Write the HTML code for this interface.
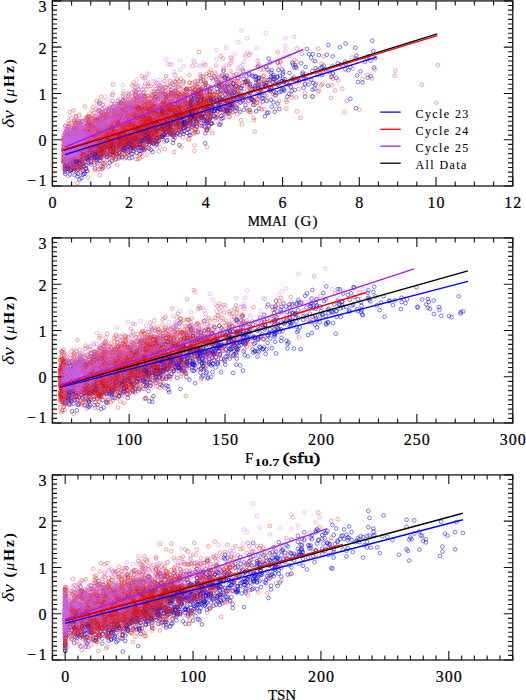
<!DOCTYPE html><html><head><meta charset="utf-8"><style>html,body{margin:0;padding:0;background:#fff;width:526px;height:700px;overflow:hidden}svg{display:block}text{font-family:"Liberation Serif",serif}.t{stroke:#000;stroke-width:0.22px}</style></head><body>
<svg width="526" height="700" viewBox="0 0 526 700">
<defs>
<marker id="mb" markerWidth="6" markerHeight="6" refX="3" refY="3" markerUnits="userSpaceOnUse" overflow="visible"><circle cx="3" cy="3" r="1.85" fill="none" stroke="#0000e6" stroke-width="0.7" stroke-opacity="0.72"/></marker>
<marker id="mr" markerWidth="6" markerHeight="6" refX="3" refY="3" markerUnits="userSpaceOnUse" overflow="visible"><circle cx="3" cy="3" r="1.85" fill="none" stroke="#e61e14" stroke-width="0.7" stroke-opacity="0.56"/></marker>
<marker id="mp" markerWidth="6" markerHeight="6" refX="3" refY="3" markerUnits="userSpaceOnUse" overflow="visible"><circle cx="3" cy="3" r="1.85" fill="none" stroke="#c864e6" stroke-width="0.7" stroke-opacity="0.55"/></marker>
<clipPath id="cp0"><rect x="52.4" y="0.9" width="460.35" height="185.1"/></clipPath>
<clipPath id="cp1"><rect x="52.4" y="237.9" width="460.35" height="185.1"/></clipPath>
<clipPath id="cp2"><rect x="52.4" y="474.9" width="460.35" height="185.1"/></clipPath>
</defs>
<g clip-path="url(#cp0)">
<polyline fill="none" stroke="none" marker-start="url(#mb)" marker-mid="url(#mb)" marker-end="url(#mb)" points="92.7,148.8 129.6,116.8 186.1,89.6 115.3,132 102.5,148.1 80.9,153.9 174.2,93.1 85.9,157.8 104.9,142.6 149.1,148.6 143.9,126.2 66.7,168.9 154.1,106.8 193.2,119.6 87.4,143.7 73.7,140.6 322.2,74.7 171.6,101.7 146.9,115.1 71.2,156.9 108.5,110.9 95.7,140.2 119.9,134.6 76.3,159.6 98.8,149.6 124.8,136 95.7,152.2 65.1,149 121.3,147.5 94.3,158.2 176.9,115.4 67.4,152.7 308.5,84.6 146.4,127.3 114.3,134.6 171,121.2 185.6,105 80.2,142.7 315.1,61.2 143.5,140 177.2,116.2 155.4,119.2 115.7,145.1 76.3,151.1 86.2,152.8 267.5,69.7 169.7,130.2 290.7,87.1 130.1,110.7 155.4,129.1 115.7,144.7 94,137.4 145.4,134.8 116.6,127.1 102.3,141.1 356.2,55.5 214.5,116.6 313.2,83 168.1,126.8 230.1,110.9 127,135.1 161.6,126.6 91.7,136.3 104.8,138.6 124.5,150.6 79.9,163.3 94.3,137.8 133,130.6 94.8,136.9 154.4,130.1 150.9,111.7 102.8,148.8 206.8,90.1 98.2,153.9 279.2,92.1 206.8,108.6 159.4,125.4 118.2,138.8 99,131.6 166.6,118.4 105,143.9 132,119.8 80.6,152.6 140.7,142.3 92.8,132.5 116.9,141.9 113,144 236.9,108.3 164,127.5 154.4,135.1 66.6,164.2 175.8,122.6 90.2,127.7 103.7,147.9 81.3,144.7 304.1,78.7 328.4,45 96.4,151.5 169.3,129.4 137.4,118.9 256,79.7 102.6,131.2 174.7,111.8 101.2,157.9 128.4,119.1 136.5,127.4 74.9,159.2 216.1,98.1 332.8,56.4 130.1,117.1 65.1,156.9 153.8,130.2 141.9,131.3 191,101.4 202.5,107.7 126.4,129.4 196.7,102.5 260.2,87.4 128.6,141.1 291.8,90.8 168.2,111.1 217,99.8 117.5,133.8 72.9,156.9 73.6,162.4 226.9,84.1 182.9,123.4 142.1,140.5 274.2,92.1 240.6,102.5 168.1,130.5 145.2,122.4 106.7,130.7 170,126.1 276.3,93 345.6,63.8 140.7,139.9 147,117 151.4,125.8 135.2,112 195.1,97.5 255,86.2 108.8,143.6 69.4,158.6 162.1,136.5 99.5,157.3 157.6,121.2 294.7,90 184.2,130.9 70.5,162.2 217.1,100.3 193.7,95.4 175,103.8 91.8,133.8 88.1,159.6 219.6,106.6 78.7,152.1 197.2,126.7 296,67.5 144,137.5 68.7,160.6 207.3,130 196.4,121.6 115.1,141.9 101.3,119 161.4,113.7 93.4,153.7 220.2,109 151,115.4 175.3,115.2 80.5,156.1 146.2,127.8 200.4,99.6 110.5,136.2 102.2,131.9 151.3,110.4 277.6,103.7 142.5,145.6 129.9,134.2 164.2,134 100.2,141.3 106.9,133.1 101.9,140.1 69.9,142.2 266.1,85.3 173.3,134.4 205.1,116.8 350.5,67.3 75,149.4 110.6,154.3 191.6,99.9 77.5,144.4 98.7,132.7 106.3,121.9 171,116.6 182.5,121.4 65.1,159.6 170.3,133.4 178,103.3 299.4,81.1 101.5,132.5 76.1,151.8 184.8,122.4 127.3,104.5 123.1,148.3 193.5,110.5 167.2,123.1 140.4,140.7 74.5,164.3 135.1,124.9 140.4,132.6 78.4,155.4 99.7,141 130.4,147.5 124.3,126.8 213.3,99.8 118,135.6 151.3,122.5 189.2,135 125.7,148.2 104.2,129.7 227.4,85.6 84.5,150.5 132.4,146.3 249.9,92.7 258.7,78.2 145.2,97 183.5,127.8 156.4,142.1 81,142.6 305.1,84.3 158.8,120.6 117.8,136.9 318.9,55.1 170.9,107.8 77.1,160.6 163.3,127.1 147.4,140.3 83,174.5 121.7,129.5 187.8,109.2 190.1,106.3 153.5,118.6 245.5,82.2 106.2,141.4 115.4,123.7 151.5,119.5 112.6,145.4 70.8,169.9 110.9,151.7 270.9,76.7 102.9,140.9 120.5,132.8 127,143.4 253.5,101.4 154.9,124.9 110.9,122.2 80.4,123.4 220.3,87 200.8,94.1 87.6,132.2 149.7,126.2 82.2,140 145.6,110.9 159,120 67,158.6 120.4,144 128.1,117.2 114.5,132.1 69.3,166.3 253.2,76.3 274.2,79.4 114.1,124.8 267,113.1 159.1,119.7 141.5,134.5 102.4,142.5 189.8,111.8 158.9,140.9 191.9,103.6 135.5,139 70.1,140 74.7,133.1 152.1,126.2 95.5,153.3 190.1,122.4 122.4,122.3 139.9,123.2 144.7,125 181.4,117.8 157.3,137.4 100.6,134.4 99.2,142.7 115.2,143.5 147.9,137.1 170.2,127.9 148.7,115.7 162.5,111.8 125,129.3 108.3,134 288.8,84.8 124.7,142.8 67.9,153.7 91.3,138.8 176.7,110.7 146.5,128 95.6,153.5 271.7,70.2 118.4,140.8 133.6,134.2 207.8,122.7 367.7,77.7 115.1,144.3 72.3,162.1 145.6,138.7 182.1,132.1 142,136.8 270.2,62.6 112.4,146.6 130.4,147.7 75.8,143.1 77.9,153.9 235.3,89.9 328,85.7 181.9,125.1 146.8,135.8 155.2,118.7 201.7,96.6 80.4,150.5 139.7,150.6 111.5,120.9 294.3,67.5 211.9,106.7 190.4,135.3 78.5,162.2 65.1,162.2 227.7,109.4 110.8,121 89,138.9 95.8,142.3 91.9,145.3 72.7,152 149,124.4 203.2,114.2 111.4,139.2 67.9,167 140.2,134.6 208,86.4 97.3,142.8 293,64.4 88.4,154.1 133.4,139.8 66,135.2 135.5,129 201.7,98.2 148.8,141.6 122.3,128.4 305.6,67 109.6,138.5 143.2,140.2 71.9,147.8 211.6,106.7 122.9,135.7 121.2,103.5 213.8,111 111.3,145.2 374.1,67.6 171,110.4 276.9,76.6 197,99.2 119.6,138.7 183.2,123.5 134.3,117.2 159.3,107.8 265.6,86.3 110.6,135.9 113.1,132.4 123.1,141.4 76.3,163.5 207.1,108.3 137.9,140.6 113.3,144.6 154.8,121.7 127.9,141.9 172,134.7 90.7,162.7 96.7,129.9 84.6,173.7 111.6,130.6 200,102.6 211.7,78.1 134.8,138.3 139.8,154.3 148.6,135.9 177.4,124.9 69.8,166.3 65.3,174 139.2,127.4 167.8,121.9 79.3,146.4 98.4,127.7 135.5,114.3 273.2,75.2 87,170.9 94.1,139.4 185.5,108.7 90.6,145.9 228.6,113.1 95,148.9 227.8,100.9 228.1,100.1 133.6,138 74.4,147.9 120.5,131 105.8,140.1 189,113.8 116.9,146.2 355.4,47.8 150.9,139.1 114.2,126.2 175.8,131.2 245.4,105.1 161.6,94.5 225.5,86.8 101,150.8 207.8,110 253.5,100.1 125.1,144.7 108.5,141.5 75.1,162.1 173.9,135.8 125.8,117 368.3,56.5 93.7,147.6 143.5,117.6 144.3,130 205.4,88.1 94.5,149 65.1,167 152.6,112.8 189,115.7 149.7,124.1 109.4,138.7 99.3,126.4 234.4,99.6 151.1,118.7 175,109.9 99,145.1 184,122.2 233.1,99.1 187.9,125.9 114.8,130.5 312.3,70.8 124,139 176.5,116.7 72.2,153.2 86.1,148.3 88.7,149.9 113.4,132.5 144.4,128 100.8,144.6 108.3,135.1 146.2,125.9 109.4,130.3 136.9,145.1 125.5,136.6 143.5,116.6 144.3,150.3 201.3,123.1 222.5,102 198.3,113.8 131.4,123.6 200.6,117.5 189.3,106.4 100.2,137.1 314.6,88.6 80.5,154 131.9,157.6 151.7,142.7 189.1,110.5 85.7,139.7 187.3,121.4 358.1,81.9 235.3,111 65.1,154.8 92.9,143.6 232.9,83.4 306.9,48.9 199.1,115 119.1,128.9 83,151.8 174,104.4 102.1,151 137.9,130.4 284.1,90.7 68.2,158.4 134.1,138 255.2,76.8 67.6,162.2 217.9,108.6 168.7,125.5 98.7,147.7 116.3,145.2 101.9,131.4 83.7,154.9 134.4,123.7 159,112.1 208.3,99.9 80.8,157.7 292.6,78.6 121.1,129.9 258,66.4 238.3,97.4 81.1,158.6 145.2,116.5 234.6,91.4 160.6,113.3 138.5,147.6 220,98.4 69.7,153.8 204.6,126.3 72.4,137.3 256.2,82.5 190.3,121.5 112.9,141.2 168.7,125.5 84.2,148.9 152.6,115.4 159.7,124.1 191.8,124.4 345.1,61.6 207.1,109.4 265.7,86.6 253.2,104.9 227.2,111.2 158.1,124.5 215.2,107.8 156.8,143.7 91.1,148 89.2,151.5 82.4,140.1 133.8,126.7 164.6,134.9 75.8,158.3 166.6,106.2 190.1,102.5 242.4,95.3 113.5,139.7 77.1,149.4 286.6,83.2 232,94.8 133.2,150.9 105,147.2 105.4,140.5 88.1,140.5 248.6,92.6 78,146.6 205.2,82.9 93.1,144.6 272.5,77.1 95.3,157.3 189.7,118.8 243.1,71.1 183.8,119.9 65.1,150.7 81.3,142.4 89,142.6 240.2,96.5 282.9,73.8 162.5,113.1 75.3,148.3 88.5,125.1 183.6,125.4 135.7,129.9 116,140.5 107.2,129.5 156.2,117.7 156,114.4 139.7,128.7 65.1,147.9 178.5,123.2 164.4,113 303.5,87.9 198.2,119.2 87.8,130.9 180.4,115.6 120.8,140.4 112.4,151.7 132.4,145.6 283.1,71.8 129.9,128.1 65.1,150.9 125.5,122.9 101.4,156.6 210.8,117.3 184.2,127.8 251.9,99 140.4,123.3 126.7,121.8 116.5,121.2 70.9,165.1 98.3,131.1 124.7,127.8 113.9,149.1 112.3,140.7 166.6,116.2 215.4,117.8 151.6,107.2 224.1,106 117.2,134.1 76.1,140.9 271.2,88.5 230.5,85.7 97.7,146.3 101,136.6 130.8,150.1 130.2,117.6 183.8,112.4 171.2,120.9 103.4,134 130.1,131.1 78.4,169.2 80.9,157.1 188.3,116.3 137.6,128.5 124.3,148.3 266,67 238.3,78.1 119.3,157.3 168.6,108.4 86.8,158.4 289.5,73 110.4,135.3 192.4,103 244.1,109.7 97.1,131.5 158.1,127.2 191.5,100.5 160.1,137.2 74.5,147.7 66.9,156.9 144.6,135.3 163.1,126.4 283.5,82.2 108.5,166.5 160.6,114.7 80.8,143.2 138.9,138.6 101.6,154.6 114.8,131.6 66.6,164.8 165.4,120.5 145.1,131.2 109.7,154.4 88.1,155.5 112.9,142.1 146.5,135.9 109.8,139.7 134.8,119.1 317.3,70.1 325,69.6 156.3,131.8 129.5,108.4 119.5,144.7 185.2,123.6 93.6,150.1 88.2,136 117.1,137.1 108.3,146 246.5,81.6 211.4,123.4 210.6,106.9 133.5,125.2 76,156.8 101.3,141.4 282.2,69.5 223.7,70.6 132,125.5 110.3,149.3 156.2,144.7 68.3,153.3 95.7,126.6 168.8,116.8 67.3,162 95.1,168.5 244.9,82.3 229.5,95.2 96.9,134.5 116.4,136 169.5,128.6 154.7,106 127.1,119.5 104.2,152.6 106.7,137 315.3,84.8 70,137.3 89.8,147 73.2,163.7 169,114.9 118.2,141.6 258.3,81.5 172.3,130.3 83,170.6 129.4,158.2 74.6,146.9 72.2,144.3 152.5,126.4 174.8,115.8 153.4,129.6 142.8,136.8 168.7,130.1 197.3,103.1 67.7,134.2 153.4,129.5 156.1,124.2 157.8,129.8 197.7,131.9 193,92.6 124.4,133.9 102.9,142 259.1,95.6 178.3,122.7 192.4,112.4 101.2,135.7 111.1,136.9 135.1,130.6 80.3,141 255,88.7 123.1,100.2 77.3,176.4 96.3,146.8 264.6,95.6 117.7,132.1 107.9,138.3 102.9,144.5 362.6,82.5 93.4,151.2 84.6,135.4 147.2,126.4 116.3,126.1 70.4,160 68.5,150.1 148.9,131.9 142.6,133.1 194.7,117.6 108.2,119.3 203.9,99.2 165.2,126.1 125.3,122.7 248.9,74.4 124.9,133 151.1,130.9 142.9,134.8 121.9,136.1 176.3,121.5 188.4,128.8 87.5,149 203.8,102 121,131.6 169.3,113.8 183.8,127.5 102.6,144.1 123.2,128 71.1,149.3 65.1,154.7 149,132.8 158,106.8 241.5,96 65.3,157.7 80.6,142.5 302.7,72.5 67.5,167.3 127.5,152.6 101.5,150.9 277.6,77.1 169.9,118.2 158.1,99.1 151.1,133 118.3,148.8 74.8,160.6 147.1,134.2 287.3,96.6 200.7,81.2 242.5,100.9 278.8,82.7 149.9,120 150.1,109.2 102.9,153.1 204.1,99.7 195.5,94.6 114.8,145.2 211.9,123.5 120.4,142.4 242,85.8 273.9,77 150.3,134.1 165.9,121.2 93.7,134.9 69.4,151.2 158,118.5 106.1,131.7 80.1,150.4 88.5,147.9 110.2,141.5 79.6,179.4 152.2,117.5 126.8,134.7 146.7,115.7 116.8,132.8 216.8,88.8 256,76.3 221.6,118.6 174.5,100.6 166.5,140.9 155.8,126.1 132.5,144.7 134.7,123.6 100.6,141.6 207.6,106.2 126,148 74.2,145.5 205.7,105.9 221.6,99.7 177.7,109.8 127,132.6 185.1,114 75.1,147.2 126.1,139.7 120.1,133.2 76.4,148.8 167.5,118.1 183.4,134 74,147.1 138.7,107.9 139.8,144.6 137.4,119.2 110.2,141.8 83.7,131.1 122.1,127.4 89.8,136.8 175.1,114.2 185.3,102.1 210.8,98.9 129.7,136.1 130,128.7 105.3,142 100.8,153.6 133.3,136.5 116.4,130.6 99.6,152.5 78.6,166.5 195.5,119.2 145.5,116.5 192.2,114.8 116.4,129.5 80.6,139.2 190.1,119.7 227.7,111.5 191.6,107.8 179.4,114.8 77,151.8 107,157.2 70.9,139.4 105.2,129.1 99.5,136.2 65.1,151.5 119.2,136.2 113.9,127.6 75.8,167.8 280,75.8 157.9,117.3 109.1,146.6 218.9,86.3 150.9,116.1 97.4,149.9 148.5,133.5 302.5,74.1 119.8,131.9 92.3,143.6 119.1,135.8 119.4,126.9 91.4,152 169.9,133.4 78.7,147 65.1,153.7 122.1,145 129.3,139.2 201.2,100.2 89.7,139.8 145.8,116.9 72,158.4 148.7,139 230,105.5 159.1,121.4 178.4,114.8 127.9,126.8 91.5,152.1 77.3,148 106.9,135.1 113.3,125.5 72.7,148.5 120.3,132.1 124.6,143.7 177.9,103.9 95.3,130.3 172.4,110.7 116.9,139 236.8,96.9 65.1,147.5 235.7,86.5 233.5,96 142.5,132.1 209.7,111.9 194,115.6 95.5,142.9 86.3,165.1 129.8,126.5 173.6,113.7 178.9,110.6 96.6,146.7 180.6,128.7 212,91.9 279.3,85.8 102.9,136 120.5,134.8 68.9,159 168.1,124.3 85.5,134.6 139.2,116.1 74.5,151.6 113.3,128 155.9,111.5 150.8,138 102.7,144 150.2,139.2 78.4,142.3 93.5,134.6 126.4,126.7 131.9,144.5 151.6,115.6 75,155.6 163.6,108 175.6,107.4 226.2,107.2 218.4,104.6 133.8,128.3 65.6,156.3 173.3,107.9 68.1,147.3 110.6,135.9 137.5,116.2 65.9,145.1 232.1,103.9 155.7,129.9 132.6,111.7 225.2,98.2 110.6,146.5 113.2,139.6 200.2,116 207.2,128.2 81.8,150.3 94.2,123.4 88.6,144.7 162.6,103.2 95,146.4 68.3,168.5 256.1,111.1 203.8,103.4 191.3,112.8 170.7,124.2 85.8,159 140.9,127.4 97.4,139.3 103,167.2 138.9,125.4 201.5,108.9 91.4,153.4 198.5,108.1 72.2,150.9 104.6,139.7 98.2,132.1 138.4,127.2 169,112.2 231.1,92.9 138.3,116.3 155.2,131.6 128.9,134.6 81.9,141.2 152.7,129.3 74.5,168.3 81.2,148.1 112.8,141.6 203.4,96 166.5,124.2 221.3,90.4 261.8,83.6 192.7,113.2 122.8,111.5 231.3,104.9 203.9,113 118,136 81.2,140.1 181.1,106.6 80.9,160.4 154.8,99.4 236.4,94.1 189.9,120.7 78,149.3 357.1,75.5 271.8,106.7 179.8,135 99.5,132.2 131,138.2 138.9,127.3 66,142.1 151.2,115.8 206.6,121.3 95.9,145 218.2,92 66.2,162.5 108.5,147 193,124.6 105.1,126.9 82.8,149.6 149.3,128.5 70.7,152.5 130.3,120 86.1,148.1 84.7,141.2 164.8,117.7 197.8,91.6 80,149.9 67.9,135.9 276.6,80.9 82.4,162.9 322,66.8 128.7,127.1 178,115 151.2,118 92.3,137.7 112.7,143 164,108.4 71.7,146.7 332.6,65.8 177.9,123 208.7,126.2 125.3,124.3 202.7,117.3 132,132.6 333.1,73.6 66.2,152.8 110.5,134.5 120.7,132.3 143,128 130.7,136.8 163.6,129.1 84.1,152.4 97.4,144.2 236.7,100.9 78.3,156 258.5,88.4 89.3,138.8 107.4,137.4 145.4,108.3 138.6,118.1 198.3,113.8 89.6,157.3 119.8,131.4 162.8,114.8 125,138.7 135.4,139.1 149.6,125.7 152.3,125 151.2,134 118.6,142.4 65.1,141.9 128.2,126 282.5,89.5 137.9,116.7 249.6,96.6 120.9,128.1 122.2,139.9 91.6,134.6 136.5,130.7 205.1,115.8 156.9,117.8 177.3,113.7 116.1,142.5 213.1,98.7 266.5,101.1 127.6,131.4 156.6,139 174,109.8 145.3,120.8 122.2,149.3 191.1,105 225.1,78.3 80.6,155.1 87.3,158 170.9,124.6 96.7,156.7 195.6,117 144.4,134.1 198.2,94.1 144.7,122.1 89.5,153 154.5,126.6 73,129.5 65.1,147.3 174.2,132.8 83.9,173.7 112.4,140.5 134.4,125 97.4,137 190.2,118.5 96.7,157.8 134.2,120.6 166.2,122.5 178,124.3 68.1,150.5 197.7,103.8 225.4,107.2 206.4,121.1 110.2,122.6 143.4,131.8 81.3,145.6 145.6,119.9 160.6,124.7 99.1,127.3 90.7,131.6 139.1,123.8 167.2,123.4 221.9,85.4 198.6,96.9 87.7,144.3 145.5,142.1 130.8,142 171.6,116.8 270.1,90.2 69.7,146.7 127.7,134.3 226.1,89.7 65.5,154.5 194.8,90.3 150.8,115.9 65.3,164.8 111.5,139.7 151.8,113.8 264.9,116.4 206.5,121.6 69.6,159.4 78.4,161.5 115.3,135.7 214.9,110.8 148.1,137.5 159.6,116.3 250.2,83.8 73.3,145.9 74.9,144.7 150.9,149.8 72.8,142.1 80,145 167.4,134.8 315.7,68 331.8,77 167.7,119.2 109.9,134.3 168.7,115.5 79.8,167.6 111.3,145.2 80.5,153.4 141.8,141 154.4,115.9 126.3,125.8 348.5,70.2 137.6,126.4 216.3,79.5 79.7,158.3 126.2,157.4 113.3,155.5 350.4,98.7 91.3,152.5 360.5,71.3 142.2,128.5 126.8,127.7 78.1,173.7 91.1,138.1 121.3,139.5 142.1,119.4 146,127.6 128.3,134.8 65.1,171.8 282,81.3 94.8,142.7 112.7,151 154.5,118.3 77.6,140.9 101.3,144.5 111.1,143.6 230.8,90.6 122.5,109.2 93.9,145.1 91.6,142.6 79.5,153.9 82.9,136.8 123.4,143.3 201.7,115.9 71.4,164.9 125.8,142.6 129.1,119.1 356,58.8 80.7,150.4 345.6,43.5 269.8,79.8 184.3,107.1 176.9,125.6 141.9,130.8 91.2,164.6 281.3,91.3 127.4,137.6 136.6,124.1 88.6,162.7 168.1,125.5 132.4,116.2 203.6,111 172.2,122.6 243.5,78.8 258,78.2 85.8,147.1 111.9,160.8 141.6,113.2 148.7,125 138.1,127.5 274.7,111.8 201.8,126 149.2,134.1 67.7,150.8 123.9,142.9 112.7,123.9 146.8,141.1 122.6,118.6 117.6,131.2 106.4,127.1 65.1,155.2 157,111.7 240.9,87.8 213.5,102.8 207.8,101.2 146.8,123.6 70.5,159.7 117.9,143.2 107.5,144.2 157.1,138.1 112.1,141.2 167.9,108.8 199.9,113.1 225.5,113.8 130.1,143.5 222.1,75.6 143.3,132.4 151,119.8 125.8,139.2 364.9,62 152.4,125.9 84.2,145.7 73.5,159 99.5,146.5 151.7,128.9 73.5,140.1 73.6,147.5 134,132.6 83,141.1 153.4,132.1 98.6,138.6 154.2,125.9 193.9,118.6 113,152.1 176,119.5 147,128.6 105.3,124.2 105.1,125.9 149.1,144.6 192.3,115.1 102.8,142.9 137.4,133.2 216.5,84.8 66.5,164 71.4,150.6 95,153.7 104.6,135.6 175.7,112.8 66,150.4 111.9,131 271.2,72.8 152.7,140 309.1,54 90,140.1 104.8,126.1 268.6,58.6 138.1,128.9 80.3,166.7 133.6,138 197.3,121.2 146.5,130.3 190.3,101.5 66.4,136.6 187.7,129.2 82.1,161.8 123.5,128.5 207.7,98.3 82,136.2 162.5,113.8 79.2,159.9 126.2,136.6 163.5,111.5 230.7,103.2 88.3,136.2 99.6,145.8 132.7,131.6 356,108.3 79.4,148 74.1,170.7 211.2,99.6 189.7,103.8 108.1,142.7 227.9,79.1 340.5,64.7 156,113 152,135.6 268.4,112.5 165.9,132 78.7,149 84.1,148 169.9,115.5 366.4,57.7 163.9,118.9 323.7,65.6 174.5,110.6 92.9,140.2 240.4,88.1 132.8,147.5 337.8,63.3 194.6,108.1 144.8,123.5 98.6,135.9 114.9,135.3 141.5,119.2 120.2,128.6 219,108.1 120.3,133.4 171.3,126.2 75.6,157.8 97.8,158.5 132.7,118.3 116.1,133.4 243,99.7 139.6,127.1 65.1,170 150.3,121.1 246.3,97.4 93,154.1 181.6,103.5 68.3,160.7 79.3,136.7 109.9,142.7 225.8,101.4 71.8,152.3 184.5,98.1 153.6,143.4 182.2,110.5 91.1,130.4 97,149.7 153.5,121.9 132.3,128.1 224.5,90.2 187.1,88.7 97.4,163.3 156.9,129.4 219.3,124.6 209.7,97.2 94.5,147.5 187,132.9 109,147.1 236.3,85.7 370.8,76.3 273.5,102.3 215,108.6 100.2,150.6 65.1,146.7 78.4,144.9 147.9,129.8 146.5,134.9 86.2,145 112.8,135.5 72.6,152.4 65.5,162.4 127.8,146.6 147.8,115.2 109,128.3 144.5,118.7 125.9,137.5 174.2,116.4 144.4,119.3 88.3,134.9 103.5,137 140.6,146.8 91.6,131 249.8,85.1 147.3,126.5 86.8,144.5 144.2,125.3 213.8,111 94.7,127.5 210.2,106.7 113.5,134.8 188.5,114.5 249.7,110 176.1,123.6 80.6,147.6 119,124.3 111.2,136.1 80.3,140.2 115.9,146.2 207.3,118.9 152.3,130.2 151.3,115.9 115,136.5 128.7,146.7 284.6,81.8 185.9,109.4 116.9,139.6 153.9,127.5 146.5,112.2 211,112.8 105.5,132.1 110.8,148.6 149.2,139.5 186.7,123.4 234.3,92.7 138.1,135.7 88.4,153.3 240,111.7 104,127.4 205.4,133.3 162,123.5 298,78.7 188.8,120.6 166.5,106.1 88,143.2 129.1,151.8 140,144.2 65.1,161.1 65.1,137.6 113.5,148.3 79.8,158.9 210.1,118.4 161.9,129.1 162.5,120.5 125.5,112.8 123.6,133.3 121.7,157.3 114.2,141.3 277.9,84.6 121.3,137.4 312.7,54.2 87.8,146.7 278.3,70.1 170.5,106.3 86.5,148.9 220.2,124.6 177.8,118.5 173.5,139.8 93.6,146.2 120.9,124.3 329.2,71.8 125.7,137.7 87.6,153.5 101.3,140.4 86.2,168.4 162.4,129.4 294.2,77.5 167.9,115.5 258.6,86.1 84.1,133.1 70.4,145.8 148.4,119.5 138.9,135.3 182.9,123.3 162.8,101.9 151.2,140.3 225,99.9 78.1,153.1 252.6,88.8 73.1,154 87.5,142.1 163.9,126.9 92.1,157.6 71.3,153.5 193.2,114.3 111.6,142 148.9,127.4 191.1,97.6 183.4,99.8 80,149.4 139.7,125.9 229.4,104.8 226.3,109.5 279.4,109 72.3,162.9 111,143.3 65.1,154.3 69.9,174.4 96.5,147.7 210.8,123.7 165.3,124.6 68.6,159.7 109.4,132.8 116.1,159.1 107.4,142 68.6,151.8 70.5,170.5 130.4,135.2 101.2,141.6 196.3,112.2 75.9,157.4 184.8,124.3 193.5,116.3 168.4,105.7 85.9,169 76,143.4 131.9,141.9 146.2,131.4 110.3,144.1 227,75.5 107.5,145.2 163.4,136.8 95.2,137.2 152.3,111 236,106.5 83.1,163.9 200.9,89.1 167.3,140.2 111.1,144.5 109.5,141.6 125.4,134.5 158.9,120.4 91.8,147.3 158.1,118.7 121.8,111.3 104.5,126.6 164.5,119.5 125.4,137.5 114.3,139.4 191,106.4 92.6,147.8 267.8,80.1 76.6,150.1 111.4,122.5 68.6,151.8 137.8,124.1 275.5,95.3 179.4,145.2 153.3,143.4 166.9,132.2 201.9,106.1 126.1,141.7 246.5,76.1 133,147.6 226.8,91.5 123.5,129.5 370.5,60.7 188.1,109.1 110.8,123.8 96.4,145 142.8,127.3 68.7,163.2 202.1,117.4 238.7,96 182.5,115.4 117.4,134.3 168.1,120.1 301.2,63.2 186,109.3 106.7,156.8 205.1,143.2 252,75.5 74.8,150.9 254.4,87.7 107.1,140.2 68.7,151.2 119.1,121 196.8,109.7 67,153.7 135.7,140.2 120.8,120.3 138.1,134.4 165.4,129.7 69.9,170.7 119.2,127.3 99.1,148.3 195,98.9 230.2,107.7 89.4,155.2 116.1,139.9 107.4,155 250.8,99.2 177.2,110.7 115,117.2 177.5,133.7 140.5,109.3 113.5,144.8 91.2,145.7 82.7,149.1 173,143 130.5,137.5 231.8,87.1 129.2,123.7 161.9,108.4 80.2,160.4 82.1,133.3 339.8,47.2 90.1,137.5 87.7,141.1 65.1,145.7 345.4,69.3 98,140.6 154.7,110.3 165,129 192.3,126.8 269.3,90.2 179.1,130 151.3,123.8 102.5,137 79.6,147.2 119.6,130.9 97.1,139.6 141.6,119.7 130.7,135.7 103.6,163.4 118.8,153 97.9,128.4 161.7,111.1 89.5,147 123.4,150.3 143,114.1 139.3,124.9 211.8,111.2 117.4,127.3 101.9,135.7 190.9,116.6 148,118.3 181.2,112.9 75,154.6 215,109.3 176.7,112.5 140.1,119.9 112.7,120.4 149.1,138.3 74.6,146.1 88.3,146 106.3,136.8 130.5,141.1 303.7,75.6 83.5,145.3 282.9,78.7 179.5,115.3 257.8,87.1 233.5,83.5 228.4,94.3 137.9,113.8 172.9,121 139,125 132.8,143.5 184.4,99.8 336.4,77.9 247.8,80.9 93.4,149.5 97.4,141.5 86.9,142.2 145.9,138 93.8,129 141.4,151 110.6,132.5 87.5,125.8 95.4,151.5 184,115 74.7,157.3 136.1,116.5 138,136.7 181,127.7 284,89.4 118.8,133.1 229.5,104.7 114.6,137.2 149.8,127.2 152.8,130.6 209.4,113.5 108.8,138.6 84.2,140 76.8,170.3 91.4,155.6 139.8,132.7 126.3,114.1 87.8,146.7 225.4,77.4 95.5,153.2 129.7,129.3 183.8,125.2 65.1,142.4 162.2,112.3 95.9,140.4 111.6,119.5 132.4,153.9 191,114 99.9,132.6 173.2,115.5 126.4,146.7 65.1,149 76.7,162.2 190.7,105.7 89.9,149.7 320.6,68.2 108.9,141.1 135.5,116.2 168.3,104.8 89,144.3 375.1,58.1 92.9,145.5 159.9,130.7 277.8,62.5 372.3,40.8 155.5,119.6 265.9,83.1 130.6,141 108.2,140.3 225.9,90.7 84,154.8 142.8,114.4 94.9,147.2 80.8,146.1 101,146.7 76.3,148.5 69.9,159.3 106,140.3 136.6,145.7 96.4,141.2 185.4,122.5 227.2,100.6 135.9,132.4 92.8,151.5 125.6,144.6 295.4,65.4 65.1,166.1 281.9,81.1 99.1,155 80.5,139.1 221.3,116.1 75.8,152.4 109.4,139.1 138.6,124.2 75.2,156.2 89.8,155.2 80,145.6 163.6,130.4 270.5,87.8 199.1,102.9 80.9,166.4 65.1,155.2 78.8,141.3 93.7,140.2 138.3,127.4 93.8,152.7 115.7,142.4 132.5,138.5 169,131.9 206,107.1 151.5,128.7 271,99.7 101.2,140 223.2,118 124.1,133.9 103.8,132.4 201.1,117.7 65.9,160.7 88.6,144.3 132.7,120.6 165.6,125.4 94.8,138.5 265.5,85.8 172.4,111.1 160.1,136.9 73.8,168.9 172,130 65.5,169.3 92.3,146.6 105.2,134.9 118.9,138 133.6,129.2 118.1,121.4 179,97.6 123.6,149.9 122.1,131.1 78.8,150.1 220.8,105 106,143.9 220.4,109.8 312.5,89.7 115,138.2 143.9,149.5 86.2,158.6 184.3,121.8 123.6,131.2 101.9,134.2 193.4,117.1 326.8,54.8 148.8,122.7 81.5,178 167.9,118.3 124.9,138.1 105.8,146.5 117,141.7 123,138.4 108.5,144.4 155.4,134.3 92.6,128.4 70.4,137.2 152,121.8 150.1,141.9 119.4,117.9 96.1,136.7 179.6,118.3 113.2,140 211.4,100 107.7,150.7 273,79.2 83.6,138.4 145.4,122.2 129.2,121.9 263,98.2 101.2,139.2 209.8,118.9 219.6,99.1 132.4,140.1 211.8,101.4 100.1,132.1 138.9,140.4 151.1,117.1 90.7,161.3 130.9,138 196.8,123.1 166.8,113.6 197.9,96.5 156.4,138.2 82.2,121.7 171.1,90.1 223.1,109.5 146.6,144 69.2,133.9 159.4,125.8 163.5,116.2 120.7,140.3 89.3,142.6 161.5,117.3 132.9,117.1 166.2,121.9 136.3,124.9 70.5,154.9 80.3,158.1 109.4,142.8 67.5,152.9 196.7,93.4 81.2,151.2 131.7,127.5 219.4,109.2 207.9,105.9 75.3,156.7 305.9,78.8 105.2,131.5 143.5,133.6 66.7,133.3 136.7,143.8 127.8,139.1 179.2,107.4 171.7,124.2 260.9,89.6 153.4,121.6 71.5,169.7 76.8,160.6 67.5,159.7 312.6,96.5 155.5,120.7 77.8,154.5 73.6,142.4 110.8,124.7 147.9,127.1 151.1,131.9 111,125.7 77.4,145.2 142.5,134.1 113.7,129.4 92.2,142.1 135.4,130.8 98,133.5 289.1,93.8 154.9,115.7 96.4,138.8 91.5,148.2 185.7,124.5 113.4,138.1 142.9,134.6 155.6,126 219.2,105 125.1,128.5 142.2,107.5 179.2,97.1 194,106.8 91.3,141.7 117.8,133.4 81,146.8 80.1,141.7 211.6,110.2 137.2,147.8 94.4,154.3 227.6,102.7 105.9,135.3 179.3,108.8 311.3,79.8 158.8,116.2 103.7,140.4 101.1,145.7 124.3,143.4 128.7,127 108.4,138 93.7,147.2 142.8,148.1 94.3,137.6 75.2,139 264.2,83.7 130.8,138.7 373.3,51.1 162.7,135.3 84.3,166.1 119.5,152.8 156,117.2 131.2,129.6 65.1,155.5 115.5,153.4 136.6,105.7 129.5,119.8 77.1,154.4 134.2,130.4 182.1,108 305,96.7 107.3,136.1 232.9,100.1 127.3,137 191.5,107.6 159.1,128.4 224.4,99 196.6,99.5 317.3,74.9 112.3,148.3 79.5,152.2 189.4,110.9 140.9,118.8 118.9,137.7 77.9,150.3 99.5,144.8 166.6,97.1 74.7,175.1 259.3,108.6 176.3,127 120.6,146.1 120,128.5 272.8,82.1 138.8,125 105,132.1 99.6,147.8 194.6,115.4 152.3,139.8 100.3,160.6 152.6,152.1 94.1,157.5 183.7,116.1 212.6,107.6 133.5,117 121.9,135.8 157.4,129 206.5,122.9 78.4,150.8 194.4,117.8 110,162.5 292.2,79.6 220.2,94.6 119.8,138.2 75.8,145 87.7,156.1 156.9,118.3 148.7,111 127.7,135.3 128.1,125.6 101.1,139.4 284.7,79.3 74.6,150.8 119.7,136.6 193.7,125.6 140.2,128.3 97.3,138.5 66,156.9 164.1,120.8 222,99.9 99.5,103.7 129,143.3 146.4,133.3 163.4,134.6 96.1,159.9 142.1,124.8 73.2,140.1 207.2,91.7 162.2,127.3 261.8,98.5 103.7,149.5 209,101 167.6,95.8 103.5,151.3 105,129.6 113.1,149.6 149.2,120.8 231.9,108.5 157.3,140.9 212.6,102.9 66.9,157.9 97,136.1 134.8,117.9 232.4,103.1 183.8,120.2 136.7,153 111.2,145.3 106.9,149.8 311,57.5 121.4,126.8 149.8,121.7 76,161.5 134.4,148.9 100,136.1 107.5,139.3 86.4,158.5 103.8,136.2 153.5,126.2 81,141.5 179.1,117.7 119.1,127.1 204.1,121.1 181.2,118 179.1,107.1 135.6,125 71.2,152.3 210,91.9 164.9,126.1 95.6,134.7 100.5,143.8 252.5,100 73.3,157 258.4,91.5 88.1,157.2 91.1,131.2 213.9,115.8 200.4,104.6 69.5,165 218,101.5 99.7,145.8 262.8,101.6 148.2,119.2 259,77.5 146.3,130.6 131.4,110.6 260,94 125.7,136.1 225.1,93.7 190.9,96 136.8,118.6 113.7,147.9 79.5,158.2 142.2,131.8 72.7,142.6 123.3,135.1 116.1,148.2 145.2,135.3 116.8,154.4 101.4,143.4 296.7,80.1 217.8,111.2 69.3,152 168.3,117.4 224.8,110.5 141.6,144.7 85.1,147.9 113.2,136.9 292.3,62.6 162,136.9 239.5,94.2 134.2,119.3 77.6,152 177.5,132.9 108,140.6 122.3,124.1 231.6,106.9 92.3,149 81.2,145"/>
<polyline fill="none" stroke="none" marker-start="url(#mr)" marker-mid="url(#mr)" marker-end="url(#mr)" points="104.6,153.9 226.3,89.8 200.4,100.6 86.2,149.1 73.4,155.9 77.6,147 122.1,136.9 94.3,163 218.3,97.3 171.2,92.3 296.6,61.8 209.5,91.3 110.7,130.7 123.4,118.5 164.9,95.4 207.4,99.8 195.7,109.8 103.8,132.9 185.5,113.2 100.2,139.3 160.4,122.7 246.3,82 69.4,149 106.9,147.1 136,129.8 112.1,138.7 165.5,87.7 186.4,95.8 105.5,118.6 103.3,137.1 157.9,104.8 67.3,149.6 108.1,127.5 259.1,65.1 177.7,92.8 96.5,137.7 155.6,112.7 72.8,144.5 98.7,110.4 157.9,141.7 100.1,137.8 138.4,139.5 85.2,141.5 135.7,92.1 123.5,119.1 112,124.3 164.6,115.9 209.1,74.8 143.4,97 100.6,135.6 96.4,161.7 82.6,121.1 132.8,138.6 147.5,116.1 165.6,102.9 109.5,134.7 152.7,127.9 133.9,132.5 194.8,131.9 134.7,109 142.3,120.6 154.2,119 120.6,109.4 159.2,125.9 92.9,127.9 181.1,104.9 105.4,127.3 92.1,141.1 125.4,120.8 104,126.2 113.5,136.5 193.1,111.8 142.8,128 132.6,122.8 138.4,104.5 83.9,147.6 167.5,104.6 234.2,95.5 129.3,126.9 64.8,154.8 142.2,103 122.9,132.3 141.8,76.2 159.7,87.9 163.9,126 239.7,83.9 184.9,107.8 63.4,160.8 161,136.2 126.6,137.6 237.6,77.6 153.8,112.4 90.8,126.4 144.3,122.6 135.4,120.7 136.7,119.1 93.9,112.7 94.5,170.3 159.7,147.2 157.3,114.4 181,119.4 97.9,135.5 125,99.8 145.3,127 119.1,123.6 195.2,89.4 129.6,126.9 119.2,129.8 98.4,127.4 395.4,70.8 93.9,142.4 105.7,129.5 131.4,117.2 124.5,129.8 162.2,106.9 97.6,141.4 153.8,115.8 115.2,125.3 129.2,115.5 193.4,114.1 120.2,114.9 127.9,117 189.3,128.5 98.2,125 103.4,117.5 115,117.9 106.7,134.8 73.6,138.5 120.3,111.5 147.9,109.6 75.7,138 161.2,103.4 165.3,87.2 85.4,117.8 137.5,141.5 113.9,129.3 184.2,97.2 172.9,121.1 135.5,107.2 82.6,143.5 101.5,130.3 154.7,134.7 219.6,97.5 120.8,113.3 75.7,128.4 165.6,124.3 121.4,126.7 156.8,115.5 93.7,129.2 155.9,121.3 166,76.2 86,150.7 98.9,150.7 109.4,118.1 138.6,137.9 105.3,147.8 149.9,119.9 67.9,155.9 74.5,156.5 119.3,128.1 107.9,138 148,141.2 142.4,132.5 114.1,116 140.1,138.8 171.3,94.1 135.9,106.1 94.9,119.2 218.8,82.4 164,120.4 145,136.3 74.5,127.8 148.1,116.6 294.3,59.9 75.3,122.4 114.5,119.2 197,86.7 63.4,162.7 149.6,110.6 201.6,115.6 133.6,121.8 115.1,120.8 190.1,92.2 77.7,131.6 129.5,119.9 312.1,96.6 121.7,115.4 121.7,144.6 223.5,77.4 161.6,118 199.1,95.5 212.1,73.6 104.8,164.4 165.9,112.4 89.1,153.4 98.7,153.1 163.1,114.8 78.7,144.2 66.3,159.1 97.2,131.8 179.1,113.4 234.8,98.8 140.4,126.6 150.9,110.3 149.6,107.6 102.9,154.2 178,93 177.3,119.4 82.7,159.7 118.7,134.2 120,134.2 136.4,159 173,122.1 86.9,148.3 67.9,125.9 144.4,120.3 84.4,137.2 111.5,132.3 165.6,128.6 197.8,81 99.1,143.3 176.3,96.8 165.8,123.7 98.5,124.4 201,76.6 202.3,120.4 166.8,104 196.6,123.2 104.5,140.7 145.5,140.7 88.9,142.2 108.3,141.7 152.7,106 130.2,100.6 84.2,155.1 173.3,108.4 67.7,152.8 216.7,113.8 196.7,107.6 150,124.1 216.3,94.5 250.7,88.6 170.7,100.8 89.1,143.9 104,122.1 98,119.2 92.3,145.9 143.7,146.8 304.4,83.3 106,154.1 102.9,147.4 117.6,124.1 143.5,120.4 158.1,108.7 253.6,118 81.5,138.3 111.2,138.4 87.5,125.5 187.6,89.7 173.6,109.9 69.5,141.7 111.2,120.8 106.8,137.1 101.8,132.1 87.3,132.6 160.6,86.7 98.5,130.5 231.3,82.5 136,99.8 68.7,166.7 270.3,90.6 104,143.2 81.2,131.9 281.8,89.8 105.2,119.1 85.4,141.1 104.9,141.3 128.1,136.6 70.9,150.7 111.4,111.7 149.3,116.9 121.3,116.1 134,138.4 111.4,104.1 172.4,108.9 239.6,102.5 73.5,138.6 143.3,122.1 195.1,86.2 131.6,117.2 206.7,73.8 113.7,117 125.1,123.3 106.8,130.6 97.2,142 220.3,104.9 121.6,113.3 367.4,74.9 85.6,129.1 83.3,138.3 138.7,134.9 97.6,125.4 94.8,147 134.8,105.7 120.4,133.3 99.4,134.5 156.1,93.7 202.6,103.1 74.2,151.1 137.1,122.4 362.4,79.1 161.2,107.7 101.5,117.4 166.3,106.4 175.7,94.1 74.5,128.2 124.7,114.7 65.5,159.4 156.3,134.6 175.5,130.4 117.6,132.8 177.1,107.5 137.6,100.4 143.5,127.8 224.9,85.6 88.5,144.3 136.6,124.2 63.4,135.7 139.4,123.9 160.7,135.8 116.1,126.5 151.8,116.2 69.3,135.3 127.1,108.5 278.8,65.6 174.4,120.2 135.7,109.5 133.7,115.8 130.1,127.2 257.2,102.9 121.8,123.9 115.3,121.5 207.6,102.2 138.3,120.9 141.4,126.6 64.4,139.5 114.9,146.7 210.3,117.9 172.7,108 128.5,116.4 173.2,84.8 179.3,94.3 196.6,117.3 167.5,107.3 81.4,142.4 145.9,121.7 139.5,126.4 114,122.1 105.3,162.8 84.2,145.2 170.1,101.3 100.4,157.3 153.5,116.8 142.5,156.8 225.8,75.3 147.4,107.7 67.4,128.4 117.6,123.4 220.5,85.4 217.9,77.1 113.7,133.3 206.7,113.7 93.5,119.4 124.1,137.4 74.9,154.7 106,125.5 109.6,138.8 233.1,112.1 79.5,137.5 86,151.5 176.6,104 122.5,127 113.6,121.5 72.3,144.7 225.1,88.2 127.1,107.6 168.3,130 77.3,150.6 154.5,96.9 95,131.9 111.3,118.6 149.3,112.1 67.8,129.8 164.3,104.6 135,144.4 145.4,129.7 121.5,117.2 141,101.6 123.7,127.8 144.6,133.5 133.9,121.4 90.7,139.6 152.1,91.5 126.4,115 144.4,95.9 187.1,103.3 129.8,132 182.7,96.2 105.9,120 181.8,102.4 68.2,126.5 112.7,107.5 107.7,135.1 122.7,128.6 220.2,84.5 182.9,94.6 105.4,124.4 127.5,107.2 147.1,121.5 70.8,153.2 103.8,150.4 272.7,92.4 302,53.8 162.7,107.4 146.9,129.2 119.5,110.9 210.6,99.1 263.4,83.9 163.1,114.6 186.8,124 128.1,122 122.8,127 110.2,147.1 160.8,114 112,136.7 110.5,123.7 131.4,130.6 204.6,95.5 76.4,134.5 260.1,89.8 75.1,144 108,128.6 182.1,116.9 83.3,138.6 67.6,152.2 161,114.6 84.3,144 111.8,130.2 114.5,132.7 205.4,100 67.9,147.5 81.5,169.6 142.4,120.6 69.1,131.7 66.1,153.4 76.5,172.5 286.2,108.7 240.9,97.1 208.9,101.2 133.6,82.7 220.9,81.7 134,109.9 115.8,127 134,90.5 123,112.7 319,90.6 128.2,136.8 112.4,135.9 100.1,123.3 116.4,144.2 91,135.3 125.8,143.7 72.9,154 162.8,122.1 116.9,116 148.7,82.2 128.1,133.1 79.1,146.2 88.7,116.9 138.9,125.5 135.2,107.3 197.9,112.5 188,113.2 161.7,128.4 194.4,150.8 136.8,152.7 141.5,148.9 163.7,123.7 175.1,105.8 97.5,119.1 163.3,118.5 128.1,117.2 84.5,139.6 101,141.8 123.2,120.1 165,97.7 177.9,124.9 114.9,111 115.9,143.2 119.8,152.3 160.3,93 172.6,95.7 134.5,111.9 93.6,146.1 162.8,99.1 131.3,111.6 221,89.6 108.4,126.4 87.4,148.9 67.5,154 331.1,98 71,153.4 82.5,145.3 81,132.9 107.4,140.5 118.7,113.6 91.3,138.9 92.8,134.1 108.6,140.4 126,133.4 63.4,145 75.6,152 133.4,121.1 73.8,157.3 207.9,101.7 254.7,131.5 93.3,144.5 73.6,142.1 121.4,103.3 98.7,143.6 177.2,79.4 199.6,102.8 88.3,135.2 97.4,143.6 254.7,88.1 174.7,107.3 297,111.4 84.8,140.2 168.4,96.2 143.5,115.1 122.9,131.6 145.2,104.3 137.6,132.1 170.7,96.4 67,147.9 131,135.7 202.7,118.5 142.9,115.9 110.5,133.2 163.1,119.3 101.1,131.2 132.6,115.7 143.9,92.4 96.5,120.1 126.1,113.8 121.6,110.2 65.8,133 201.9,98.3 90.7,138 122.2,121.3 116.1,121.1 197.2,105.2 275.1,81.8 151.6,141.2 137.7,97.4 103.6,131.3 114.6,123.9 194.4,113.4 103.3,136.2 166.6,96.3 274.8,95.5 85.4,144.5 215.8,101.1 140,123.4 230.2,80.2 113,130.6 223.4,78.3 114.9,124.3 68.2,162.3 122.8,106.7 212,88 189.9,118.5 130.2,133.7 93.9,159.2 80.6,124.9 206.9,130.1 195.4,108.7 96.8,122.7 106.3,129.5 78.4,135.3 106.2,143.5 117.5,134.5 175,123.6 102.8,120.9 199.1,52.1 169.2,97.2 108,141 113.6,118 67.1,154.1 148.6,113.2 143.2,122 185,99.7 209.7,95.2 184.8,107.6 133.6,106.7 150.9,99 90.6,125.5 109.5,108 316,83.6 190.2,102 109.9,137 147,109.9 139.6,110.6 131.2,134.3 248.8,84 186,124.4 132.4,136.1 172.7,106.1 194.7,81.4 89.4,145.2 187.2,95.5 83.8,148.3 130.7,127.6 113.9,124.6 141.5,120.3 124.6,142.8 77.6,142.7 177.1,107.3 98.3,120.6 93,148.2 112.5,133.5 129.8,141.2 204.1,126.7 128.9,94.3 167.5,106.6 68.5,120.5 135.7,125.5 82.1,143.1 171.7,116.7 131.5,133.5 138.6,107.5 117,123.1 112.8,121.3 142.9,110.1 92.2,135.1 93,137.4 201.8,119.1 106.5,121 146.5,101.4 175.5,117.3 71.7,151.6 205.6,103.9 107.3,108.6 137.4,129.4 140.6,118.9 137.1,113.9 68.4,153.5 258.1,84.5 102.9,137.1 68.1,148.9 142.6,135.5 203,106.7 172.3,107.9 108.6,147.7 152.3,120.7 130.9,122.6 88.2,123.3 128.4,128.1 108,133.4 132.1,114.9 86.7,137.3 86.5,131.7 117.3,146.9 157.9,126.5 126.6,116.4 125.4,139.8 207,94.3 98.7,133.5 132.2,111.1 114.4,138.4 81.8,142 260.8,69.4 185.7,105.4 96.1,128.5 265.8,82.7 79.5,164.2 144.5,111.5 69.2,155.6 218.4,102.6 90.8,125.1 183.9,110.3 76.6,138.2 150.3,133.4 118,145.6 146.2,111.5 79.5,115.4 149.4,123 101.6,151.2 121.6,130.3 127.8,111.4 189.7,117.2 195.5,81.7 101.8,120.7 71,137.2 114.5,128.4 69.6,135.5 217.6,81.8 139.8,110.2 76.3,156.9 180.6,112.2 163.1,103.7 74.2,141.8 154.8,102.2 139.4,124.7 115.9,123.7 111.2,136.3 267,100.3 125,117.3 123.2,146.7 199,90.1 69.4,142.1 212.6,99.9 143,103.9 108.3,146.1 149.4,122.8 109.4,130.1 147.3,96.1 124.6,141.4 206.9,146.9 122.7,153.5 158.9,151.3 88.2,151.5 88.8,131.2 171.5,129.7 178.6,81.2 133.5,108.4 135.1,116.2 121.1,133 140.9,131 123.7,125.1 160.2,131.9 83,142.8 136.5,122.4 140.3,144.2 150,132.4 130.7,134.1 131.4,132.4 114.3,141.1 126.5,118.9 82.9,166.8 126.4,117.3 153.7,101.3 202.4,106.9 236.5,81 119.7,127.2 149.3,114 125.3,121.9 152.1,108.8 220.7,76.5 129.5,132.7 70.4,140.4 171.7,106.5 221.5,85.6 133.7,112.6 224.4,110.3 109,144.2 171.1,93.6 128.3,119.8 113.1,84.5 88.3,135.3 76.7,141.7 66.7,161.4 332.6,73.3 224.9,106.3 109.7,138 128.8,121.5 113.4,116.1 154.6,86.2 125.9,113.6 186.9,96.9 259.3,82 118.1,129.8 139,96.4 157.6,132.1 66.7,164.5 87.9,117.4 139.8,138.1 152,106.9 101.3,128 134.8,135.4 122.4,142.7 437.9,65.2 153.3,120.8 73.2,136.7 110.3,150.4 127.3,123.1 155.8,111.9 277.7,52.3 142.2,125.4 75.7,153.4 157,116.3 196.6,103.6 231.4,101.7 106.3,154.5 215,77.3 99.8,110.6 84.4,131 170.2,119.4 104,141 106.5,132.5 137.8,118.2 134.2,116.3 148,105.7 184,96.6 75.1,136.7 136.4,123.5 137,125.5 120.2,109.1 146,107 162.4,90.5 66.6,168.9 89.1,121.4 139.2,116.1 152.5,95.5 87.3,138.7 108.8,133.8 78.2,139.6 122.9,100.7 65.7,150.4 70.5,142.6 70.6,169.7 126,117 116.5,116 123.2,127.5 108.8,133 352.6,68.7 140.4,144 93.7,141.6 206.5,113.9 136.7,137.2 132.1,138.6 126.7,105.9 123.2,112.3 72.3,148.5 85.9,150.9 221.3,93.2 71.3,154.1 131.3,127.3 123.5,116 149.1,112.4 116.1,152.5 187.1,104.8 196.6,118.4 95.8,121.3 79.8,153.3 96.4,145.5 214,94.5 113.7,125.1 137.7,115.7 170.7,93 76.4,139.1 141.9,113.1 78.8,139.1 148.8,104.7 125.7,120.8 122.2,136 86.8,145.3 255.3,103.7 123.4,114.3 243.8,97 133.6,104.6 104,141.2 98.3,169.5 163,124.6 114.2,140.9 128.1,153.9 152.2,107.9 121,123.6 94.7,139.5 147.6,95.5 241.1,120.2 119.5,115.3 81,126.2 112.1,125.7 161.8,132.9 66.3,130.4 82.4,131.5 138.9,113.3 91.9,142.9 73.2,138.8 128.4,125.5 128.7,117.9 230.7,57.6 346.7,101 73.2,161.9 105.5,136 115,131.9 179.7,126 66.6,154.1 78.8,140 104,147.7 210.5,109.9 78,146.9 112.7,120 89.7,134.3 155.9,122.9 152.2,127.1 201.9,94.8 221.6,93.9 247.1,86.5 127.9,113.3 136.5,124.6 73.4,131.6 73.6,110.5 208.4,113 169.2,113.1 153.1,123.6 154.5,119.4 146.3,89.4 172.6,105.6 91,125.9 81.6,132.9 201.8,95.8 164.1,105.3 185.3,102.8 178.4,134.3 87.9,155.4 229.9,101 111.1,137.2 107.2,115.2 207.8,119.5 115.7,122.7 107.6,128.1 107,128.5 109.8,128.6 76.7,140.6 143,114.9 125.4,130.4 78.4,136.1 155.9,131.3 91,134.6 99.4,117.6 152.8,104.2 139.1,129.8 100.1,119.4 209.9,98.4 176.9,97.3 78,155.6 135.6,127.8 102.5,121 286.7,101.9 76.2,145.2 93.9,148.4 137.8,130.2 104.8,116.4 82.1,154.5 202,92.1 119.4,149.2 96.9,155.1 207.5,112.8 91.9,128.1 199,90.5 131.8,110.5 136.9,118.3 114.5,110.9 75.6,149.4 91.4,134.6 208.6,110.6 203.8,102.4 101,143.1 68,155.3 87.5,120 104.9,128.3 152.4,126.1 73.5,140.5 164,100.7 73.3,152.5 200.2,104.1 206.6,111 97.5,161.1 226.6,103.4 132.4,101.5 86.7,132.1 154.1,121.5 338.2,80.3 137.1,107 110.2,155.8 126.4,125.6 120.8,122.6 123.9,129.4 196.8,115.1 113.5,149.6 86.4,125.3 206,84.7 129.1,140 165.1,91 145.2,122 102,124.9 261.9,78.6 80.2,155.9 114.7,141 162.1,107.7 151.5,115.4 112.8,125.8 79.4,167.7 142.5,109.5 69.6,143.9 143.5,109 119.9,103.7 225.6,112.1 128,131.7 131.9,92.7 68.9,139.8 72.7,127.9 235.9,86.3 147.3,109.8 151.5,129.8 151.1,117.4 76.3,130.6 199,112.3 158.2,125.7 203.9,109.9 97.6,133.8 106.6,134.5 153.3,142.1 86.9,125.5 118.6,140.6 143.9,125.6 78.6,140 78,136.4 122.7,104.3 116.1,132.6 141.6,103.4 89,146.4 121.8,133.4 169.5,95.6 94.7,137.8 124.5,138.1 131.6,124.8 106.7,141.6 173.1,100.6 139,118.6 85.9,149 89.6,154.7 164,104.3 172.3,108.9 116.6,140.8 180,94.9 155.2,123.9 174.2,116.2 94.9,120.6 148.5,110.1 84.9,126.9 84.7,157.8 132.9,116.9 137,125.9 66.8,135.2 159.3,122.3 102.8,104.8 135.7,119.6 155.5,117.7 100.8,127.6 138.9,120.5 165.4,105.6 172.8,94.6 121.5,117.9 76.3,138.5 156.6,120.1 231.8,97.2 210.3,87.2 164.4,81.2 183,137.2 170.7,111.9 245.7,80.8 117,149 220.6,101.1 186,123.1 131.3,153.7 210.8,87.5 108.2,119 108.6,143.8 98.1,131.7 125.2,142.9 178.3,98.4 101.9,122.5 140.2,107.2 185.1,95.4 185,116.6 129.9,119.4 123,126 132.5,142.9 186.3,110.3 188.8,106 112.5,109.8 103.6,135.4 108.2,119 96.5,137.2 178.6,108.7 116.2,134.4 111.4,127.1 154.5,128.2 225.5,94.8 258.2,99.4 99.6,169.3 103.5,152.7 150.7,110.6 120.4,142 215.9,65.6 65.4,152.3 148.2,120.8 122.4,112.1 149.9,109.2 75.6,160.2 158.4,137.7 158.5,118.7 197.7,98.3 78.8,156.8 136.8,138.6 180.8,106.6 133.5,118.5 72.8,167.1 97.7,122.4 70,150.7 117.1,165 117.3,137.4 249.3,87.6 79.1,140.7 185.3,94.4 105.7,134.8 87.7,131.3 127.8,138.1 207.3,121.3 261.3,89.4 112.9,142.7 199.3,113.7 92,131.2 196.4,117.3 148,135.7 197.9,106.9 110.6,136.8 122.8,122.5 148.4,122.4 121.8,140.5 129.9,109.6 164.3,122.1 199.3,103.5 96.6,145.2 99.5,132.5 231.5,112.5 335.2,90.6 164,122 157.5,92.3 96.5,141.9 96.3,139.2 153,123.8 158.7,129.4 151.2,118 161.3,122.3 216.4,92 218.1,115.1 185.5,105.8 171,127.1 73.1,136.6 99,134.5 70.6,133.5 158.7,127.3 127.9,133 97.4,123.2 224.6,86.6 138.3,126.7 97.4,120 250.9,89.4 69.3,155.5 146.9,128.3 93.1,129.1 82,133.6 94.3,143.9 262.2,92.7 215.8,107.2 130.5,120.3 118.1,136.3 109.4,133.1 192,83.3 125.1,141.3 257.2,99.4 152.6,128.6 120.4,109.1 132.1,134.7 144.5,125 147.8,116 89,135.7 128.6,106.5 121.8,133.8 95.7,146 190.4,119.3 88.5,115.8 158.4,107.8 108.7,109.7 89.1,140.5 63.4,160.4 122.5,137.9 176.1,91.4 118.5,139.4 161.5,126.6 128.6,125.3 117.7,139.8 149.5,97.8 162,115.9 68.2,156.4 183.2,103.4 69,151.3 186.8,107.8 101.8,144.8 95.1,133.5 187.3,104.9 96.6,134.8 69.8,140.7 195.2,130.4 97.2,133.5 122.7,156.9 180.7,111.5 158.4,116.4 208.9,128.6 75.8,123.1 107.8,153 156.9,96.2 132.7,106.8 222.4,100.4 123.5,126.5 91.2,126.6 174.7,124.6 120.8,119.2 165.5,118.2 106.6,120.9 172.3,108.2 181.9,114.3 126.7,106.1 174.5,119.1 296.6,83.3 138.1,123.1 127.7,120.9 97.8,126.3 104.8,118.4 119.2,123 66.5,145 138.9,143.5 92.9,127.4 89.6,121.9 151.5,118.5 154.8,108.3 88.9,125.5 300.5,118 148.5,103 76.5,140.2 140.8,117.6 204.4,95.6 92.5,139.1 202.5,89.6 79.1,147.8 127.9,107.1 148.3,99 109.1,122.4 121.4,122.8 145,101.7 117,147.6 154.8,122.5 80.4,148.1 224.6,86.4 116.6,121.4 74.9,151.4 131.6,106.9 133.7,136.8 117.5,131.2 174.5,137.7 161.6,104.3 98.5,131.6 84.2,149.2 106.3,145.9 68.4,148.8 170.5,119.2 183.7,106.5 206.5,103.6 78.5,147.5 246.3,108.2 166.1,94.9 153.1,117.2 100.7,117.9 126.7,127.2 72.7,156.6 121.9,132.9 89.9,139 129.9,107.3 234,75.5 157.2,107 109.5,126.4 137.2,118 100.5,143.1 124,125.6 249.4,111.8 186.7,104.7 193.1,105.2 203,87.2 115.9,131.2 132.8,130.8 131.4,119.7 91.2,143.7 170.2,81.1 110.8,109.4 99.4,130.1 142.1,129.8 121.7,125.3 124,116.7 153.6,118.8 205,126.9 169.8,104.2 192.2,103.5 140.6,104.3 128.7,109.5 93.1,128.8 155.5,113.6 208.7,107.9 103,134.8 263.2,76.4 144.3,120.6 127.9,119.7 221,91.7 122.8,128.6 147.4,119.3 77.2,167.2 254,120.2 117.9,138.9 124.6,105.9 213.7,76.1 198.6,103.8 113.1,129.6 318.3,48.7 121,134.6 77.4,183 116,130.1 117,141.4 244.1,95.2 76.9,154 109.3,118 258,84.7 112,129.6 84.9,140.5 104.6,133.1 105.2,134.9 100,133 157.6,133.8 210.8,123.8 158,120 73,129.9 199.6,90.1 180,123.1 89.7,132.6 75.6,151.4 86.2,146.2 156.5,120.7 186.4,89.4 137.8,131.4 190.3,123.9 87.8,149.2 127.2,130.8 238,92.5 104.4,133.7 77.9,153 101.1,129.8 132.5,104.5 223.3,71.7 218.2,118.7 111,144.6 209.9,115.9 99.3,132.9 104.7,128.4 102.1,168.7 151.7,112 101.7,122.1 125.1,111.5 109.4,144.7 81.7,136.5 108.6,125.2 175.7,90.9 115.4,106.4 232.8,75 244.2,95.6 126.8,118 123.1,125.2 74.2,120.9 201.6,90.4 112.9,150.6 185,108.7 119.7,131.3 96.9,138.1 163.1,102.4 165.7,126.7 71.5,148.8 220.9,89 188.5,110 96.8,100.8 145,106.3 110.5,125.3 73.5,141 82,145.6 69.9,135.3 113.5,147.1 92.6,150.1 114.2,152.9 159.1,122.6 117.6,123.5 154.7,111.9 203.2,76.9 163.4,88.8 133.5,104.2 171.1,117.6 99.7,157.1 139.1,112.9 183.8,106.1 183.1,81.6 143,106.5 165.3,111.9 102.8,147.1 123.5,129 94.8,137.3 163,129.6 124.9,127.6 70.6,149.5 150.7,117.8 114.2,116.8 200.3,92.7 143,93.2 117.5,145.3 73.7,136.4 77.9,153.4 177.7,123.5 210.6,105 114,130.4 73.6,165.8 205.9,101.6 182.5,102.3 131.6,106.5 156.4,109.1 194.1,92.9 144.5,111 142.5,113.1 143.4,99.5 176.8,127.4 120.1,136.5 200.4,92.5 227,87.5 179,100.1 95.6,141.2 155.2,136.5 75.8,157.2 118.9,109 124.7,127 103,131.7 172.7,130.3 91.7,161.7 174.1,152.1 165.4,103.9 140.2,130.4 180.9,97.7 359.3,109.6 128.7,118.1 164.2,128.4 77.9,136 79.6,148.1 115.1,125.9 110.9,147.6 112.4,136.7 163.6,100.1 168.9,125.9 238.5,86.6 124.1,113.1 83.4,130.5 88.2,177.5 196.7,126.6 66.8,142.5 144.2,122.4 96.1,120.6 120.3,143.6 144.8,100.8 113.4,118.5 143.2,123 140.3,111.8 135.9,123.7 209.2,100.4 111.6,119.6 170.4,107.5 74.4,129.2 96.2,146 113.9,134.6 106,121.3 106.3,113.5 126.2,104 99.7,175.1 122.6,120.1 63.4,158.4 122.2,139.8 92.1,115.6 180.5,93.9 99.9,130.7 112.8,101.1 152.8,122.4 132.3,130.9 113.4,136.2 131.2,111.2 175,137.4 240.7,75.5 104.1,141.3 169.1,92.1 126,126.2 162.4,117.4 63.8,157.6 126.5,106.8 123.2,93.7 135.1,112.9 89,137.2 155.7,133.7 82.8,142.2 136.5,136.1 192,130.6 125.6,126.3 125.5,132.6 189.3,75.2 106.6,144.2 132,143.9 187.4,103.6 87.3,122.6 123.7,118 133.8,140.7 131.7,106.3 212,94.9 142.7,127 133.6,123.7 145,148 147.2,102.8 105.9,134 136.4,110.8 90.7,139.2 124,142.7 95.9,122 115.2,120.6 71,140.3 104.6,140.7 104.7,133.2 67.7,145.7 92.3,128 179.1,109.8 122.5,125.1 130.2,110.1 198.8,114 112.5,157.8 179.1,109.9 128.3,131.4 88,134 192.9,111.9 137.8,112 80,153.4 109,119 108.9,136.9 75.1,126.3 266.7,66.1 200.9,90.7 105.6,114.3 179.8,107.4 163.6,116.5 130.4,122.4 264.1,80.1 71.8,163.2 126.9,103.8 342.3,88.7 119.4,102.6 114.8,159.9 76.1,143 133.5,146.9 156.2,101.5 72.1,157.3 71,161.7 79,152 194.9,114 145.2,99.5 121.4,131 124.8,134.7 179.5,111.6 129.4,119.8 141.6,110 212.2,105.2 76.9,131.9 123,109.7 84.9,161.7 167.1,116 122.7,132.2 106.6,132.1 149.4,116.9 230.4,102.2 183.2,127.5 186.7,108.7 234.2,87.9 213.4,80.3 103.4,140.1 156.9,91.2 180.2,114.6 132,133.1 156.3,124.5 75.6,116.3 178,105.7 161.8,133.7 82.8,129.1 96.2,124 133,125.2 220.8,105.3 266.9,82.7 145.1,83.7 239.7,90.6 76.8,156.9 84.5,132.2 109,145.4 291.5,97.4 79,141.9 181.7,92.4 168.8,123 184.5,96.5 147.3,154.6 72.7,150.5 154.2,141.8 166.3,94.6 66.6,149.3 135,114.8 89.5,146.7 84.5,148.5 321.6,63.8 73.2,148.3 77.8,155.2 130,125.6 151.8,101.3 99.2,136.3 128,139.2 100.4,118.5 116.8,121.5 93.2,128.5 102.6,141 112.8,133.1 144,111 170.5,105 153.3,113.5 95.1,145.4 123.8,116.4 164.9,127.1 186.3,121.1 309.8,79.6 117.9,113.6 117.7,132.3 158.7,129.6 107.8,135.4 99,114.6 124,115.2 64.3,161 154.1,94.2 183.8,125 166.9,116.1 135.4,108.2 114.4,111.4 165.3,98.5 156.5,112.8 126.6,116.9 131.9,118.9 236.2,74.2 205.5,120.5 123.7,117.4 180.8,78.8 70.4,168.6 77.4,133.2 152.6,131.2 82.8,137.1 108.1,142.2 81.2,160.2 146.6,128.1 165.4,104.1 139.7,116.7 143.2,113.3 102.5,136.6 167.4,112.4 206.4,76.3 66.5,161.7 150.7,128.7 140.1,125 78.4,166.1 134.3,132 94.6,140.9 127.7,116.5 65.3,138.9 172.8,124.7 162.7,138.6 136.1,126.1 108.6,115.1 107,127.6 78,148 179.3,129.7 124.3,126 72.3,133.7 331,76.8 79,156.7 249.3,73.5 140.9,112 121.8,124.7 90.2,151.2 76.5,149.5 147,119.1 151.9,122.4 138.6,122 144.2,104.7 80.2,139.6 82,164.7 149.6,103.3 77.7,136.1 147.6,115.7 174.6,96.4 172.1,100.5 202.2,109.8 92.3,148.2 135.6,114.6 186.6,103.1 173.9,131 68.5,168.8 119.8,125.7 200.3,116.2 146.7,127.8 111.9,123.3 114.3,129.2 116.7,123.4 139.6,158.4 261.7,109.4 193.4,124.8 77.2,144.8 84.6,147.4 210.5,94.1 79.4,160.5 220.6,99.6 63.4,150.3 106.1,143.9 135.2,135.9 103,128.6 88.8,136.5 63.7,159.4 165.9,121.2 115.5,138.4 74.9,135 194.6,128.9 171.9,93.5 162.8,116.9 83.4,152.8 104.7,130.5 94.6,136.4 121.1,137.3 169.8,117.5 171.5,132 194.4,133.6 109.7,152.4 112.2,121.6 127.6,129.3 248.9,101.4 126.2,135.9 87.8,138.1 64.7,169.9 253.3,92.6 122.8,144.4 101.2,137.1 200.8,103.3 93.2,106.8 80.2,171.6 106.5,142.8 198.4,97.2 89.7,128.5 103.8,120.4 176,82 122.5,133.1 92,148.8 150.9,106.5 161.6,106.8 142.2,126.2 134.2,118.4 100.5,147.4 206,106.2 86,145.9 69.1,124 93.2,132.3 130.1,107.9 78.5,161.5 127.4,137.4 161.9,92.6 85.1,134.6 150.3,137.4 122.2,132.7 197.2,108.7 256.6,99.1 78.7,147.3 116.6,153.2 117.5,110.6 108.2,121 145.6,135.5 205.5,65.1 83.5,132.6 94,136.1 67,149.7 107.4,115 125.4,122.5 136.6,129.6 140,112.8 189.6,82.8 194.2,104.5 158.8,107.7 133.7,136 81.9,149.4 199.6,92.9 132.6,130.6 249.3,54.8 75.4,145.6 117.9,147.7 149.2,127 102.8,131.5 113.6,115.7 162.8,114.5 105.6,138.8 128.1,95.8 149.3,128.5 83.4,149.7 181,115.2 89.9,136.8 122.7,127 128.5,118 84.9,155.6 132.9,130.8 137.5,100.5 129.9,123.8 228,99.2 156,133.5 108.4,120.9 160.8,128.4 126.8,124.4 176.4,116.4 121.6,117.1 70.1,111.9 94.6,116.5 146,113.4 170.2,125.5 109.5,126.3 109.5,125.5 118.3,117.7 154.7,146.2 119.2,117.3 85.9,131 66.2,135.1 254.4,105 165,93.7 97.9,134.3 64.5,144.7 92.3,128.7 157,137.9 87.2,134.9 115.4,143.4 98.3,147.8 127.4,153.5 290.9,86.3 304.9,93.1 82,133.9 140.5,114.5 181,129.5 89.1,119.8 73.9,135.3 199.8,104.7 111.4,129.7 91.7,133 139.9,129.8 104.2,151.6 179.3,110.1 96.8,125.9 98.9,129 165.1,112.3 199.7,94.7 124.9,98.4 271.5,88.9 117.1,130.8 85.3,141.7 208.9,119.7 64.7,148.2 108.6,135.9 63.4,155 113.5,142.2 180,102.9 181,101.3 88.5,145.5 80.2,129.8 178.6,120.4 78,122.6 71.6,150.1 210.6,103 138.6,99.7 134.8,127.8 139.4,116.2 85.7,151.3 72.3,163.1 68.6,153.6 116.3,115.4 153.1,117.6 149.4,113.8 132.4,85.6 119.7,133.5 127.1,140.7 84.2,155.5 181.7,88.8 64.3,136.1 83.9,148.5 164.9,148.9 152.4,118.1 83.4,139.3 110.9,118.9 129,123.3 113.9,138.4 66.9,141.5 69.2,152.5 143.3,149.1 68.9,162.5 200.6,124.9 97.5,133.9 94.5,164.9 151.4,142.4 214.5,122.5 83.2,140.8 109.3,115.5 154.5,114.4 298.4,89.1 118.9,130.6 114.9,125.1 117.8,116.6 237.4,86.9 167.2,105.3 82.7,163.9 154,113.9 85,137.2 89.1,132.8 212.2,133.1 167.6,119.8 130,132.4 67.1,148.3 152.9,114 119.3,130.3 112.9,123.6 170.2,110.7 113.2,111.8 101.1,150.3 78.8,156.7 79.2,137.7 183.5,82.8 69.9,144.1 85.4,144.5 107.1,130.5 184.7,101.1 86.8,160.1 153.2,114.9 111.2,118.1 126.1,149.2 173,136.1 138.9,130.2 229.5,93.4 90.2,147.7 184.2,103.2 132.9,137 74.8,142.3 135.6,147.4 133.2,112.9 108.6,127.4 98.7,137.1 102.3,112.2 123.5,143.6 141.1,109.1 126.7,129.9 65.9,145.5 98.2,123.4 257.3,79.6 179.6,115.8 105.8,119 85.6,135.2 123,127.2 72.9,141.3 112.5,118.5 106.4,128.6 88.8,142.9 75.9,131.4 169.1,124.2 78.1,133.8 91.6,137.5 78.1,132.5 101.2,155.9 98.8,141.5 101.4,135.9 274.9,78.8 119.1,133.5 142.4,113.3 188.4,120.4 116.7,109.5 136.5,121.2 189.9,123.1 123.2,129.9 109.1,117.7 114.3,111.6 150.9,137.7 186,115.2 96.7,154 150.7,103.3 138.4,125 176.8,114.2 94.1,152.5 106.6,132 238,93.9 114.8,126.4 133.1,113 166.9,112.3 63.4,148.7 76.2,137.3 163.8,119.7 126.9,122.2 152.2,107.6 90.9,147.9 113.4,111.2 106.1,110.8 67.9,139.5 117.4,121.1 101.9,124.5 94,144 73.9,160.6 116.8,132.3 156.1,115.5 141.3,135.8 115.5,138.3 153.8,106.4 91,140.6 172.1,83 109.5,128.3 80,136.3 112.6,155.4 113.5,127.1 107.4,140.7 214,94.2 136.2,113.9 168.5,106.7 197.9,93.9 143.2,121.4 116.8,110.9 101,142.1 157.3,142.2 91.6,131.5 97.8,147.5 126.9,133.4 122.5,124.6 124.3,113.6 152.8,137.7 129.2,123.4 92.2,154.5 89.9,131.2 80,154.6 121.7,119.6 78.5,140.3 186.8,102.4 109.5,124.2 118.5,123 100.3,139.4 129.5,124.4 118,125 119.1,137.9 143.9,139 88.1,132.2 83.4,158 95.8,142.8 147.9,130.7 99.2,136.1 132.4,128.3 257.5,67.1 113.7,130 161.8,128.5 223.5,113.1 227.6,104.7 64.2,147.9 204.5,108 76.1,151.7 137.5,122.4 127.5,126.2 109.9,136.2 76.8,164.5 103.2,143.7 111.3,129.1 172,133.9 74.7,130.4 158,122.7 98.1,121.6 193.8,109.9 102.5,125.9 81.7,156.6 141.4,131.9 135.8,99.7 96.1,139.7 122.9,96 227.9,101 103.9,117.4 66.9,137.6 149.2,118.4 84.2,140.4 116.2,111.4 99.9,138.2 211.7,113 147.2,114.3 181.1,97 171.4,106.2 133.8,123.9 209,95.3 156.5,115.8 77.3,145.7 86.4,154.1 80.9,141.1 171,116.5 153.8,130.1 165.9,105.5 85.6,161.6 179,84.8 91.6,137.6 166.1,120.2 76,167.2 106.9,143.8 106.3,118.1 321.3,85.3 197.6,107.9 99.8,128.3 89.7,145.9 82.3,132.7 95.9,140.8 149.3,128.8 85.7,132.8 147.8,114.2 322.4,84 69.8,145.5 128.7,104.5 69.3,133.4 144.9,115.3 137.3,116 150.9,103 93.7,121.5 191.5,119.4 168,130.2 104.7,139.2 123.2,141.7 134,144.6 161,110.8 161.4,119.4 115.8,125.3 107.3,117.2 108.2,122 103.9,136.1 163.1,109.8 73.7,151.4 191.1,113.7 68.5,159.9 66.5,161.1 74.1,140.2 137.8,105.5 90.9,137.8 113.5,139.7 117.9,123.2 146.1,106.1 113.9,156.2 133.2,109.8 108.9,150 84,150.4 103.2,149.5 138.9,108.3 197.9,112.6 114.6,124.8 77.6,138.6 145.3,113.4 139.5,126.6 149.5,109.3 143.2,104 67.1,151.4 148,107.5 134.6,133.9 112.6,137.3 63.7,151.5 151.6,94.7 115.7,124.3 122.2,127.6 127.9,117.6 104.1,145 90.5,143.8 124.4,132.7 332.9,78.7 98.1,140.6 110,144.4 105,148.2 69.5,155.5 65.6,153.6 78.3,142.2 67.1,142.9 176.7,103.1 112.6,94.9 163.5,92.7 169,106.8 212,112.6 174.1,129 142.4,132.4 77.2,148.1 137.1,104.1 124.7,158.5 183,94.1 78.3,137.7 138.4,112.6 196.3,125.9 374.6,69.4 64.1,144 109.3,149 146.5,140.1 103,114.9 200.7,92 117.6,122.3 122.6,138.2 114.7,134.2 140.9,119.6 74.3,149.3 133.2,142.6 109.8,150.8 127,120.5 97.7,138.8 206.4,111.5 102.7,119.9 157.8,108.5 167.9,102 185.9,116 74,157.1 147.9,131 165.6,124 190.2,110.1 127.8,132.5 81.7,131.4 142.9,142.7 115.9,126.8 123.6,128.6 143.2,113.9 152.4,134.9 127.9,126.3 125,140.3 83.2,130.3 104,121.2 109.2,139.2 114.1,110.1 76.8,129.6 71.4,137.9 87.8,134.3 152.6,107.6 98,153 153.5,113.1 113.9,129.2 231.8,98.2 109.1,144.5 177.7,112.8 132.4,120.2 238.3,88.2 168.2,108.2 110.7,119.5 195.6,99.4 95.5,123.3 263.3,69.5 99.5,134 77.5,146.7 114.2,112.5 116.9,139.8 158,127.4 140,112.5 132.5,113.6 173.9,109.9 107.5,131.2 158.5,91.7 223,58.5 183.6,131.8 205.8,83.2 230.4,92.1 93.3,135.2 187.7,114.4 94.8,147.3 113.9,135.6 220.4,82.6 193.2,109.2 116.7,150.3 88.8,147.2 64.5,150.2 81.3,139.4 130.6,127.7 167.7,102 118.9,121 177.6,96.4 63.4,140.3 95,130.4 144,95.7 104.7,122.5 106.7,151.7 149.4,114.8 111.7,160.7 68.4,175.9 187.4,119 96.9,138.4 104.7,125 248.3,110.6 127,116.8 111.1,139.1 121.8,126.5 87.2,131.1 106.7,138.5 113.1,129.2 168,84.9 129.6,148.3 132.7,146.8 99.3,135.7 91.5,130 113.8,140.3 135,119.2 97.9,150.1 87.9,132 266.4,95.8 100.9,115.6 148.6,117.9 75.2,139.5 77.7,161.4 115.7,125.1 126.7,108.2 130.8,114.7 103,125.5 143.9,102.5 118.4,131.3 87.9,156.1 155.7,115.1 78.4,131.7 296,81.3 162.3,111.7 219.7,109.9 76.6,136.9 171.4,118.4 86.3,120.3 80.5,141 139.9,127.1 77.7,140.1 197.4,110.4 127.7,129.9 99,129.5 157.3,138.4 125.4,106.9 152.4,101.6 152.5,111.9 95.5,137.8 138.4,119 139.1,121.8 148.9,102.9 147.6,120.7 74.7,152.4 156.5,118.1 200.2,116.4 122,130.8 162.3,121.3 98.9,145.2 87.4,145.6 276,108.8 128,121.9 178.4,114.2 230.3,91.4 207.4,110.2 96.2,132.1 148.5,109.7 64.9,167.9 102.5,113.1 148.1,125.8 124.3,130.9 110.5,154.2 76.8,136.2 167.8,129.2 138.5,125 141.6,124.6 145.3,77.5 188.2,111.1 66.6,140.3 139.4,112.1 134.5,108.3 129.4,117.5 208.7,117.7 102.8,119.9 71,159.4 111.3,144 78.6,154.3 127.7,126.1 150.9,104 83.3,144.4 344.4,112 250.3,86.3 72.7,149.9 159.2,106.6 92.1,127.4 251.8,96.6 98,123.8 250.7,112.1 121.3,119.8 185.6,118.2 85.4,141.8 125.2,123.7 137.2,106.6 105.2,121.3 135.5,94.9 115.8,115.8 78.1,142 84.2,169.1 129.9,114.9 186.4,94.6 101.9,145.2 179.4,111.7 132.4,119.3 89.8,146.6 162.5,132.5 146.7,121 271,84.4 101.6,120.8 91.9,128.7 98.7,121.5 78,169.5 202.3,105.3 127.1,105.8 187,101.7 172.2,112.3 177.1,129.1 174.8,81.5 180.7,116.8 107.5,126.1 122.1,128.2 169.2,112.7 122.8,125.2 136.4,86.9 97.1,140.7 85,106.5 125,136 100.3,138.5 119,129 132.9,121.8 68.6,151.6 139.5,133.6 135.6,134.8 177.7,112.2 163.7,109.5 127,115.9 156,96.9 112.8,131.2 114.7,139.8 101.9,162.3 178.4,105.2 394.6,75.9 127.7,135.8 152.8,96.1 204.2,101.5 144.9,105.9 63.4,149.4 121.8,122.5 77.5,136 123.4,134.1 140.6,126.3 136.1,123.2 89.2,121.9 203.4,84.5 137.3,116.6 167.2,115.8 208.7,107.8 178.5,123.1 107.4,134.8 91.9,138 133.8,133.3 196.6,86.5 67.2,131.8 78.4,139 80.8,145.6 65.9,143.4 195.2,93.8 117.6,124.8 149.2,118.3 118.6,124.7 131.3,103 94.2,126.6 113.7,135.6 235.3,108 167.5,132.3 63.4,154.4 142.6,131.5 93.2,125.3 107.4,141.1 180.3,112.6 117.8,132.9 125.1,123.7 124,131.4 140,109 79.6,141.8 70.4,137.4 159.3,122.3 116.6,113 166,107.5 197.5,84.3 75.8,116.4 119.5,117.3 150.5,102.7 80,134.2 144.5,121.7 100.2,131.1 90.9,148.6 107.6,157.2 154.1,120.6 63.4,167.7 139.3,136 205.3,81.3 103.1,143.1 192.4,65.8 133.1,129.7 134.7,131.8 279,101.2 107.6,113.8 66.1,142.8 106.2,138.9 167.4,108.1 106.8,133.9 148.6,86.4 123.8,126.4 207.5,105 171.6,120.5 144.5,111 84.2,149.5 160.5,122.1 170.5,103.7 131.6,147 120.9,102.4 100.3,127.3 130.3,125.9 229.6,78.7 206.2,130.1 98.5,131.9 140,130.1 119.8,114.5 233.2,104.2 141.8,116 153.9,121.2 110.6,122.8 63.4,149.1 179.4,111.6 101.3,118.4 156.5,133.1 123,140.6 78,148.1 202.9,113 421.8,84.7 164.5,120.4 141.5,129.8 172.7,118.6 136.2,104.2 108.7,131 173.9,114.1 98.9,136 117.1,134.4 125.1,128.1 116.5,112.1 85.3,132 170,118.8 170.9,94.3 83,140.8 165.8,95.2 134.4,122.8 144.6,117.5 130,130.8 100,137 63.4,150.1 159.1,115.1 98,129.5 286.1,100.2 100.4,139.5 102,114.5 105.7,132.2 71.7,154.7 193.6,106.7 213.8,98.1 99.9,117.7 166.6,100.8 152.4,114.5 97.4,145.5 109.2,119.6 71.4,150.9 152.5,118.1 162.3,115.7 114.6,123.2 173.2,107.7 119.3,122.5 110.2,137.7 100,126.8 179.3,120.4 156.2,97.5 92.8,148 75.4,150.9 117.7,128.9 262.8,79.3 79.4,132.3 178.3,100.6 87,147 209.3,94.9 172.4,106.6 91.2,133.9 296.9,48.6 98.4,118.9 131.7,139.2 86.9,136.9 185.5,91 164.8,122.3 151.8,122.9 124.2,124.5 97.6,144.4 139.7,134.7 133.1,125.9 128.6,127.7 165.5,118.7 116.5,126.7 105.5,142.4 203.9,104.8 175.1,90.5 100.1,140 112.7,141.3 121.5,131.2 112.9,148.8 105.7,111.4 137.3,113 98.1,136.3 87.7,171.4 115,142.5 112.8,134.5 105.6,120.6 252.5,100 259.6,104.2 108.8,131.3 122.4,138.9 82.4,159.1 215,72.8 118.7,129.2 98,132.4 166.3,99.7 147.6,147.8 135.1,148.5 172.3,98.7 83.4,141.4 128.5,123.2 237.3,114 158.5,116.6 107.9,125.3 111.1,131.9 129.8,121.1 145.2,132.6 195.2,119.9 139.7,130.8 115.3,142 149.8,114 154,106.6 149.4,123.4 94,127.4 91.9,110.7 275,84 101.5,128.6 155.3,124.2 127.7,119.6 85.5,146.7 118,135.4 88.3,124.4 115.9,126.6 99.2,148.2 140.8,141.4 82.7,145.7 167,114.9 107.3,116.5 105.3,139.7 181.3,97.3 65.6,155.6 168,117.8 71.5,139.5 93.3,132.2 97.6,135.5 102.6,126.3 168.7,117.4 157.9,127 269.3,71.6 84.1,152.1 174.8,107.5 137.8,118.9 124.5,118.7 143.7,119 88.8,131.3 100.5,133.1 168.5,131.5 157.5,113.3 140.2,100.3 201.3,79 101.3,133.9 93.8,121.5 115.5,117.4 70.5,146.9 89.6,128.2 118.7,103.8 69.1,152.1 320.6,75 205.6,84.4 98.5,144.8 176.8,107.7 124.5,130.8 196,118.5 97.3,147.5 110.5,131.3 87.1,146.9 116.2,135.3 106,115.8 105.2,122.2 159,116.6 77,139.4 106,138.5 136.6,111 103.6,127.5 217.3,117 195.1,92.3 119.9,111.7 198.9,115.3 124.5,127.5 159.1,109.1 96.4,132.6 74,127.3 76.1,145.3 190,132.7 270.1,84.1 92.1,150.5 146.2,134.1 105.8,130.5 108.7,131.6 196.6,112.7 98.9,148.5 149.7,142.2 143.9,113.7 110.2,142.6 230.6,87.4 92.4,145.4 248.5,100.8 96.1,126.7 100.3,152.5 112.7,106.8 160.1,96.6 190,101.6 100.3,120.8 222.8,112.4 190.2,102.9 171.3,130.4 88.9,158.7 76.2,139.6 75.6,125.5 95.7,124.8 131.5,127.3 98.5,138.7 126.3,132.3 108.2,144.5 73.4,144.2 170.2,86.4 175.6,87.4 91.4,134.3 153.2,126.2 147.7,116.2 69.8,137.4 133.3,110.5 119.6,125.3 230.4,63.4 113.9,151.1 132.2,125.1 72,152.9 179.6,130.2 69.7,149 145.1,119 200.6,93.6 169.6,121.4 123.6,141.6 257,95 162.1,128.3 144.9,122.5 165.6,129.4 113.4,120.6 92.9,117.8 208.5,100.7 120.9,154.9 224.6,111.8 115.9,114.8 193.7,109.9 96.9,145.1 217.6,105.9 78.1,123.2 154.8,132 112.2,141.6 138.2,129.1 123.5,145.4 184.6,110.8 102.7,157.4 98.1,121.5 104.4,132.2 122.3,133.9 242.3,69.6 116.7,118.8 78.3,153 95.6,147 119.8,141 77.6,147.8 101.6,131.1 183.1,87.4 125.1,127.8 154.3,130 175.8,109.6 146.5,143.4 102.2,130.8 78.5,141.4 152.8,134.1 112.5,131.8 188.9,107.9 72,147.1 194.5,91.8 103.8,120.9 73.7,145.9 153,112.9 92,120.6 185,104.9 73.8,125.9 151.8,113.7 172.4,119 67.9,135.8 77,135.4 71.5,147.1 96.4,139.6 111.2,138.1 183.1,108 138.6,114.2 111.5,115.2 120.3,119.8 173.9,96 70.4,157.2 177.7,126.9 125.6,134.5 220.8,56.3 197.6,119.1 169.5,109.4 152.8,114.5 140.7,123.5 372,78.6 83.7,140.1 118.7,143.7 131.9,125.8 107.4,130.1 436.4,102.7 91.5,138.4 150.7,116.8 137.8,121.9 110.6,121.4 70.6,123.3 93.3,156.3 114.1,148.3 122.1,132.8 117.4,130.3 138.5,113.9 127.7,138.7 149.6,139.4 78.2,141.3 139.7,110.6 189,123.2 70.8,154 129.9,107.8 195.7,129.2 205.3,102.4 155.2,111.2 154.3,106.3 102.7,143.2 128.5,105 174.9,114.2 126.8,112.9 119.4,127.8 67.8,143.1 134.7,143.3 122.1,114.4 122.8,127.2 166.4,118.5 156.5,110.4 131.8,125.9 131.4,134.6 176.1,95.7 148.9,136.3 65.5,147.7 90.7,134.5 115.9,123.5 230.4,70.9 229.1,92.5 166.6,110.8 107.1,138.1 139.5,97.6 111.2,122.2 84.8,136.4 187.2,97.6 201,88.7 146.1,128.8 188.5,139.6 75.2,141.3 173.2,126.9 180.5,125.6 110.5,126.4 130.2,135.8 244.9,101 63.4,140.1 120.8,120.9 104.8,127.2 99.8,130.2 323.6,56.6 135,95.5 87,126.9 154.6,124.1 107.1,127.8 79.7,137.6 156.9,107.1 113.2,118.8 96.8,144.9 121.3,125.1 193.5,106.3 127.3,120.8 216.8,92.2 124.7,153.6 120.8,131.2 133.8,117.3 128,146.6 132.9,110.5 87.2,123.9 198.8,99.1 134.7,145.1 257.7,60.8 136.6,108.8 151.6,104.9 178.5,121.4 114.9,121.4 116.9,146.4 111.7,125.8 117.6,127.3 135.7,94.5 119.8,135 88.7,126.6 167.5,100.9 180.6,125.4 108.4,134.3 210.4,95.3 156.9,126 291.3,94.5 124.9,133.5 160.1,106.8 107.5,130.6 219.3,98 116,128.6 81.7,137.3 101.1,166.5 123.2,133.5 135.9,133.3 103.2,119.4 95.6,142.7 164.8,119.4 78.5,143 72.2,156.8 203.2,100.9 65.7,153.1 87.5,155.2 74.9,137.8 79.4,127.1 75.8,157.4 132.6,96.7 192.7,99.1 114.3,156.9 111.5,138.3 127.9,132.7 242.6,82.7 68.4,155.5 68.3,139.5 142.7,117.5 130.3,124.8 125.4,118.6 125.3,118.7 88.5,154.8 117,114.9 77.4,141.5 97.5,137.8 140.3,123.3 83.2,151.7 73.7,168.3 111.2,118.1 171.6,110.2 96.9,150.5 115.9,133.4 118.7,128.1 179.1,103.2 110.7,139.7 109.6,138.4 132.3,111.7 228.4,83.9 149.1,124.2 74,150.3 63.6,138.2 209.6,72.3 142.1,95.8 102.9,138.4 152.4,135.4 95.5,132.5 121,128.8 75.9,121.5 166.2,106.1 105.2,134 144.9,115.8 152.6,121.8 174.5,122.6 126.8,116.2 170,109.1 140.1,132.3 101,112.4 151.4,122.5 120.8,136.3 136.1,126.5 96.9,141.3 86.6,151.1 152.3,132.3 130.6,132.2 88.5,147.7 142.8,114.3 66.7,156.1 115.1,129.9 228.8,103 77.7,153.6 138.1,123.8 136.9,138.2 74,157.1 229,113.1 153.4,136.5 218.6,80.7 63.4,162.2 172.1,112.6 169.4,105.1 214.2,94.9 143.4,134.8 197.5,102.1 84,135.9 106.9,117 118.7,158.6 75.7,137.3 115.1,119.4 73.9,150.4 80.6,137 136.8,144.2 83.7,144.4 97.8,146.6 215.6,95.1 79,157.3 140.7,95.3 104.3,122.6 197.1,114.1 87.1,138.2 75.9,140.3 171,134.7 146,124.9 99.2,118.9 187.1,113 170.8,116.7 93.8,137.7 73.1,141.6 100.2,134.3 90.4,117.2 129.9,123.4 238,103.9 70,154.2 119.2,124.3 181.1,129.6 166.2,120.5 102.8,117.5 147.4,114.1 168.6,134.5 109.2,133.5 99.9,129.3 138.1,159 117,113.2 187.7,103.1 129.9,121 145,127.3 127.9,135.5 228.5,100.2 116.9,153.8 181,110.2 119.8,109.3 115.9,115.9 183.4,112.1 231.7,105.3 124.4,114.1 112,130.2 97.6,150 210.5,116.6 125.4,110.6 97.7,130.4 165.4,121.6 204,111.2 71.5,144 105.5,140 148.4,134.4 155.5,96.3 101,128.6 154.5,118.8 101.8,154.6 77.4,151.4 91.2,153.2 76.1,166.5 101.1,96.9 225.8,95.1 189.6,82.8 143.9,111.5 220.8,122.5 89.3,125.7 129,134.6 84.1,141.7 172.6,108.5 180.1,119.3 280.5,61.4 69.6,157.1 79.8,130.3 66.9,148.4 93.9,132.2 134.3,126.1 135.4,145.6 228.5,111.3 97.9,148.7 141.3,108.3 137.3,107.3 152.8,133.6 86.3,143.4 155,114.7 107,135.2 70.9,144.4 129.7,115.3 163.7,141.9 91.2,123.2 135.9,99.3 129.6,133.3 157.9,101.4 107.3,133.4 115,130.5 238.6,81.9 78.2,141.8 231.1,79.7 190.3,88.8 164.7,94.1 136.7,106.2 95.4,138.2 107.9,136 157.3,114.8 78.8,144.4 86.9,146.8 72.4,135 130.9,123 145.4,148.3 82.3,164.7 108.9,143.5 150.2,116.5 144.1,118.3 88.4,136.9 130.2,124.3 109.4,126.7 79.2,142.1 191.7,91.6 98.3,134.3 93.2,133.9 131.4,108.7 105,132.5 133.5,99.2 177.7,92.6 77.4,145.7 164.8,115.5 89.4,137.2 138.7,98.2 86.4,136.4 240.2,92 119,156.6 137.6,133.1 123.7,134.4 130.7,102.2 193.9,107.8 95.9,146.7 88,116.4 99,142.3 101.3,143 128.6,135.3 230.2,96.5 148.2,101.9 224.3,100.7 199.5,103.1 105.4,131.6 126.2,142.8 143.2,132.5 117.9,140.9 114.5,137.1 82.7,153.9 189,138.7 185.5,101.9 193.1,95.8 296,97.5 77.6,127.8 93.9,135.1 101.6,134 224.2,108.3 264.9,86.8 158.9,114 131.5,137.9 84.1,132.3 138,113.8 70.4,146 87.3,118.3 110.8,122.7 246.9,81.3 137.2,122.5 234,104.6 296.7,67.3 132.5,110.7 196,103.9 117.9,146.3 174.5,95.2 204.7,101.8 64.3,139.1 96.1,127.6 78.8,131.9 175.1,127.6 125.6,115.9 102.5,169.2 64.2,149.4 116.6,130.9 186,95.1 295.6,80.4 120.8,124.9 172.6,116 237.3,92.1 129.6,128.5 123.9,122 110.1,113.9 223.7,100.1 210.8,69.7 79.4,156.2 93.4,125.5 160.4,110.5 152.6,105.9 93.4,132.2 141.9,149.1 280.4,62.3 106.4,130.6 85.2,154.1 101.2,147.1 68.5,142.7 126.8,102.8 134.5,112.5 120.4,134 132.7,119.3 135.7,92 136.5,127.6 177.4,112.7 241.9,124.5 180.7,101.9 332,85.2 164.5,110 118.2,130.9 198.5,86.7 130.1,116.4 158.5,98 195.9,124 163.5,119.6 149.7,102.3 71.4,148.2 63.4,156.9 159.2,117.9 233.9,81.4 101.3,166.6 158.4,124.8 101.2,125.2 93.1,138.8 124.1,143.6 208.4,98.6 87.1,162.7 134,99.8 141.4,153.7 138.2,113.1 213.5,102.4 132.5,133 84.4,130.9 101.4,154.2 137.3,124.2 128.2,128.4 71,158.6 125.3,115.2 98.1,135.7 109,138.2 63.4,140.8 185,110.9 181.1,114.2 125.3,108.1 67.8,164.5 80.1,154.3 112.8,155.9 75.5,168 163,118.4 138.5,141.7 148.9,134.5 90.3,144.8 160.6,104.7 138.3,126.7 169.1,106.4 173.6,119.7 156.2,106.3 71.2,144.7 144.2,130.9 107.4,120.2 239.2,109.5 117.3,124.5 216.6,116.8 263.9,75.6 181.3,146.7 125.4,109.7 116.3,117.7 120,122.2 127,126.6 116.5,123 228.7,107.3 140.5,137.3 160.6,116.8 90.2,147.2 74.3,120.4 72.5,141.9 160.8,105 199.8,90.1 79.1,149.6 114.2,114.2 77.6,146.2 98.2,145.1 65.3,126 84,129.9 137.1,116.1 98.9,138.8 229.9,117.1 172.7,101.1 115.1,120 168,112.7 177.2,112.9 64.8,132.5 256.9,84.6 170.2,113.4 159.8,136.1 192.1,120.3 313.4,60.7 106.6,130.2 68.9,155 104.8,120.8 67.6,163.2 63.9,161.2 158.8,115.1 194.5,112.8 119.1,123.3 78.7,150.3 127.5,132.1 264.3,109.3 158.3,121.9 184.4,112.9 157.7,119.7 136.2,129 194.6,145.5 71.9,133.8 117.9,106.4 123.5,150.1 200.1,74.4 138.7,89.6 142.6,127.8 101.7,140.8 152.7,112.3 135.3,134.4 247.2,84.4 117.6,127.5 133.3,107.1 117.4,118.8 63.4,151.2 122.6,114.6 97.1,139.5 85,126.2 176.6,124.9 187.4,103.5 192.1,88.3 97.5,138.4 119,125 131.1,140.5 102.6,131.4 119.2,131.5 128.4,119.4 123.6,111.1 105.3,121.7 121,110.9 125.7,119.1 145,127.8 152.3,127.5 87.9,121 77.9,121.1 129.8,136.1 63.4,145.8 138.6,131.5 69.8,132.8 96.8,126.7 136.8,121.5 181,113.3 167.6,107.1 111.3,139.5 78.2,130.3 195.8,132.4 180.4,100.7 160,107.8 100,137.8 81.3,139.5 166.6,131.8 177.7,86.7 124.9,154.4 171.4,112.4 178.4,122.6 153.6,128.9 189.5,88.8 145,109.1 138,132.3 204.7,98.7 82,146.8 136.5,124.2 165,112.9 117.8,137.6 153.6,140.9 95.1,129 68.1,146.2 121,105.4 114.2,128 201.9,97.8 105.4,128.6 186.3,91.8 197.8,94.3 107.1,128.1 72.3,145.9 113.1,151.2 111.3,134.6 78.4,152.4 189.2,126.6 71.5,140.8 289.3,55.8 181.3,108.6 166,118.5 128,115.3 130.1,114.9 206.7,92.2 99.1,120.9 108.7,131.7 181.9,94.1 157.8,106.6 81.7,131.6 159.1,118.4 139.3,116.5 162,112.8 97.2,135.1 88.5,128.1 84.5,145 114.9,141.2 209.5,91.7 120.5,146.9 233.9,107.9 120.8,121.8 145.5,115.1 116.6,121.1 96.5,109.1 122.5,116 151.6,116.3 196.3,106 137.7,116 116.5,139.6 156.3,118.4 95,132.7 85.5,145.3 272.9,94 103.2,129.4 223.7,68.1 122.4,113.5 71.6,139.8 130.1,139 153.4,124.3 65.4,150.6 79.2,125.3 194.4,107 191.8,99 112.2,128.1 135.4,120.7 95.9,125.9 153.6,128.9 78.2,146 95.8,121.7 115.6,127.7 178.2,110.9 75.4,150.5 67.7,140.8 131.3,153.3 102.5,144.9 107.1,159.6 137.4,118.4 143.6,110.2 80.5,137.5 148.2,124.8 149.4,144.3 148.8,124.9 121.3,149.5 150.2,103.3 164.8,106.1 87.6,143.1 118.6,108 150.5,86 103.2,119.6 190.5,94.3 103.1,142.1 67.3,137 149.9,127.5 70.5,150.6 128.4,127.3 174.2,111.5 100.6,135.9 182.9,98.4 155.4,103.9 83.8,137.2 78.8,146 102.6,133.6 76.9,139.7 107.9,136.3 99.1,101.5 123,117 235.3,81.4 269.5,79.6 102.2,108.6 128.1,127.2 154.1,97.9 154,141.2 65.4,160.8 90.8,139.2 87.1,147.8 99.8,144 117.9,101.2 203.4,108.8 91,154.7 207.9,96.6 157.3,120.4 125.6,133.1 107.8,123.8 234.8,88.6 121.9,117.2 174.4,91.1 244,91.3 121.7,116.3 117,131.2 80.7,141.4 124.9,146.2 260.2,92.3 97.5,134.5 209.3,113.8 154,91.2 76.3,136.8 71.8,149.9 103.2,116.1 219.4,83.7 317.9,91.4 80.4,121 233.2,91.3 70.8,134.5 115.1,132.5 160.2,134.5 143.3,134.2 79.7,131 206.6,114.1 74.4,141.8 105.2,127.4 136.2,132 116.2,108.7 152.4,116.8 107.8,143.6 170.5,116.9 107.5,143 118.3,134.9 120,120.3 153.6,122.6 127.7,120.8 149,119.7 322.8,71.7 83.6,140.1 112,143.3 181.5,106.9 106.1,147.3 79.1,128.4 183.4,107.5 91.9,141.9 203.4,80.3 306,74.2 68.3,148.3 169.7,125.4 352,57.4 193.1,87.7 140.9,110.7 121.5,114.1 163.8,129.6 108.6,133.9 69.5,147.7 113.4,152 126.5,115.4 142.9,146 153.4,111.3 135.2,125.4 65.8,153.4 129.4,145.3 228.8,117.1 168.4,107.9 95.3,137 69.2,153.7 147.9,118 141.1,119.8 186.6,112.5 271.8,88.8 91.8,138.6 152.4,127.2 69.2,157.2 102.7,152.3 177.6,117.6"/>
<polyline fill="none" stroke="none" marker-start="url(#mp)" marker-mid="url(#mp)" marker-end="url(#mp)" points="113.9,114.4 151.3,131.6 65.1,138.7 79.8,133.9 65.1,157.9 84.9,132.6 110.6,118.3 171.2,114.3 103,131.8 97.4,121.8 115,120.6 65.1,148.6 89.1,162.7 96,139.1 99.7,122.1 113,92.9 81.1,126.4 65.1,132 128.4,106.1 67.7,161.1 100.5,121.3 106.7,114.2 100.4,126.3 69.2,145.5 81.6,143.7 217.3,79.9 71.3,141.5 71.1,130.7 148.5,74.2 102.9,104.9 228.9,65.4 123.4,91.1 112.6,107.4 71.4,155.5 71.8,145.2 134.6,87 96.1,124 108.6,106.7 81.9,124.6 126.6,111.4 254.2,78.3 83.4,149.2 137.1,90.7 103.7,125.4 80.1,130.4 102,135.2 67.3,131.9 146.7,73.4 65.1,147.7 76.9,142.4 125.9,126.2 73.3,141.6 93.9,141.5 107.5,135.9 140.6,98.1 145.7,110.7 65.1,148.7 123.8,119.9 102.8,142.2 127.4,99.7 86,139.9 81.7,136.8 78.7,141.8 92.4,129.8 114,133.5 120.6,122.8 75.4,157.2 74.2,152.9 82.6,142.6 78.7,138 65.1,145.9 109.8,130.6 159.8,95.8 176.8,111 97.1,131 77.8,145 71.9,135 81.1,130.3 112.3,95.4 151.6,108.2 84.4,121.3 74.4,144.9 113.8,110 87.8,151.8 65.1,141.9 65.1,154.2 71.4,150.5 284.3,56.7 138,98.3 69.2,141.3 85,133.7 65.1,140.9 65.1,151.7 109,150.5 96.9,117 76.7,148.2 112.5,124 65.1,146.4 88.3,137.1 86.6,134.1 117.9,111.3 120.2,112.5 80.4,134.2 65.1,137.4 113.8,117.1 131.6,119.9 70,140.7 98.3,141.8 70.6,137.6 194,88 77.9,157 79,144.2 114.6,119.5 153.7,92.1 79.4,127.8 109,120.9 104,115.3 172,64.2 90.6,145.2 152.9,97.6 72.5,149.3 157.7,91.3 65.1,145.5 115,146.6 122.8,84.9 115.9,110.5 95.6,113.3 78.1,169.1 142.9,101.2 123.1,110.9 73.1,138.1 137,79.6 161.4,121.7 155.6,81.8 109.2,107.9 90.9,118.5 123.5,102.9 179.9,100.1 171.9,115.2 74.1,154.4 70.2,152.2 152.4,98.3 173.5,91.1 242.3,75.6 104.3,113.1 77.3,156.9 218.9,75.7 65.1,151.9 159.7,99.3 96.3,125.8 76.3,121 103.2,125.6 168.7,86.9 65.1,159.4 74.8,137.3 71.7,140.9 127,107.4 114.7,112.5 97.1,135.1 80,135.7 103,129.7 65.1,139.3 80.5,133.1 65.1,149.8 67.7,141.5 82.4,143 119.4,110.2 70.3,155.7 110.4,120.3 103.9,101.2 65.1,146.2 120,110.1 122.9,118.1 79.3,139.5 70.3,148.3 134.2,109.7 109.3,110.7 65.1,149.8 79.7,138.7 69.7,116.2 74.1,140.8 71.7,154 87.5,138.9 66.1,147.7 126.8,108.4 70.8,137.3 117.7,116.6 71.5,148.7 77.1,139.3 66.8,129.7 67.6,160.7 78.6,156.8 75.8,133.2 79.5,138.3 238.3,68.1 124.5,106.7 210.6,77.6 86.1,144.6 77,148.8 140.9,117.6 95.3,134.2 95.1,126.8 183.2,97 117.4,127.4 127.9,114 139.7,92.7 138.7,102 120.9,118.4 71.7,144.8 121.5,120.7 65.1,145.3 84.4,129.5 70.4,140.9 76.1,138.9 117.1,115.1 82.9,130.4 223.9,89.5 109.3,130.7 154.7,93.5 161.2,106.5 223.2,85.6 119.7,99.4 178.2,86.5 86.3,147.6 79.5,148.8 263.7,82.4 74.1,149.4 148.4,123.8 100.9,117.5 143.3,98.5 79.2,141.7 76.9,145 156.6,117.3 128.2,110.3 69.3,142.6 99.7,136.5 159.6,89.3 72.6,154.8 65.8,132.8 65.1,152.9 67,143.9 121.5,130.1 128.8,96.2 65.3,142 92.9,151.4 103.9,131.4 77.8,153.6 116.8,126.8 245.1,54.6 131.9,111.4 163.6,92.9 80.8,149.1 74.8,125.8 146.2,106 125.5,115.5 112.8,158.7 72.6,159 107.5,129 80.7,142 143.3,112.5 65.1,149.5 76.4,149.8 69.4,147.1 65.1,152.1 144.6,97.1 157.4,99.9 79.7,151.1 155.7,107 112.8,125.2 73,136.9 71.3,142.4 133.3,105.2 113.1,112.9 77.9,145.6 78.3,141.9 65.2,139.4 127,102.9 65.1,162.5 123.4,112.6 151.1,110.5 138.3,110.8 65.1,153.6 69.2,152.9 66.2,137 108.4,123.8 125.4,114.1 101.8,124.6 65.1,151.4 65.1,147.4 123.5,121.9 75.2,146.7 72.3,145.7 69.2,129.5 215.8,74.3 76.1,154.7 85.6,141.4 81.1,157.8 65.1,155.9 102.4,132.5 138.1,92.7 75.6,157.4 77.2,144.4 67.8,137.3 65.1,141.8 78.9,128.9 85.3,143.5 105.4,129.1 65.1,136.4 205.3,93.7 171.9,95.7 76.1,144.2 78.6,147.2 69.2,145.9 84,132.5 196.6,64.9 145.9,112.8 81.6,158.5 71.9,125 68.8,132.5 107.2,115.5 122.5,116.8 68.2,152.2 89.4,135.4 159.3,85.3 99.3,134.8 65.1,161.5 230.5,93.9 88.5,134.4 133.8,111.6 150,114.1 80.2,145.9 72,128.7 69.4,146.3 79.9,133.6 65.1,134.6 65.1,145.4 118.3,115.4 200.4,66.3 77.7,148.7 163.3,118.5 227.3,90.9 66.5,129.5 81.7,144.2 75.7,146.9 97,126.4 82.4,137.1 145.2,116.3 66.6,147 127.9,106.6 129.9,117.2 71.3,128.1 74.1,137.2 159.7,85.4 65.7,159.8 71,144.5 71,145.6 203.3,65.2 233.3,89 80.9,144.7 73.7,143.4 80.9,137.1 127.2,121.6 65.1,158.3 73,150.9 98.7,137.8 72.9,148.1 69.9,129.3 77.4,152 187.6,108 167.4,113.9 72.8,154.9 92.7,127.9 160.7,93.4 79.7,151.7 73.6,138.7 69.4,162.5 77,130.2 67.2,153.4 74,129.6 141.2,89.5 82.3,142.3 85.8,132.7 236.9,96.9 158.6,88.4 119.2,113.6 124.5,105.7 186,105.2 173.2,99 227.2,99.3 111.6,113 107.8,128.5 132.3,117.4 81.9,135.4 66.7,147.3 65.1,145 77.6,142.5 77.2,149.5 156.2,89.2 65.1,149.1 203.4,63 82.1,152 65.1,145.2 65.1,164.3 67.8,147.4 120.8,117.4 99.9,112.2 142.7,103.3 114.6,108.8 72.3,141.3 108.9,113.3 70.7,148.8 140.7,111 75.4,138.8 68,140.7 78.5,149.4 79.5,135.8 92.2,127.5 98.5,132.6 95.9,132.5 119,103.8 65.1,139.6 115.4,138.4 67.2,147.3 113.4,107.7 157.4,106.3 122.6,115.3 151.5,104.1 87.7,123.8 112.7,118.5 145.3,103.1 135.4,121.3 67.5,138.2 129.3,113.3 102.2,124.9 285.4,46.3 68.8,135.5 74.8,144.4 108.2,122.3 65.1,143.5 100,122 115.6,113.7 136.2,122.6 137.1,94.7 115.9,118.6 77.3,153.3 110.5,120.5 78.5,137.6 77.6,133 114.9,126.7 105,132.5 69.9,152.5 154.1,101.8 170,93.7 68.8,159.6 163.7,106.1 104.4,107.4 93.5,131 85.4,136.4 104.8,130 82.8,143.4 113.8,117.4 119.6,110.8 89.3,113.6 79.6,134.1 92.4,140 166.5,92.1 77.4,131.2 195.4,98.8 65.1,143.5 118.3,129.6 71.9,157.2 67.6,159.6 127.2,93.2 83.9,139.3 77,142.8 77.8,154.5 121.1,125.1 68.3,157.6 166.4,117.3 65.1,146.4 106.8,121.1 109.4,114.2 85.2,131.8 132.7,118.7 182.2,95.1 68.4,141.1 91.3,138.5 72.3,135.4 167.6,104.1 136.5,104 65.1,163.1 80.6,128.6 83.3,134.4 134.8,90.7 71.1,143.5 132.1,110.6 82.2,149.1 66.2,134.3 137.9,122 65.9,140.7 65.1,148.7 119.7,112 69.8,158.1 91,153.8 77.9,141.1 103.7,123.9 77.2,142.9 128.8,132.6 74.2,160.5 65.1,149.7 78,148.8 87.6,133.1 134.9,112.6 141,98.3 86,150.1 65.1,149.9 76.8,132.3 65.1,137.8 141.1,86.7 96.3,123.9 107.2,123.7 70.5,154.5 142.6,107.8 79.4,126.7 138.7,98.1 78.4,147.7 136.6,94.9 82.8,142.5 129,99.3 82.8,132.2 90.8,143.8 73.2,140.8 75.8,135.1 169.9,86 137.9,96.4 93.3,131.6 110.9,121.5 94.6,121.5 98.6,120.2 143.2,95.6 116.9,129.6 65.1,148.3 74.2,138.2 116.1,109.8 71,132.5 80.7,127.1 65.1,137 108.8,121.3 70.8,147.1 74.4,142 119.9,126.1 243.7,61.6 75.1,143.4 67,146.3 129.6,102 73.6,142.6 114.2,103.5 66,148.2 92.1,132.5 89.7,143.2 211.3,89 143.8,97.7 155.2,101 81.5,142.2 86.6,137.7 65.9,160.5 114.7,120 70.4,158.1 137.8,85.6 79,141 90.7,127.1 122.3,122.5 153.9,81.2 176,103.2 80.3,140 118,100 65.9,148.1 65.9,139.6 68.4,148.5 79.4,143.7 125.3,105.4 77.7,139.7 65.1,170.2 114,106.1 100.5,126.3 115.4,128.5 103.4,125.9 88.4,154.6 67.3,139.8 81.9,138.5 75.4,140.6 67.4,146.4 76.8,144.9 101.3,116.6 130.4,103.5 108.7,110.1 130.8,118.9 74.2,153.3 133,111.8 73,154.2 99.9,127.9 106.1,125.4 78.8,154 107.7,125 84,135.5 83.9,142.5 93.6,137.1 65.1,152.9 77.2,126 133.2,105.1 157.9,112 77,152.5 79.7,121.3 71.2,133.2 83.1,125.2 71.6,161.7 94.1,133.1 72.6,153.5 183.2,66.3 133.2,132.4 90.6,139.8 100.3,124.7 71.9,144.3 74.4,143.7 71.2,144.5 67,154.4 70.2,142.1 80.4,146.5 73.3,146 293.9,37 100.8,134.2 112.4,111.6 79,130.3 65.1,151.8 166.3,101.3 79.8,124.5 138.4,116.9 65.1,153.1 84,141.7 69.4,138.1 78.2,136.4 68.4,148.4 94.3,142.3 96.5,139.8 71,144.1 183.9,109.4 74.8,154.4 109,122.3 179.1,84 81,128.4 132.5,110 65.1,125.4 71,144.5 141.1,98.8 183.8,81.3 65.3,156.9 158.2,107.8 169.1,119.1 65.1,154.5 73,129 89.7,142 70.7,156 78.6,143.9 245.2,57.2 140.7,135.4 66.9,151.9 91.2,133.7 75,137.4 129.4,107.7 65.1,145.6 72.8,165.8 91.7,121 104.4,120 73.4,156.8 80.6,128.3 108.1,126.5 100.4,102.8 172.6,105.9 162.9,83.3 70.2,132.6 65.4,155.9 129.9,110.3 65.1,151.3 81.4,145.5 166.5,78.6 78.7,139.6 141.3,98.6 69.2,141.5 98.5,115.1 76.6,130.5 82.6,147.6 70.6,141.9 110.8,135.6 78.6,129.7 203.2,86.8 113.8,123 69.3,150.1 83.9,144.1 92.3,132.5 122.6,119.5 87.8,121.1 101.9,136.8 87.1,126.7 69.6,147.9 73.9,151.6 129.6,103.9 102.5,125.9 74.5,144.6 67.6,164.2 157.8,108.2 90,126.4 102.9,111.6 85.8,119.4 203.1,93.1 88.1,163.1 83.2,144.7 158.7,101.9 72.3,137.5 100.6,144.4 156.7,83.1 115.3,111.9 92.5,148.7 102.4,121.2 68.7,138.9 137.2,125.7 150,101.9 65.1,138 65.1,138.3 79.6,140.2 79.1,142.5 66.2,147.9 80.6,146.3 143.2,78.2 129.3,129.5 96.7,131.2 78.3,138 256.4,47.9 103.6,137.8 69.3,152.2 135.7,104.9 116.1,124.4 78.6,142.7 86.6,135.8 71.4,150.5 77.9,123.8 114.4,104.3 135.3,105.5 69.1,134.8 142.7,101.5 157.1,108 87,140.7 101.9,122.5 158.5,103.4 74.6,153.4 159.9,96 166.4,95.6 194.1,61.7 78.1,155.6 65.1,150.5 123.8,118.5 131,104.4 123.7,132 123.5,122 231.6,60.6 95.7,143 71.4,136.6 72.3,150.4 163,96.7 75.2,136.9 179.8,89.4 108.5,123 78.9,120.1 78.2,135.5 88.4,130.7 134,103.2 158.9,116.3 168.1,64.2 70.3,141.6 94.4,144.3 69,159.9 109.5,114.1 94.4,121.9 69.4,142.3 80.8,162.7 65.1,160.4 90.5,132.6 152.9,114.8 128.1,131.5 80.8,136.1 145.3,112.9 134.2,104.3 69.7,140.8 69.7,136.8 96.2,142.7 216.5,59.5 249.3,71.4 68.6,146 134.5,121.4 79.9,142.4 87,136.4 84.8,129.6 285.5,38.4 140.6,95.2 73.5,154.3 196.2,84.4 216.4,50.3 79.2,135.8 77.3,142 102.1,109 68.9,159.3 66.9,141 170,64.6 71,140.6 125.6,103.8 161.2,95.5 69,154.6 77,142.9 128.1,118.7 107.9,121.2 76.9,142.7 87.9,125.1 80.7,139 173.5,85 132.2,108.6 108.9,116.1 112.7,122.3 109,118.5 92.1,137.2 127.9,99.5 138.2,114.4 90.6,135.9 70.6,146.3 65.3,140.7 110,117.3 224.2,82.1 244,88.8 67.6,152.5 65.1,139.7 72.8,133.7 72.2,146.7 79.9,138.1 108.6,120.4 125.1,117.1 174.4,94.1 150,103.1 67,139.2 146.6,113.7 247,38.3 71.1,118.4 140.1,113.2 72.1,134.1 163.7,87.1 68,150.5 181.7,97.7 67.9,126.8 65.3,142.9 86.7,120.8 176.9,103.7 97.4,128.6 65.1,135 65.1,154.9 66,147.1 77.2,132.9 161.1,95.5 77,156 265.8,33.2 67,147.4 143.5,96.2 130.1,114.6 98,124.6 69.1,154.7 154.3,116.6 134.9,97.6 67.9,147.7 102.1,116.2 157.8,83.3 178.6,97.7 112.8,106.4 69,167 138.2,97.5 89.2,146 127.6,129.3 206.6,89.5 65.1,150.6 69,146.3 180,70.1 80.2,142.8 105.2,124.3 77.7,141.2 181,103.6 158,126.2 101.8,119 84.5,134.8 68.4,136.4 84.8,148.8 76.5,129.6 66.1,142.5 75.3,130.7 75.2,142.4 129.1,109.6 73.8,141.4 143.5,127.1 110.6,136.2 65.1,156 74.4,133.8 104.8,119 141.6,121.2 93.8,119.1 81,140.4 97.6,127.1 79.1,133.4 92.7,141.6 113.6,118.6 130,110.1 129.6,99.2 186.6,100 234.6,54.3 65.1,139.1 131.3,125.6 97.9,110.3 78.7,141 186.7,93.8 65.6,157.4 116.9,118.8 131.5,102.1 121,105.2 68.1,127.6 65.1,150.9 182.5,99.4 80.1,150.7 122.5,102.7 107.8,120 176.3,88.9 117.7,108.1 86.2,128.8 257.3,86.8 160.1,98 67.7,139.4 83.3,139.8 122.2,109.4 139,123.1 85.7,136.7 78,131.2 242.8,64.9 103.5,124.1 69.3,154.5 72.2,152.8 119.9,129.3 153.9,118.5 93.8,123 152.3,114.9 65.1,138 159.7,100.1 152.5,94.8 84.1,137.4 183.3,103.5 80.5,123.6 75.8,117.6 75,145 130.9,119.5 223.3,89.7 97.4,104.2 225.4,86.5 180.1,60.6 115.8,142.5 167.5,105.1 71.5,163.8 72.6,132.8 65.1,154.6 73,152.4 76.4,137.9 65.1,151.5 248.7,73.7 159.3,120.1 80.3,135.5 240.6,66.2 77.9,158.4 183.1,96.3 285.6,51.2 102.6,127.6 139.5,97.3 149.9,103.6 65.1,148.3 67.6,154.9 95.2,122.8 108.4,116.7 69,144.6 107.2,121.9 72.3,137.9 78.5,127.1 172.2,101.2 125.9,122.5 127.1,120.8 67,133.1 72.6,134.6 144.6,86.4 96.8,115.9 237.8,70.6 67.8,148.7 76.5,135.5 239.1,74.5 66.2,141.6 102.8,120.3 102.6,129.1 136.5,119.8 193.5,60.5 103.7,121.3 75.8,135.9 128.9,104.7 78.1,135.2 84.6,140 66.2,142.7 142.8,104.1 77.8,141.3 113,107.2 78.7,135.8 80.7,134.1 196,94.5 85.8,159.7 65.1,133.6 70.4,145.2 86.8,151 122.5,114.7 78.7,142.7 65.1,138.9 172.6,94.8 105.5,118.9 112.2,109.4 136.3,84.4 79.2,115 80.3,140.7 102.5,116.9 118.8,111.5 77,146.5 109.6,122.3 88.9,147.1 65.1,148.5 82.4,141.1 73.7,138.9 232.3,58.8 73.1,140.4 108.9,99.9 75.6,141.3 85.7,152.3 128.7,114.5 170,97.4 82.2,127 74.8,132 118.2,106.3 68.6,133.4 81.5,146 79.2,144.7 225.9,65.4 70.2,153.3 69.5,136.4 77.5,144.2 161.4,90.4 76.5,127.1 65.1,133.2 250.6,52.9 153.9,99 105.9,121 83.8,144.4 175,91.3 76,152 117.7,118.3 172.6,100.2 105.7,110.5 162.2,96.2 74.8,135.8 74.1,146.8 132.6,103.4 75.1,140 82.7,133.8 94.1,134.4 104.7,119.6 65.3,142.8 226.1,48 65.1,127.9 160.5,86.4 159,88.3 85.3,139.2 112.5,117.8 118.9,108.1 99.9,128.5 69.1,130.6 104.3,141 124.2,107.8 161.4,99.5 98.3,111.1 125.6,116.2 66.8,144.5 174.7,74.9 84.4,157.3 98.2,125.1 115.5,105.1 97,124.6 73.8,148.9 247.7,52.8 65.6,157.8 65.1,150 202.1,75.8 145.2,78.7 114.7,111.5 117.3,107.1 122.9,113.4 138.3,112.8 122.1,114.6 66.5,139.5 91,142.2 84.5,140.9 66.2,144.4 241.4,30.5 69.9,152.9 65.1,141.8 75.5,149.6 86.4,143 132.5,129.7 84.5,134 96.7,122.4 161.9,95.3 79.4,131.7 86.2,125.5 89.3,137.8 96.6,149.3 67.8,155.5 159.9,79.9 117.2,127.1 77,143.2 174.6,85.1 69.5,142.4 131.7,103 80.3,123.9 85.6,138.6 69,152.4 99.4,119.5 183.8,99.1 68.9,163.2 69.7,155.9 126,110.4 116.9,117.9 67.4,150.5 200.9,88.9 166.3,59.5 175.4,75.5 187.3,92.1 238.6,42 101.3,117.9 106.9,123.2 134.8,116.8 66.9,143.5 65.1,138.8 118.4,105 148.1,84.1 84.6,139.9 83.6,150 101,124.4 143.4,89.3 164.5,106.8 85.8,124.8 65.1,148.7 122.2,122.2 105.2,96.8 72.8,145.6 138.4,102.4 105.6,151.1 72,131.9 89.5,144 93.7,140.6 65.1,160.9 92.5,130.2 125,116.9 129.1,94.3 94.6,149.6 88,128.2 73.4,143.3 182.4,107.5 67.9,143.2 79.3,131.8 100.8,118.1 167.5,95.3 67.3,140.1 174.1,71.5 182.2,103.5 71.4,138.3 75.5,142.4"/>
<line x1="63.4" y1="150.3" x2="437.2" y2="33.8" stroke="#000000" stroke-width="1.4"/>
<line x1="65.1" y1="154.7" x2="376.6" y2="57.1" stroke="#0000ff" stroke-width="1.4"/>
<line x1="63.4" y1="149.6" x2="437.2" y2="35.6" stroke="#ff0000" stroke-width="1.4"/>
<line x1="65.1" y1="147.0" x2="303.3" y2="49.5" stroke="#a020f0" stroke-width="1.4"/>
</g>
<rect x="52.4" y="0.9" width="460.35" height="185.1" fill="none" stroke="#333" stroke-width="1.5"/>
<path d="M52.4,186.00h9M512.75,186.00h-9M52.4,181.37h4.6M512.75,181.37h-4.6M52.4,176.75h4.6M512.75,176.75h-4.6M52.4,172.12h4.6M512.75,172.12h-4.6M52.4,167.49h4.6M512.75,167.49h-4.6M52.4,162.86h4.6M512.75,162.86h-4.6M52.4,158.23h4.6M512.75,158.23h-4.6M52.4,153.61h4.6M512.75,153.61h-4.6M52.4,148.98h4.6M512.75,148.98h-4.6M52.4,144.35h4.6M512.75,144.35h-4.6M52.4,139.72h9M512.75,139.72h-9M52.4,135.10h4.6M512.75,135.10h-4.6M52.4,130.47h4.6M512.75,130.47h-4.6M52.4,125.84h4.6M512.75,125.84h-4.6M52.4,121.21h4.6M512.75,121.21h-4.6M52.4,116.59h4.6M512.75,116.59h-4.6M52.4,111.96h4.6M512.75,111.96h-4.6M52.4,107.33h4.6M512.75,107.33h-4.6M52.4,102.71h4.6M512.75,102.71h-4.6M52.4,98.08h4.6M512.75,98.08h-4.6M52.4,93.45h9M512.75,93.45h-9M52.4,88.82h4.6M512.75,88.82h-4.6M52.4,84.19h4.6M512.75,84.19h-4.6M52.4,79.57h4.6M512.75,79.57h-4.6M52.4,74.94h4.6M512.75,74.94h-4.6M52.4,70.31h4.6M512.75,70.31h-4.6M52.4,65.69h4.6M512.75,65.69h-4.6M52.4,61.06h4.6M512.75,61.06h-4.6M52.4,56.43h4.6M512.75,56.43h-4.6M52.4,51.80h4.6M512.75,51.80h-4.6M52.4,47.17h9M512.75,47.17h-9M52.4,42.55h4.6M512.75,42.55h-4.6M52.4,37.92h4.6M512.75,37.92h-4.6M52.4,33.29h4.6M512.75,33.29h-4.6M52.4,28.66h4.6M512.75,28.66h-4.6M52.4,24.04h4.6M512.75,24.04h-4.6M52.4,19.41h4.6M512.75,19.41h-4.6M52.4,14.78h4.6M512.75,14.78h-4.6M52.4,10.15h4.6M512.75,10.15h-4.6M52.4,5.53h4.6M512.75,5.53h-4.6M52.4,0.90h9M512.75,0.90h-9M52.40,186.0v-9M52.40,0.9v9M71.58,186.0v-4.6M71.58,0.9v4.6M90.76,186.0v-4.6M90.76,0.9v4.6M109.94,186.0v-4.6M109.94,0.9v4.6M129.12,186.0v-9M129.12,0.9v9M148.31,186.0v-4.6M148.31,0.9v4.6M167.49,186.0v-4.6M167.49,0.9v4.6M186.67,186.0v-4.6M186.67,0.9v4.6M205.85,186.0v-9M205.85,0.9v9M225.03,186.0v-4.6M225.03,0.9v4.6M244.21,186.0v-4.6M244.21,0.9v4.6M263.39,186.0v-4.6M263.39,0.9v4.6M282.57,186.0v-9M282.57,0.9v9M301.76,186.0v-4.6M301.76,0.9v4.6M320.94,186.0v-4.6M320.94,0.9v4.6M340.12,186.0v-4.6M340.12,0.9v4.6M359.30,186.0v-9M359.30,0.9v9M378.48,186.0v-4.6M378.48,0.9v4.6M397.66,186.0v-4.6M397.66,0.9v4.6M416.84,186.0v-4.6M416.84,0.9v4.6M436.03,186.0v-9M436.03,0.9v9M455.21,186.0v-4.6M455.21,0.9v4.6M474.39,186.0v-4.6M474.39,0.9v4.6M493.57,186.0v-4.6M493.57,0.9v4.6M512.75,186.0v-9M512.75,0.9v9" stroke="#111" stroke-width="1.1" fill="none"/>
<text x="46.4" y="186.3" font-size="16" text-anchor="end" class="t">−<tspan dx="2.4">1</tspan></text>
<text x="46.4" y="146.0" font-size="16" text-anchor="end" class="t">0</text>
<text x="46.4" y="99.8" font-size="16" text-anchor="end" class="t">1</text>
<text x="46.4" y="53.5" font-size="16" text-anchor="end" class="t">2</text>
<text x="46.4" y="11.5" font-size="16" text-anchor="end" class="t">3</text>
<text x="52.9" y="207.6" font-size="16" text-anchor="middle" letter-spacing="1" class="t">0</text>
<text x="129.6" y="207.6" font-size="16" text-anchor="middle" letter-spacing="1" class="t">2</text>
<text x="206.3" y="207.6" font-size="16" text-anchor="middle" letter-spacing="1" class="t">4</text>
<text x="283.1" y="207.6" font-size="16" text-anchor="middle" letter-spacing="1" class="t">6</text>
<text x="359.8" y="207.6" font-size="16" text-anchor="middle" letter-spacing="1" class="t">8</text>
<text x="436.5" y="207.6" font-size="16" text-anchor="middle" letter-spacing="1" class="t">10</text>
<text x="513.2" y="207.6" font-size="16" text-anchor="middle" letter-spacing="1" class="t">12</text>
<g transform="translate(14.0,128.1) rotate(-90)"><text x="0" y="0" font-size="16" font-style="italic" textLength="18" lengthAdjust="spacingAndGlyphs">δν</text><text x="24.5" y="0" font-size="15.5" font-weight="bold" textLength="44.5" lengthAdjust="spacing">(<tspan font-style="italic" font-weight="normal">μ</tspan>Hz)</text></g>
<g clip-path="url(#cp1)">
<polyline fill="none" stroke="none" marker-start="url(#mb)" marker-mid="url(#mb)" marker-end="url(#mb)" points="192,363.6 214,354.1 106.6,370.6 171.1,359.6 148.8,370.7 326.2,324.5 178.5,345.5 213.1,363.5 96.9,380.5 227.5,332.3 157.4,370.2 104.8,380.5 97,378 100.6,377.3 244.1,333.9 127.7,398 126.1,387.2 383.6,296.2 144.5,363.7 135.6,358.3 163.7,367.5 109.1,394.2 108.4,370.7 217.4,363.5 108.2,388 133.5,374.2 202.7,347.8 163.4,362.2 196.9,363.3 78.8,378.8 108.4,377.4 417.6,307.7 270.2,338.4 146.6,373.2 104.7,382.5 89.8,393.3 126.9,380.4 65.5,386.6 94.2,386.7 134.9,391.6 119.8,362.4 88.9,401.5 96.7,373.1 151.5,372.1 114.8,369.1 111.9,364.1 296.6,304.5 99.7,394.3 224.7,361.5 316.6,299.2 291.9,312.9 167.1,363.7 389.7,300.9 94.4,405.1 170.5,347.8 77.2,393.9 69.4,373.3 86.2,373.8 95.6,389.3 199.4,353.4 166.9,369.2 339.5,305.1 65.2,386.2 83.1,383 68.7,395.2 252.9,324.3 155.1,366.1 78.8,378.3 76.5,378.6 134.6,377.8 111.9,381.9 373.4,291.9 170.2,357.6 119,364.3 74.8,370.9 120.6,369.2 230.7,349.8 163.8,351.9 367.7,292.9 161.8,371.3 192,367.4 247.4,330.8 114.7,383.6 353.6,287.2 78.6,379.4 190.2,360.5 217.8,363.7 66.2,393.4 123.9,369.5 134.7,368.1 66.1,397.1 84.4,376.9 106.4,380.1 152.4,354.4 110.9,384.2 203.4,361.2 229.6,330.9 227.9,353.5 253.3,352.6 87.1,371.3 349.8,299.6 140.6,369.9 177.3,350 257.8,339.5 194.9,343.4 166.1,344.7 247.8,356.4 361.4,305.9 144.7,361.6 342.1,301.8 113,360.5 157.1,367.8 122.5,353.8 193.7,337.7 98.9,395 132.8,374.7 230.3,337.7 76.4,363.8 125.6,366.1 369.3,299.7 248.7,327.3 142.8,375.7 177.9,364.1 337.7,289.1 192.3,370.5 155.5,382.8 236.5,319.2 213.2,347.9 72.8,378.2 118.4,374.5 74.6,382.5 137.4,350.9 116.4,381.6 146.4,374.3 151.6,361.7 108.4,383.9 172.9,346.4 298.3,299.8 80,359.6 213.7,360.1 119.6,379.6 134.7,364.9 74.6,379.8 81,388.4 208.6,344.5 73,385.9 119,371.2 80.3,386.4 106.8,394.1 200.8,355.1 68.5,395.3 167.8,341.8 337.7,300.9 178.8,371.3 184.8,371.6 75.3,392.8 400.9,309.1 161.1,361.7 94.8,391.2 156.5,361.1 146.7,385.5 173.1,352.6 362.2,314.5 212.5,372 141.1,370.5 458.7,296.3 157,370.4 81.5,373.6 91.8,379.1 78.8,382.3 136.7,365.1 197.8,355.7 279.5,331.9 84.7,378.9 74.7,376.6 147.3,371.6 97.1,366.9 76,373 124,387.2 178.6,361.4 105.9,393.3 316.1,306.7 327.8,322.1 68.7,387.5 80.8,390.2 165.5,337.8 155.7,373.1 96.5,366.4 182.2,358.5 343.2,293.6 75.9,393.6 80.4,382.5 233.5,355.6 100.9,369.2 340.8,317.1 357.9,299.2 192.6,361.6 236.7,347.3 91.7,374.8 139.8,389.3 81,380.6 118.1,380.7 113.4,390.7 92.5,376.2 119.7,392.7 181.2,359.5 181.1,350 200.1,354.2 152.7,351.2 158.6,353.2 155,353.8 133.5,358.5 119.4,356.1 109.5,372.6 84.5,388.4 126,361.6 103.1,392.6 149.2,355.9 123.5,382 87,366.2 137.2,374.8 309.9,313.6 311.6,298.5 144.6,356.7 406.9,299.3 274.4,334 257.4,330.6 87.3,385.2 451.5,317.3 168.8,357.2 216.7,338.6 134.6,359.8 320.1,316.2 275.1,341.8 94.3,383.7 93.1,374.1 140.7,378.5 72.8,369.7 190,346.2 171.7,364.8 197.5,352 69.2,399.3 91.1,379.6 111.7,385.7 97.4,373.7 196.6,349.1 170.2,376.4 141.9,372.1 254.6,328.1 276.1,332.1 122.8,392.3 124.2,379 208.5,329.7 342.9,307.5 68.8,400.4 126.5,372.3 202.3,358.5 156.5,368.6 236.5,320.3 119.1,369.1 144.7,365.8 145.5,369.2 110.7,375.5 68,397.7 92,388 107.6,364.2 287.7,344 74.7,377.4 216.3,337 101.5,363.4 180.7,360.5 76.8,376.8 177.1,355.9 101.1,376.2 186.9,355.5 169.9,365 177.2,365.3 73.2,378.3 80.7,388.5 221.4,328.3 93.2,371 70.9,385.5 212,342.4 271.7,348.1 197.9,351.1 152.2,373 316.7,305.4 139,388.5 392.9,305.1 126.6,367.1 139.2,363.1 187.9,340.8 237,343.3 84.9,405 128.2,372.5 262,334.2 127.5,393.7 92.7,372.2 283.7,319.5 113.8,384.9 209.7,342.9 177.3,363.3 68.9,382.2 239.4,342.1 183.2,363.3 93.7,363.5 274.4,328.8 325.7,316.3 90.3,383.6 107.5,381 139.4,370 172.8,357.6 242.7,337.6 143.8,376 192.3,343.3 78.5,383.1 173.1,368.8 156.4,367.3 169.4,356.3 176,363.8 79.2,397.4 211.3,334.1 174.5,353.6 377,305.3 92.5,378 115.5,371.4 200.9,332.6 83,389.3 133,391.7 171.7,361.4 76.6,387 143,370.6 205.7,341.7 134.2,368.8 194.7,365.1 110.7,364 168.1,362.4 135.2,371.5 89.9,385.6 159.7,360.6 123.2,367.4 151.7,361.3 163.1,336 147,369.3 228.6,351.5 241,344.9 137.1,350.3 148.9,357.8 179.6,362.2 428.7,302 197.7,347.1 242.9,327.2 178.5,352.5 296.4,321.5 154.9,373.2 160.3,372.9 68.4,391.4 108,389.1 144.7,370.1 357.9,311.2 164.7,365.5 183.1,346 215.5,367.5 281.5,337.8 106,386.4 81.7,384.3 152.1,345.8 200.2,343.1 340.4,308.3 102.7,386.9 95.5,376.2 273.9,312.9 148.7,374.9 99.3,363.4 368.5,290.2 264.3,321.9 96.4,360.9 161,345.6 134.3,377.2 133.7,359.2 105.6,376.4 176.4,356.2 268.2,335.5 146.9,382 190.1,352.4 109.3,371.5 319.8,322.2 112.5,397.6 349.3,310.4 298.6,318 159.6,361 67.7,391.9 77.5,400 150.8,366 145.2,349.7 123.8,371.6 243.1,341.8 353.2,304.5 182.4,370.5 190.3,348 167.7,368.4 146.8,349.7 216,341.7 145.5,398.2 441.3,315.8 96.8,380.5 185.5,362.7 114.1,374.2 119.6,368.7 463.1,311.4 285.7,321.8 177.1,377.8 140.4,348.7 114.5,378.9 95.2,352.2 300.6,349.2 201.6,363.5 98.2,364.8 99.6,382.3 247.7,337.5 65.9,388.7 197,348.9 134.3,364.3 75.4,382.1 153.4,396.2 328,309.8 115.3,373.3 153.8,369.5 147.4,371.3 292.3,322.6 154.4,336.6 174.2,363.5 70,386.3 108.4,364.7 160.6,370.3 79,378.1 97.5,377.3 159.3,377 99.6,396 79,373.5 131.9,372.7 109.3,380.8 254.6,351.6 153.5,372.8 139.7,341.8 171.4,373.9 98,386.9 71.3,401.3 150.4,383 76.4,379.6 148.6,359.8 384.5,316.8 153.2,340 64.8,390.3 225.3,364.6 203.1,365.7 162.6,353 124.1,376.8 157.3,366.7 235.7,353.6 114.5,372.6 168.9,357 83.6,376.2 217.7,345.5 223.4,345.3 119,396.3 115.5,382.6 209.3,359.2 168.8,355.8 215.6,340.2 316.9,320.5 90,371.4 389.1,300.8 67.2,391 182.4,351 179,367.8 98.5,383.7 116.3,388.4 118.8,388.1 240.7,334.4 274.3,321.7 89.2,386.6 203.7,369.3 190.8,330.1 137.9,352.1 104.3,391.3 75.4,384.6 95.6,385.9 136.3,386 312.8,308.3 262.5,349.1 102.5,400.1 88.3,363.9 191.1,348.2 221.3,343.4 92.3,373.4 187.4,363.4 205.6,345.9 202.2,362.9 116.9,368.8 138,378.9 195.1,383.2 138.8,363.6 122.7,371.2 175.2,355.6 233.3,345.9 295.6,318.3 70.3,365.7 128.9,348.1 86.4,384.4 65.9,388.3 87.7,387 81.8,361.6 66.7,376.7 135.7,363 164.4,367.2 158.9,352.4 416.4,287.1 195.7,340.4 115.8,383.4 162.3,366.8 130.1,381.5 170.6,343 64.8,395.2 81.2,385.8 165.1,353.9 357.3,309.3 236.2,364.7 272.2,307 161.7,361 193.5,349.8 69.6,392.2 145,367.8 164.5,356.4 124.1,388 208,336.8 322.6,314 374.2,286.7 94,369.7 94.1,398.8 187.3,359 159.4,346.8 122.1,370.1 346.6,307.1 97.4,364.8 257.3,351 95.4,392.8 67.9,398.4 98.5,381.1 211.2,365.4 90,405.4 161.4,361.1 76.5,374.9 295.5,313.5 115.9,378.9 205.6,350.9 91.3,381.9 93.1,391.5 161.2,352.7 161,364.5 87.9,399.6 114.6,392.3 82.2,387.4 68.7,392.1 179.2,357.3 239.9,332 69.8,380.7 128.2,367.9 135.2,365.4 405.5,303.2 108.2,381.5 108.8,390.8 153.5,359.1 96.3,369.8 370.4,301.5 70.5,399.6 209.6,364.3 115,376.3 142,369.9 123.3,388 331.8,311.2 132.7,383.4 183.6,334.5 361.6,310 283.4,303.3 155,363.6 117.7,365.3 79.5,370.8 151.5,368.9 339.8,289.3 81.4,385.9 89.7,381.1 72.9,377.3 186.4,352.8 439,307 212.1,333.6 137.1,381.2 198,339.7 180.8,365.3 60.1,385.3 183.4,344.5 114.7,351.8 215.9,357.4 260.5,327.9 123.8,363.4 221.7,345.5 233.7,332.1 315,316.1 126.7,365.4 104.7,363.2 203,375.7 460.4,313.5 281.2,341 172.9,360 109.2,384.7 227.5,356.3 101.1,396.6 134.1,364.1 238.3,348.6 204.2,338.6 228.6,345.6 260.2,317.7 147.5,368.8 108.7,377.1 106.9,368.7 112.1,373.1 73.4,391.7 67.6,366.6 124,389 87.8,406.4 147.3,361.9 121.7,373.3 144.6,381.5 89.7,384.1 258.2,337.5 231.9,341.1 115.1,372.7 139.6,362.1 90,382.1 162.9,365.4 218.6,348 128.6,360.3 181.1,352.8 228.7,329.4 106.8,381.2 228,336.7 176.5,351.3 276.2,353.4 73.5,377 95,382.1 205.9,373.3 233,372.9 69.4,403.7 74.6,393 101.2,374.5 63.1,376.2 242.9,342.9 70,385.1 297.2,332.1 176.4,363.9 198.1,338.4 77.5,387.2 131.1,383.6 76.6,396.7 114.8,369.7 227.7,332.2 142.8,362.8 73.7,381.3 198.5,358.6 102,383.4 84.9,376.2 65.5,398.1 127.2,374.5 70.9,380.9 281.6,307.1 208.1,351 230.3,337.9 119.8,369.4 219.3,325.8 267.3,335.3 139.8,375.4 237.1,331.8 147.8,366.3 331.5,312.2 134.6,369.2 67,386 185.4,365.3 275.6,306.5 264.9,325.2 136.9,354.5 97.5,404.5 303.3,319.7 427.7,307.9 153.1,357.7 164.6,370.8 265.6,354 292.2,320.9 170.3,364.7 361.2,302.1 241.5,340.6 300.9,302.9 247,336.7 150.1,379.1 234.5,351 192.8,335.8 66.8,388 242.9,370.6 290,318.2 197.9,348.7 218.2,341 141,372.2 128.9,377 258.9,329.3 107.7,391.4 170.3,358.4 80.5,389.5 69.4,362.8 155.3,344.6 361.2,312.1 99.1,374.1 113.1,360.9 114.1,371.3 114.6,398 64.4,393.2 93.2,392.3 107.5,375.3 63.5,380.6 143.8,373 70.1,395.2 117.7,379.5 247.6,339.7 124.7,382.7 160.8,370.6 299.8,327.4 112.1,391.7 86.4,386.5 245.1,344.2 204.1,351.7 109.8,381.6 347.9,294.8 133.4,362.3 72.6,389 98.6,374.6 162.8,371.4 122.2,372 78.2,379.2 188.4,338 111,388.7 114.7,377.5 189.5,326.5 221,372.4 417.5,306.7 76.5,387.4 153.7,370.7 122.5,378.4 108.7,364.7 131.8,366.7 299.1,302.4 99.4,382.8 74.9,384.2 204.2,330.6 195.8,352.3 158.3,360.3 146.1,348 186.4,348 218.2,346.7 296.4,326.5 176.3,354.8 123.8,372.3 128.2,373.3 148,376 66.3,381.9 118.9,371.8 203.4,341.6 122.1,381.4 169.1,376.6 182.9,348.8 187.5,352.4 220,354.9 368.6,297.7 73.6,394.9 156.7,359.5 264.6,329.3 124.6,378.5 293.1,312.9 113.6,361.1 114.5,386.8 230.8,336.8 215.2,351 334.3,304.5 205.2,368.1 127,374.8 448.9,315.9 289.7,307.5 150.2,366.4 74.9,399.9 106.4,366.5 237.1,320.5 90.8,368 197.3,355.7 193,364.2 381,302.6 156.9,360.7 180.1,352.3 235.4,336.5 162.4,363.8 85.2,377 148.9,365.7 86.3,393.1 73.5,390.2 193,359.6 316.9,327.3 187.1,357.6 114.8,365.5 375.5,296.4 149.1,372.4 70.5,381.3 69.3,380.8 64.9,377.3 151.1,362.1 202.2,363.6 169.4,366.2 173.8,356.3 204.5,320.9 156.4,376.7 253.5,336.5 149.8,366.9 71.9,391 219.6,346.4 76.7,383.5 210,354.5 69.8,384.5 78.2,382.8 186.1,349.6 207.6,353.6 124.6,363.6 131.4,352.6 184.5,356.2 110.9,373.7 83.3,381 142.7,372.6 248.1,339.4 73,397 86.5,369.4 217.7,362.1 148.5,391 236.7,331.6 177,349.7 460.9,312 98.7,392.8 85.7,382.5 119.7,358.2 126.3,363.9 152,359.9 178.3,359 439.6,309.8 71.7,374.8 158.6,370 311.2,322 137.1,378.4 109.7,365.2 71.6,390.5 157.1,364.6 133.4,358.4 143,355.6 106.2,382.9 73.7,375.5 207.9,341.9 149.1,367.2 168.5,356.5 73,382.6 72.1,390 233.9,339.2 207.9,377.4 97.9,384.2 126.8,379.5 289.5,304.4 119.2,370.8 192,358.1 257.5,356.6 101.1,408.9 306.4,307.5 328.7,308.6 167.6,356.5 236.8,342.1 310,306.4 233.4,354.6 157.5,341.6 99.5,370.4 70.6,390.3 104.7,386.1 208.9,338.4 87,382.5 262.1,325 274.5,335.2 312.3,290 101.9,376.7 64.1,383.2 83,374.3 87.6,377.2 177.7,367.2 102.1,376.6 103.7,389 166.4,377.3 83.4,393.2 166.8,359.2 172.3,356 254.3,343.8 213,352.5 84.7,375.8 202.7,355 109.5,383 257.6,322.8 143.4,356.9 145.5,366.7 72.8,389.1 192.2,345.6 225.6,356.9 306.9,316.1 287.4,348.5 86.8,384.8 168.4,369 119.3,395.8 151,364.6 62.5,386.8 99.6,367.6 103.6,381.3 121.2,360.1 197.1,356 122.8,380.7 272.2,322.4 312.1,303.1 426.2,304.4 208.8,361.9 113.3,382 67.2,384.5 254.9,337.7 95.3,389.6 132.3,358.8 201.5,335.8 276.3,319.6 113.6,370.3 277.8,328.5 189.9,342 100.8,373.8 100.9,375.6 82.1,363.4 162.8,371.2 97.2,380.4 134.3,366.8 97.1,378.9 94.8,384.4 198,352.6 96.4,374.5 120.4,380.7 161.1,353.8 198,331.3 118.7,370.4 182.6,356.4 126.6,378.8 102.2,376.4 71.6,388.1 82.3,370.1 108.6,369.2 107.7,381.8 172.5,352.1 289.9,313.9 145.5,371.9 135.8,371.9 128.8,372.7 243.4,337.1 88.1,381.6 229.3,341.9 290.6,323.1 160.2,375.2 165.9,353.4 111.6,365.3 162.2,352.1 193.9,347.6 152.5,367 75.5,382.9 308,335 146.8,357 155,349.8 192.4,364.1 91.5,391.6 174.2,363.2 147.6,366.7 77,386.4 67.6,371.6 78.2,370.7 219.6,348.3 86.5,374.2 230.7,348.9 248.7,332.2 275,309.2 65.5,374 78.9,387.6 145.8,386.2 142.3,378 115.5,360.4 187.3,361.5 298.2,330.6 129.9,376.8 142.6,348.6 86,375.4 180.5,360 241.1,327.1 164.7,349.9 76.5,387.3 198.2,348.9 140.2,373.8 307.1,293.4 124.8,364.3 241.3,320.6 145.7,365 236.4,352.1 217,348.4 133.6,358.4 134.6,361.6 179.6,323.2 173.1,362.1 137.1,382 169.2,392.1 186.2,373.2 354.2,287.6 147.1,384.4 92,392.1 102.6,372.6 274.3,320.4 162.7,364.3 119.8,364.3 118.2,376.2 91.4,385.5 212.6,344.2 202.3,353.2 101.6,374.3 422.2,299.5 76.1,392.4 161.3,375 154.9,346.4 116.2,363.6 212.3,358 111.2,376.4 225.8,349.4 159.7,354.7 100.4,392.4 155.6,377.1 97.8,388.6 258.5,339.2 99.6,373.6 94.5,356.6 97.6,366.6 141.7,356.9 342.3,301.4 130.9,350.4 166.8,358.4 141.6,363.5 69.3,378.5 278.4,321.3 181.4,365.4 118.8,380.5 206.3,357.2 76.7,388.9 212.2,333 150.4,359.6 127.4,377.9 133.6,385 179.8,360.1 143.1,379.7 133.5,375.7 66.5,384.2 113.9,388.1 199.5,360.7 152,360.3 153.2,372.8 166.5,385.5 241.1,342 173.3,343.2 263,349.2 289.2,317.5 119.9,368.9 202.1,359.1 336.7,316.8 124.2,391.3 105.9,386 379.7,310.1 134,375.5 112.8,382.4 241.1,331 200.5,372.7 209.3,350 311.9,333 212.5,364.1 158.6,345.6 211.8,350.4 201.6,377.4 310.7,303.7 225.9,334.9 193.2,365.2 135.6,362.2 81.3,394.9 115.7,378.4 134.2,366.7 232.6,331.3 215.8,342.6 401.6,302.1 140.9,374.2 88.7,385.9 85.6,387.9 112.3,372.5 88.9,375.3 115.5,369.4 315.7,308.7 99,375.8 221,358.8 71.2,398 152.1,375 161.2,358.5 276.3,317.3 433.8,314 193.7,363 79.1,386 342.3,305.4 237,333 110,372.3 97.1,369.5 69.4,381 169.4,365.4 205.6,356.4 200.7,348.7 122.4,374.2 170.2,360.2 229.8,331.4 144.8,356.7 65.7,375.5 217,341.8 336.6,311.2 114.1,363.1 94.1,396.6 158.3,373.7 159.7,371.3 104,375.3 65.5,369.7 146.5,352.4 85.5,378.8 121.3,379.1 199.4,341.1 94.9,383.8 122.6,384.3 144.2,369.3 124.8,363.8 226.6,338.1 81.3,374.2 89.6,374.5 146.4,359 264.1,314.7 311,306.5 127.2,390.3 146.9,350.2 401.5,297.8 204,363.1 69.2,362.9 111.9,393.8 65.2,386.7 278.3,324.3 133.2,358.2 117.9,363.8 162.3,385.8 68.7,375.6 191.9,352.5 93.8,357.2 164.4,351.3 170.5,362.1 186.4,376.9 336,311.2 131.6,386.6 69.9,371.1 134.3,358.8 89.7,365.5 130.3,353.9 265.6,328 145.1,357.3 136.6,354.9 76.8,410.3 326,323.5 181.4,339.1 91.9,387.3 130.6,355.8 82.6,389.6 157.5,351 112.6,380.5 208.6,363.5 93.7,361.6 326.3,286.4 214.4,327.2 291.3,325.8 141.1,380.4 294.7,314.3 126.4,386 236.7,348.9 265.3,324.9 88.6,393.7 328.5,313.2 90.9,353 160.9,361.8 226,335.8 76.1,374.4 433.7,300.5 127.4,378.2 105.8,367.7 97.2,376.9 61.7,399 138.3,369.5 234.8,345.3 81.6,380.5 427.7,299 137.7,371.8 255.4,342.6 99.3,368.4 296.3,313.8 104.5,378.6 130.1,369.6 156.4,358.6 142.6,360.5 171.5,342.5 148.7,351.7 93.9,363.3 321.1,311.1 245.9,333.4 112.3,365.1 202.6,338.1 78.6,389.9 274.4,331.8 95.3,386.5 217.8,345.9 148.8,373.4 129.2,381.1 186.8,362.2 103,358 157.3,355.4 83.3,364.1 176.4,359.2 89.2,380.2 78.9,376.4 159,345.9 105,371.4 146,376.3 315.8,318 116.6,383.8 224.3,346.3 239,331.3 144.1,341.3 207.7,378.4 65,391.4 206.9,372.4 188.3,357.7 104.5,376.8 268.9,333.2 110.5,369.6 136.5,380.6 147.7,364.3 244,324.2 120.4,384.7 78,404.9 175,366.9 160.5,384.3 175.1,346.2 206.6,353.3 112.8,385.1 229.1,341.5 349.4,311.8 192.2,354.6 166.5,373.3 84.6,393.4 148.3,379.5 305.2,295.9 268.1,304.5 76.2,369.6 93.1,370.1 116.9,377.6 73.9,381.7 95,367.4 143.5,379.8 158.4,366.8 200.7,351.5 289.9,326.5 139.3,366.1 145.5,364.1 151.5,364 114.4,373.2 188.6,354.1 154.8,361.9 191.5,338.9 98.2,375 162.9,369 150.3,358.2 227.4,338.3 164.1,369.3 289.3,321.9 139.8,360.1 95.9,378.6 180.4,388.9 186.8,365.7 175.7,367.8 104.6,370.3 155.4,374.4 73.8,376.8 258.8,351.8 215.5,337.7 124.8,382.9 109.2,372.1 109.6,383.9 158.9,357.7 162.1,363.6 328.3,322.8 325.5,299.2 259.4,346.8 212.3,354 125.1,374.7 128,370 254.5,337.3 113.8,388.5 71.7,388.1 229.6,358.6 106.4,402.1 195.7,368.6 312.6,316.8 214.1,353.5 122.4,384 289.5,321.6 193.4,364.7 134.3,367.6 127.8,382.3 93.8,374.2 70.8,369.8 150.7,385.6 179.6,359.2 200.9,368.1 64.3,396.4 133.5,373 85.8,364.1 292,304.2 112.8,372.3 65.6,384.1 160.7,367.8 315,325 84.4,368.1 324,301.1 66.7,393.8 71.4,385.1 72.7,393.8 266.4,349.5 204.5,355.6 110,393.1 125,371 132.8,390.3 179.1,363.4 198.2,357.3 333.1,323 154.2,355.6 297.9,310.4 142.9,376.6 351.5,305.5 362.8,315 183.9,359.7 89,384 101.6,376.2 219.3,345.3 114.1,386.4 117.1,368.4 104.7,383.1 95.2,385 245.2,342.5 71.8,389.3 182.8,345.3 164.5,358.9 140.3,365.3 196.1,349.9 77,376.1 101.9,373.6 208.9,352.4 122.8,372.7 65.3,403.3 179.8,369.7 164.6,367.4 187.3,364.2 184.1,344.4 74.4,376.7 189.4,379.8 338.8,304 250.6,331.5 333,312.4 120.5,373.5 102.3,382 113.5,379.5 260.5,336.2 106.8,367.2 193,335.8 70.5,388.3 248.9,331.8 74.7,363.6 213.5,351.6 322.3,314.9 196.8,349.3 85.5,398.6 157.1,370.6 133.6,375.6 200.2,353.4 201,369.1 283.2,323 218.5,351.2 199.7,352.3 147.1,359.2 215.1,345.7 107.1,361 111.8,390 162.1,378.9 156.9,379 130,364.8 111.5,395.4 148.1,351.5 120,371 281.5,312.3 152.5,363.8 107.8,373.8 237.4,334.4 151.3,361.4 238.8,345.9 124.1,391.5 134.4,365.8 128.4,361.8 68,385.5 98.5,383.1 131.6,381.6 104.3,351.4 264,347.4 66,382.6 323.3,293.1 276.1,300.6 122.2,366.2 216.4,347.5 100.6,378.3 136.9,368.9 286.1,306.7 228.5,341.7 108.1,389.4 293.9,348.6 73.8,388.7 105.6,366.1 211.1,376.9 176.1,344.6 126.2,362.8 120.4,392.4 354.4,297.2 267.6,342.9 126.4,362.2 169.7,356.2 88.9,401.6 72,383.2 106.1,358.5 276.6,327.4 149.4,401.3 98.9,375.2 147,372.3 90.2,388.1 86.1,379.7 101.1,386.3 136.3,355.8 107.6,376.7 203.5,335.9 93,380.4 255.2,351 200.5,338 125.1,383.7 73.9,363.7 95.3,377.4 125.4,372.8 174.7,356.7 89.1,392.8 156.2,368.6 174.2,358.1 101.7,371.1 335.7,333.7 232.2,348.7 243.7,351.4 221,339.5 146.7,363.3 99.2,378.8 126.8,357.1 303.6,316.6 77.3,372.4 143.2,380.1 75.6,377.8 73.5,403.6 206.9,351.6 68.8,393.7 147,373.5 233.1,342 127.6,370.9 237.7,349.9 94.2,375.1 267.2,318.9 177.3,348.6 260.4,347.5 199.6,359 281.1,329.3 180.5,368.1 122.5,369.5 86,388.8 152.3,401.8 167,341.3 123.5,377.8 71.9,384.6 136,357 183.9,338.3 278.9,329.4 320.1,306.5 77.3,366.3 186.6,339.2 193.3,332.7 72.2,381.7 145.9,372.8 173.9,370.3 65.5,403.3 286.9,312.1 274.5,336.8 86.5,367 141.3,370.9 128.5,372.4 177.4,360.3 91,375 163.4,358.9 80.1,370.2 181,367.5 82.2,398.2 96.5,377 367.8,298.5 161.4,356.7 100.4,379.4 143.7,381.6 163.7,363.6 95.6,389.8 65.2,389.8 100.9,391.7 113.6,387.7 269.8,333 120.4,383.4 176.9,354.4 166.6,368.6 66,389.7 90.1,380.1 236.7,358.6 144.9,375.2 214.9,352.6 135.6,376.6 87,377.1 203.7,345.2 89.2,407.2 117.9,371.4 189.5,350.2 288.5,342.3 113.4,375.9 394.7,300.4 114,377.1 93.5,387 250.6,326.9 156.3,370.3 108.8,363.9 164.8,344.4 188,354.7 79.1,364.9 128.1,364.3 168.5,389.9 155.5,378.4 68.4,380 81.8,383.6 96.8,385.5 240.2,365.3 87.4,374.5 147,372.4 247,340.9 156.7,355.2 112.3,381.8 64.7,391 135.1,362 229.5,324.6 216.9,348.3 140.4,352.6 153.4,356.2 160.5,368 280.7,309.7 233.2,343.5 99.6,378.2 87.7,374.2 171.7,364.4 103.6,407.5 69.3,404.7 106.4,402.8 110.4,383.4 70.6,375.8 193.4,353 106.8,377.8 155.1,372.2 234.2,341.6 188.7,349.1 193.5,348.6 191.5,348.8 160.3,373.5 242.6,334.7 182.6,347.4 177.8,343.5 84.2,393.2 430,308.8 231.3,337.4 78.5,403.9 105.3,381.9 152.1,356.6 286.4,340.7 115.8,373.5 120.8,378.3 243.2,331.2 72,411.2 183.6,368.5 153.5,361.3 243.9,336.7 68.2,369.5 242.6,316.2 193.9,370.9 65,378.7 204.7,350.3 93.7,377.4 102.8,382.4 284.4,323.7 211.5,342.3 161.3,344.7 142.4,372 65,378.7 315.7,302.6 189.3,365.3 113.5,361.6 75.9,377 142.2,377.1 219.8,354.1 263.9,339.2 163.1,357.4 229.5,348.8 221.1,345.1 169,355.2 132,375.7 222.5,334.3 83.8,379.6 109.6,380.4 296.6,303.3 244.7,355.1 173.6,371.3 282.5,331.3 81.8,367.6 122.8,384 73,383.2 163.7,355.3 213,352.1 88.8,396.1 351,293.2 189.7,350 194.1,353.3 130.5,361.4 129.8,378.3 118.3,379.1 224.4,359.6 135.4,371.4 252.6,349.4 231.6,344.2 72.1,368.9 252.3,337.7 179,367.9 275.2,333.6 74.3,371.4 96,382.2 168.1,386.2 152.4,361.9 158.2,360.4 116.6,375.5 72.7,387 144.7,366.7 134.6,364.2 248.3,335 199.1,348.6 245.4,343.5 139.4,363.5 166.1,379 151.6,369.5 108.5,368.8 78.1,393.6 134.5,367.7 229.8,338.2 71.5,393.5 220,334 270.2,329.2 205,352.2"/>
<polyline fill="none" stroke="none" marker-start="url(#mr)" marker-mid="url(#mr)" marker-end="url(#mr)" points="114.3,362.8 115.2,354 60.6,381 150.8,363.3 176.1,326.1 63.3,382.5 191.2,355.2 150.7,350.1 62,398.6 111.2,383.2 74,376.4 89.9,370.6 116.9,358.7 154.9,330.9 184.8,326 124.6,367.2 138.1,354.3 103.8,368.8 87.6,377.4 59.9,380.1 133.1,385.2 62.1,359.6 135.8,363.2 141.1,372.3 97.8,365.5 60.8,384 71.1,385.4 85.7,366.6 85.3,361.8 229.3,323.5 100.9,386.9 113,364.1 160.2,353.2 112,368.8 100.3,335.8 149.4,361.2 162.5,369.2 119.9,370.2 110.8,369.3 150.9,346.2 151.1,327.2 118.2,374 100,392.4 154.9,369.7 99.3,373.2 75.8,381.4 234.3,324.2 120.8,365.3 128.6,376.8 60.4,379.7 60.6,391.6 90.1,372.4 123.3,357.9 99.1,375.9 180,351.7 125.5,372.9 93.2,358.2 87.5,364.8 117.7,379 137.5,356.2 103.3,346.4 129.5,363.9 189,351.7 117,346.1 62,364.5 152.6,368.3 176.9,317.6 145.4,344.5 119.5,365 61.8,392.3 61.7,377.8 172.5,351.1 225.6,325.5 208.5,355.3 63.1,369.9 235.2,346.7 99.6,355.8 115.3,373.8 117.6,389.1 174.5,337 180.6,357.3 98.1,368.6 212.7,344.1 88.2,369.7 83.8,399.3 114.3,387.3 62.3,389.1 75.4,371.4 104.4,383.5 110.7,385.7 122,372.5 110.5,359.6 109.1,366.8 62.5,374.3 120.5,373.2 134.2,356.3 93.4,392.4 127.7,375.5 99.2,355.9 127.2,361.6 88.1,382.2 209.9,349.1 232.7,356.5 118.5,369.3 118.7,377.2 187.1,299.3 60.2,369.8 86.4,374.4 79,390.5 281.2,298 69.4,375.3 155.6,363 142.4,375.8 77.4,390.3 204,342.2 184,330.3 109.4,364.1 86,380.1 62.1,389.7 65.5,386.4 63.6,385.4 141.3,361.3 125.9,364.8 135.3,388.5 65,375.7 63.3,388.5 62.5,372.9 162.4,372.1 152.5,356 61.2,371.5 127.9,337.2 86.1,374.1 301.9,302.2 90.7,386.5 137.2,352.3 143.2,357.8 154.2,373.5 98.9,371.3 105.2,378.1 74.9,395.4 131.3,367.1 95.4,380.8 125.2,386.4 194,340.5 73.7,368.4 152.8,340.4 152.6,356.9 150.7,358.5 64.9,405.2 104.8,365.8 132.9,386.9 116,334.6 65.5,383.7 113.7,379.2 108.2,387.7 147.6,343.5 112.2,386.4 128,370.8 105.3,392.4 84.5,367.1 61.5,367.1 158.6,338.5 140.7,352.3 87.5,401.5 131.8,346.8 144.3,348.9 87.2,382.1 64,391 148,337.7 153.4,380.9 124,380.2 110.8,362.2 100.6,366.7 103.3,354.8 201.7,330.6 119.6,359.8 84.8,373.4 69.9,373.3 109.5,374 87.9,379 118.9,363.4 124.2,345 186.3,353.3 78.9,376.9 179.5,345.1 78,382.9 65.8,388.7 135.8,365.4 124.1,386.2 123.5,371 90.1,378.9 128.1,347 97.2,376.7 80.9,362.1 146.3,347.8 76.6,351.1 65.1,378.9 70.2,373.2 85.2,364.1 164.6,346.9 117.2,385 163,349 174.1,337.8 62.3,394.5 76.9,375.2 117,338.9 116.5,363.7 117.1,374.4 70.3,383.2 83,367.9 63.1,379.6 165.5,342 169.1,337.1 176.9,357.4 68,370.9 154.3,364.4 87.9,380.8 112.9,362.8 61.3,412.6 60.3,360 111.9,391.2 211,325.6 92.2,385.2 156.8,349.3 86,395.1 63.6,384.2 133.5,371.3 99.8,378.1 63,378.5 134.7,375.3 164.8,328.7 139.5,370.4 118.8,363.6 122.7,368.7 116.6,371.7 213.5,341.5 64,368.1 103.3,355.9 107.6,362.5 88.6,392.2 114.5,341.7 121.3,373.1 101.2,380.3 126.4,358.2 133.6,354.8 63.8,370.7 136,370.5 123.9,343.4 136,372.9 174.1,339.2 159.4,371.8 244.6,344.5 64.1,392.6 122.5,343.6 228.5,343.2 63,381.3 182.1,332.6 129.7,358.1 89.7,376.1 120.9,370.2 82.6,402.4 123.7,362.4 84.3,381.7 133.7,376.7 62.1,388.3 71.2,378.7 111,376.7 182,373.5 212,343.6 136.7,359.3 161.6,370.7 129.1,361.7 223.5,305.1 191.6,346.5 180.7,354.4 154.8,350.2 189.6,339.6 141.2,361.6 123.1,381.8 180.2,340 226.9,338.3 79.4,404.1 67.9,381.3 137.6,367.1 115,360.5 89.7,359.8 128.6,357.2 112.5,375.7 91.3,377.9 111.1,347.2 140.6,357 148.6,348.5 65.4,380.9 103.5,385.5 62.5,375.8 117.3,368.2 130.8,378.9 92.1,379.5 169,361.4 179.2,361.5 140.3,383.9 132.7,371.9 92.6,385.4 86.5,369.9 108.4,366.9 95.2,377.7 131.2,357.7 124.5,386.4 102.5,344.7 104.1,367.9 204.1,340.5 64.9,371.1 124.8,362.4 103.1,373.2 119.4,354.8 262,321.7 166.6,338 122.4,396.2 156.4,357.1 62.1,374.3 74,382.9 88.8,379.1 112.9,378.2 91.7,372.1 128.3,375.4 157.8,343.6 150.4,344.4 99.1,378.7 136.2,358.7 153.4,364 150.8,367.3 134.4,343.6 173.2,353.9 126,338.3 94.2,390.2 188.3,357.5 62.6,401.3 63.5,383.6 134.6,366.5 65.2,374.7 287.3,317.9 84.3,366.6 80.9,362.2 137.8,362.6 104.6,342.4 71.9,370.3 92.6,368 61.7,376.4 129.4,357.3 124,358.7 133.7,367.5 90.2,346.5 85.7,383.5 204.7,359 196.5,345.8 102.6,364.1 147.5,348.5 298.8,337.4 97.6,376.4 82.5,391.8 61.6,373.3 109.2,371.7 99.1,369.2 122.7,365.3 136.8,360.7 63.1,370.8 168.6,352.2 100.5,395.6 110.5,359 87.2,362.5 183.6,369.6 121.4,347.4 85.1,367.5 107.2,353.3 233.2,344.2 122.9,359.5 79.8,368.4 121.9,354.1 189.2,319.7 108.9,372.2 79.4,349.7 129.6,357.3 123.1,366.1 132.3,357.1 63.2,400.2 94.5,364.5 234.1,316.3 61.6,382 117.7,364.4 186.6,363.7 139.6,348.8 84.1,370.2 61.9,376.4 203.4,321.4 82.2,382 63.9,394.4 110.6,386.2 125,361.3 107.2,333.7 75.4,373.9 92.8,377.8 177.2,340.1 162.6,333.1 102.4,378.8 62.3,399.9 131,363.5 124.3,370.6 62.6,363.7 107.1,385 64.8,391.4 96,361.1 77.7,372.7 118.8,383.6 124.9,375.1 156.2,337.7 61.9,374.1 97.8,383 84.5,394.8 135.8,337.3 65.8,398.9 124.2,371.3 157.3,337 111.6,353 67,397.3 144.2,360.3 167.2,368.4 147,350.9 172.9,356.8 153.1,346.5 204,367.1 172.6,362.5 147.5,386.9 144.5,343.7 112.1,380 90.4,399.8 60,394 181.1,362.5 229.1,327.5 248.1,323.1 235.9,347.9 212.5,347.9 135.6,388.3 82.8,382.6 71.7,361.4 181.3,349.9 163.3,330.7 155.3,342.3 123.8,367.6 103.7,357.4 93.4,380.7 213.5,329.4 180.5,322 108.7,369.8 79.9,370.2 61.2,374.8 109.1,368.5 82.4,367.3 61.9,392.6 101.3,360.7 68,375.3 61.4,395.3 165.6,332.4 93.2,367.5 150.5,350.3 92.1,393.6 130.6,371.5 81,368.2 120.1,361.8 80.6,379 127.8,383.8 80.1,382.3 100,388.7 110.9,402.2 208.5,329.9 134,368.6 130.1,355.7 98.4,395.3 60.3,399.3 101,365.5 122.2,375.6 175.4,355.3 85,390.4 71.5,374.8 159,370.4 65.3,371.8 77.1,387 243.2,322.4 110.6,359 149.2,350.3 154.9,381 122.6,357.4 60.3,385.4 115.3,358.5 125.9,385.9 175.1,368.5 154,345.3 131.2,335.6 129.8,360.6 133.9,345.4 64.4,369.1 158.8,353.5 196.9,370 207.1,354.4 145.1,360.1 82.9,387.9 183.4,342.5 75.7,388.1 64.6,385 131,373.3 64.2,398.1 81.6,402.4 95.2,371.5 63.7,382.4 103.4,378.1 62.9,365.9 74.8,385.1 135.2,351.5 93.1,393.5 145.1,339.7 240.7,329.3 95.5,376.1 125.4,375 100.3,378.8 63.6,367.8 142.2,348.7 200.1,307.7 88,382.8 94.1,383.9 126.7,390.7 139.1,365.9 93.5,364.9 121.5,340.7 132.1,354.6 109.1,372 65.4,377.6 183.6,337.8 79.8,386.6 70.9,385.1 155.1,352.6 72.4,372.7 212.5,338 191.7,318.4 89.8,368.2 65,373.8 117.4,352.6 63.3,369.9 107.6,375.1 126.8,368.2 60.1,385.9 64.1,373.4 206.5,365.5 92.9,374.9 97.6,389.4 61.4,383.3 70.7,378.3 129.2,356.2 121.4,371.2 151.7,352.5 103.4,364.6 124.8,357.6 71,373.9 154.4,320.5 129,389.3 143.6,375.1 135.3,377.2 105,382.1 78.2,373.7 160,381.7 62.7,376.4 150.5,336.9 95.1,376.5 91.1,362.2 138.8,376.1 145.3,361.4 162.8,377.1 64.7,362.8 88.7,384.3 177.4,329.9 166.3,357.5 133,348.5 127.9,366.4 203.7,337 229.4,356.6 63.5,368.9 101.6,367 152.2,362.5 165.9,355.2 107.1,358.8 106.5,378.4 62.7,384.1 118.5,375.6 124,381.9 61.7,359.8 108,367 122.1,365 162.1,371.2 96.2,375.9 82.1,377 60.3,372.7 146,345.8 65,367.1 97.9,369.6 87,355.5 114.4,369.6 129.8,361.3 202.3,367.9 186.1,363.9 80.3,370.5 62.8,370 118.5,359 61,379.6 149.6,352.7 148.3,339.7 113,376.7 149.6,374.2 191.5,332.9 129.3,380.5 191.6,347.2 115.2,355.3 118.1,356.3 82.6,393.8 177.5,353.1 61.7,373.2 97.9,398.5 61.8,385.4 61.9,385.1 240.8,337.4 97.5,369.5 66.3,400.4 60.6,387.9 96.5,373.3 163.8,340.8 93.2,364.2 62.8,410 100.2,361.8 109.5,368.6 152.9,342.6 189.4,336.7 105.9,353.2 168.4,347.6 96.9,368.2 61.5,383.4 206.7,342.2 179.8,335.5 113.1,364 63.1,378.4 85.3,381.8 86,369.2 61.5,375.4 70.8,370.3 106.2,379.7 97.5,368.6 130,361.4 140.1,365 81.6,373.8 236.9,312.6 105.3,361.8 164.1,362.2 91.9,371.3 202.5,360.4 167.7,365.7 65.4,378.1 100.6,360.3 164.9,354.5 116,380.2 133.3,358.9 61,374.4 93.8,368 211.7,333 153.4,361.8 218.1,359.3 131.5,372.7 147.9,351 92.3,379.3 103,353.4 102.1,389 88.1,370.8 185,367.4 67.2,376.5 116.8,379.7 125.3,336.8 172.1,365.8 198.1,336.9 160,365.8 105.6,362.7 198.4,338 63.8,360.8 95.9,353.6 166.4,375.5 173.2,343.7 86.6,373.7 106,363.8 148.9,336.6 177.8,367.3 177.9,334.5 178.7,342.7 184.6,339.3 127.9,390.2 65.4,366.6 179.1,341.3 185.6,360.5 248.5,339.2 145,372.1 116.6,365 118.6,354 121.8,345.7 143.9,364.6 63.4,374.7 132.6,358.6 64.1,355.5 147.2,369.6 155.4,372.9 73.4,389.1 117.7,342.4 77.8,362 129.7,354.3 132.3,357.2 111.6,380.3 60.3,379.4 164.1,344.1 64.3,378.9 131.2,371.7 74.6,378.5 165.2,364.8 197.9,338.3 198.3,309.1 83,385.7 101.9,355.4 65.3,386.1 272,320.8 193.7,290 129.2,373.8 91.9,371.4 130.6,359.3 63,378.8 139.6,348.4 84,382.4 63.2,389.2 114.9,382.3 80.8,376 161.7,353 162.6,324.7 136.1,375.7 191.5,325.3 121.3,336.5 65.6,373.8 120.9,365 121.8,378.6 131.8,371.9 148.7,379 93.4,356.7 200.2,336.7 169.1,371.2 150.2,343.8 123.9,363.7 102.3,373.5 91,363.8 116.5,369.8 199.4,345.3 162.2,351.2 137.2,364 98.8,375.3 109.1,382.3 110.5,343.3 103,369.9 126.1,360.1 153.9,339 109.8,364.3 91.2,374 74.4,386.4 142.4,354.7 132.3,390.5 143.1,356 170.5,337.9 62.1,400.4 132,360.1 113.9,338.2 79.7,374.2 61.7,388.7 125.9,353.7 141.5,350.9 61,387.6 97.8,356.3 140.7,366.9 63.9,388.8 95.2,407.8 169.8,339.1 111.9,370.9 64.8,410.1 216.4,332 61.6,373.3 208.1,336 170.5,338.7 163.2,337.8 171.2,360.1 116.6,359.9 290.7,297.1 160.2,331.6 84,405.6 147,341.7 113.7,362.7 63.6,393 160.8,348.4 110.6,383.8 93.6,376.5 100.5,394.8 207.5,352.1 87,392.4 120.4,356 199.9,347.5 109.3,362.7 123.8,356.9 121.6,357.4 125.8,358.2 146.3,356.9 252.4,321.3 65.7,381.8 151.6,351.5 186.3,349.2 151,373.1 147.6,378.6 217.9,315.6 152.6,374.6 189,355.2 132.6,364.5 87.3,372.2 133.4,342.5 62.6,391.6 110.3,387.8 100.8,366.2 167.6,369.7 120.7,377.3 93.5,383.7 116.2,355.2 254.5,338.3 125.7,361.8 143.9,333.2 121.7,372 168.7,376.1 151,344.4 142.4,331.3 79.4,376.8 99.2,338.2 192.8,335.9 320.4,295.9 140.5,364.9 81.3,394.4 61.7,356.2 173.3,331.3 79,387.5 168.9,341.5 154.2,349.8 121.7,361.8 174.2,335.3 187.1,351 153.2,342.9 61.7,379.6 62.2,383.6 113.1,379.4 63.4,373.2 123.8,360 105.8,359.7 147.4,373.5 207.2,324.2 81.5,374.5 208.3,330.8 272.5,327.7 86.1,389.6 78.1,383.5 150.6,337.9 142.4,338.4 118.1,347.1 119.6,361.1 64.3,378.6 138.8,371.8 167.3,363.4 244.4,308.8 137.5,361.3 107.5,346.3 214.7,345.1 105.8,337.7 111.7,379 100.9,377.3 302.6,310.6 221.5,317.7 60.9,378.6 98.9,401.8 146.2,398.2 155.4,355.3 61.1,382.8 169.5,348.7 82.8,379.1 225.3,335.2 64,373.3 118.4,355.8 225.8,344.8 199.5,338.9 107.1,369 179.3,359.5 62.6,379.7 89.1,394.7 103.9,373.4 65.8,371.7 63,384.7 89.6,388.4 74.4,389.9 167.3,333.9 115.8,359.9 157.4,332 97.6,387.8 143.3,359.3 116,364.7 91.4,371.2 162.3,348.6 156.5,343.4 134.8,366 78,376.4 163.8,350.8 142.7,362.9 216.9,336 227.6,342.6 82.1,382.3 62.6,380.1 112.3,392.4 86.1,383.2 113,369.2 123.2,365.8 127.9,355.9 263.6,324.4 132.9,368.8 71.9,364.4 102.4,352.7 125.2,363.3 151.5,380.1 144.8,352.1 76.4,384.6 168.9,348.5 65.8,383.5 60.3,376.9 65,392.7 62.4,378.1 140.3,343.2 106,392.7 178.3,359.2 187.9,330.7 146.4,365.7 187.4,335.6 70.3,369.8 168.8,353.8 207.4,340.8 109.6,373.9 105.9,354.2 180.5,353.9 200.2,346.8 98.4,361.5 147.8,331.9 138.3,378.7 164.6,358.3 172.4,308.5 72.9,389.9 177.8,361.7 127.4,347.5 103.6,371.1 104.2,372.6 89.5,396.9 118.2,378.4 63.4,374.3 133.9,362.9 106,384.5 62.6,376.3 84.5,365 62.4,397.1 158.5,374.2 108.6,368.3 151.9,345 63.5,372.7 123.8,372.6 138.3,375.2 166,350.4 118.9,375.8 61.9,400.2 98,356.8 207.1,338 199.3,332.6 65.3,401.5 183.1,340.6 183,334.1 64.5,381.8 102.2,392.8 130.2,371.8 109.7,371.9 91.8,375.3 137.8,360.5 93.2,379.8 220,335.7 139.3,349.9 148.5,362.8 250.2,330.3 212.9,344 106.6,358.3 72.1,372.5 138.5,362.8 105,376.1 63.7,392.1 124.1,402.9 126.3,387.1 142.7,388.7 77.9,396.2 117.3,360.2 62.5,377.9 132,350 118.8,374.6 154.6,361 134.6,364.4 89.3,395 101.5,363 63.8,384.9 110.5,386.8 97.7,384.8 81.7,404.2 133.3,355.7 90.3,380.3 105.5,390.8 77.3,389.3 100.1,383.4 105.5,382 186.1,332.5 64.5,362.5 128.7,390.6 184.8,340.8 197.8,335 104.5,381.8 107.8,378.7 178.1,352.4 309.5,320.6 148.2,358.7 135.3,389.6 138.4,384.2 132.4,356.9 183.8,371.6 160,364.7 114.9,368.4 108.1,388.6 121.6,362 145.7,366.7 187.9,332.7 89.9,349.5 155.1,369.2 71.3,371.4 132.3,366.1 62,390.2 131.7,356.2 61.7,373.1 155,343.1 134.3,361.7 223.5,360.1 204.9,339.3 65.4,369.9 71,385.1 168.2,334.5 115.3,365.4 245.8,323.7 151.4,355.5 63,384.1 64.8,378.8 95.9,368 155.4,372.9 77.4,362.6 205.4,344.2 80.1,375.1 190.1,346.4 100.9,364.6 159.4,387.5 100.9,375.2 239,322.3 177.7,345 127.4,368.3 92,371.9 146.8,362.5 133.4,375.1 144,375.6 165.9,327.5 103.1,378.9 146.5,351.1 106.2,358.9 143.3,377.3 106,369 98.3,387.8 74.8,368.1 144.6,399 170.6,353.1 79.7,365.8 207.8,335.3 89.3,389.6 112.6,385.8 156.3,370.9 98.5,373.4 177.5,339.1 96.1,371 163.7,355 107.9,372.1 151.1,369.6 82.3,372.9 156.7,359.6 274.3,323.7 61.1,370.6 102.4,377.4 183.2,332.6 225.9,320.5 246.5,320.4 186.5,334.7 91.6,379 97.8,357.8 152,370.7 162.9,384.1 222.4,350.9 60.7,383.5 77.7,378.6 149.5,382.3 153.3,380.1 135.5,348.2 195.3,344.4 80.6,385.1 112.7,352.1 151.4,351.5 109.9,351.1 136.8,373.4 62.4,376.2 134.8,366.8 60.4,368.6 59.9,393 99.9,350.8 107.6,376.5 64.5,381.9 130.4,377.4 71.3,392 117.1,382.6 84.2,366.1 89.6,375.6 157.7,381 177.3,341.6 174.7,359.3 77.4,386.3 113.9,346.6 110.4,355.7 137.5,352.9 86.9,373.1 147.4,363.6 141.6,351.8 191.5,329.6 146.8,337.5 171.2,349.6 236.6,338.3 95.8,354.5 178.2,346.1 232.4,326.6 86.7,380.7 178.2,356.9 275,316.2 133.4,371.7 114,376.5 278.2,314.6 60.1,407.3 186,362 236.9,355.3 118.3,396.5 143.6,331.2 166.5,330.2 170.3,329.3 123.9,368.3 122.3,351.8 145.1,368.2 152,398.5 116.1,373 80.4,358.6 65.3,389.1 122.4,353.3 116.2,377.7 127.4,374.8 96.9,394.5 99.4,358.8 114.6,361.2 105,354.9 86.2,386.7 63,365.3 130.4,355.8 64,384.3 157.7,363.1 73,393.5 74,387.6 89.8,397.3 97.5,394.6 147.9,367.7 149.8,376.9 59.9,401.2 198.6,332.9 118.3,349.9 108.9,373.1 115.4,367 146.5,378.6 92.4,376.3 111.7,365.4 120,352 109.2,346.5 174,348.4 113.3,362.1 177.3,359.6 79.5,387.7 63.8,378.3 78.4,380.5 65.4,388.9 124.1,367.9 227.2,335.7 130.2,365.2 102.4,379.2 181.7,332.3 112.8,379.1 112.2,388 100.1,365.4 109.6,377.7 185.7,352.6 135.7,366.8 177.2,367.7 92.4,362.5 63.5,349.5 61.4,378.1 219.4,325.5 63.4,396.6 92.2,382.8 135.9,362.1 121,379.4 97.2,356.3 106.9,381.4 149.5,362.6 63.5,399.4 62,378.4 117.6,356.6 77.2,380.1 123.2,357.6 62.7,372.7 63.3,381 64.4,367.6 117.2,377 140.4,378.9 63.5,389.1 98,374 127.4,394.4 159.1,346 85.4,389.6 162.4,346.8 65.3,397.1 105.8,363.3 98,365.8 166.2,345.5 99.3,347.8 180.1,353.4 180,330.1 146.4,377.6 91.4,369.8 164.6,364.4 150.2,352.6 94.2,357.6 128.9,384.2 152.8,354.9 141.6,340.2 134.6,362.3 85.3,379.9 176,334.5 105.2,357 86.8,382.9 125.8,388.9 169.1,334.5 139.9,366.7 88.6,377.7 62.3,382 155.7,352.2 62.1,352.6 132.4,367 119.9,353.9 179.8,343.3 112.2,368.8 192,350.3 113,388.8 134.2,376.5 142.6,376.6 79.9,367.6 62.7,368.8 228,340.2 181.4,333.3 63,402.1 62.9,364.8 65,366.7 127,352.6 92.7,376.2 92.3,367.1 196.6,342 171.7,356.2 145.4,361.3 95,364.4 208.6,318.3 109,369.6 84.8,387.5 126.2,355.9 85.4,348.6 88.7,364.9 78.5,389.2 111.3,393.2 124.8,353.4 108.3,386.2 85.6,370.2 62.4,374.6 117.3,360 60.3,370 168.1,352.8 156.1,339.7 104.3,360.2 100.7,375.2 170.3,366.8 63.2,363.3 123.3,340.3 158.1,373 154,365.8 60.2,368.2 188,320 140.8,377 150,340.1 116.1,389.4 120.9,363.1 143.1,385.4 60.8,370.2 133.5,357.8 171.1,346.1 108.7,353.1 174,327.5 83,368.9 292.7,315.5 72.2,374.4 139.4,337.6 63.6,352.9 157.3,326.5 63.8,361.3 61.1,379.3 136.1,362.8 154.7,349.4 248.6,323.9 157.3,364.6 101.1,358.8 93.8,388.6 63.9,385.4 127.3,377.1 65.4,365.6 91.5,375.7 73.8,357 147.3,361.7 113,377.5 106.3,380.3 133.5,367.7 200.4,339.8 63.8,406.9 106.9,360.9 141.7,376.4 158,358.9 104.5,362.4 91,375.7 104.7,373.9 187.2,329 64.9,371.6 94.1,368.2 146.5,373.3 141.7,341.3 98.2,362.9 112.4,372.9 162.6,342.3 88.2,379.5 213.1,340.8 131.9,370.1 74.3,389.6 103.6,396.8 109,376.4 143,357.8 118.2,373.1 104.7,378.9 61.2,398.4 65.6,380.7 138.6,376.6 167.2,348.9 118,385.7 99.3,378.7 221,332.7 107.2,369.8 193.6,342.7 105.2,392.7 140.7,360.7 101.1,348.3 169.9,334.8 78.7,392.2 217.3,353.8 94.2,380.3 168.2,342.2 96.7,364.3 198.8,341.6 98.3,393.3 170.4,378.8 101.4,370.7 123.4,352.6 105.5,383.4 139.1,378.4 99.7,387.5 72.9,375.9 139,358.6 90.8,382.8 118.1,371.1 97.9,408 180.7,318.5 189.4,338.4 61,383.6 211.8,333.6 173.1,356.3 101,379.5 140.1,367.4 157.6,348.3 97.5,361.8 221.9,348.4 59.9,360.1 190.9,328.9 61.7,389.4 156.1,358 166.3,362.1 110.6,368.3 158.2,344.7 139.8,374.3 92.8,371.3 100.3,392.2 134.1,357 123.7,369.4 150.9,334.5 206.4,352.2 77.3,367.3 81.3,379 231,337.9 153.6,339.6 105.2,358.5 64.2,393.2 187.1,319.7 85.7,384 105.9,382.1 185.8,396 114.2,363.6 253.6,307.2 65.6,393.8 160.7,368 106.5,379.8 182,361.8 104.5,384 179.8,343.7 131,360.2 123.4,393.8 246.8,346.7 94.6,365.3 107.9,372.3 130.9,347.7 61.8,367.1 105.6,376.1 63.7,376.1 118.2,385.4 95.8,371 104.4,353 123.4,360.8 126.5,343.9 239.9,340.4 74.3,400.1 98.3,392.9 90.1,374.5 86.1,374.4 170.8,337.9 96.6,371.8 108.5,369.1 104.6,384.5 62.3,398.3 108.2,377.4 117.3,384.5 109.6,362.8 134.3,362.1 190.9,351.4 130.4,378.2 155.4,357 103.9,370.8 80.9,386.2 136.5,360.1 161.3,337.4 149.2,332.1 62.2,370.9 131.8,360.9 234.8,327.8 162.6,319.6 173.8,344.3 89.1,383.7 132.8,382.4 112.5,362.1 211.9,339.6 121,379.8 60.2,396.7 67.9,391.1 115.5,393.8 90.4,380.6 65.4,360.9 133.5,343.9 92,369.4 118,407.6 114,349.7 160.5,346 171.3,335.8 93.7,360.5 60.9,396.3 149.1,345.8 105.7,362.6 152.4,372 94.6,386 63.5,382.3 148.7,354.1 173.3,338.9 100.3,386.4 115.8,370.6 81.9,374.6 153.1,355 236.1,336.5 156.3,366.1 80.3,375.1 63.1,373.1 136.1,354.7 111.3,361.9 108.8,358.8 132,386.3 206.1,333.9 118.2,362.9 112.6,374.2 149.4,365 129,374.3 105.6,352 103.7,368.7 169.6,364.8 113.8,370.8 64.3,380.8 64,378.6 123.5,370.1 88.7,359.9 141.2,347.8 74.6,382.7 129,356.9 220.4,320.5 60.8,376.9 88.2,373.8 81.1,377 87.1,379.9 186.2,348.1 95.1,379.9 100.1,354.9 130.4,364.7 62.2,376.1 103.1,374.4 119,363.3 153.9,344.3 81.7,371.3 130,393.1 63.7,365.6 91.1,379.9 80.8,367.7 129.7,370.1 61.2,371.3 100.2,394.1 121.7,360.6 103,375.2 159.8,349 126.6,386.1 60.7,385.1 62.3,359.3 75.9,373 160.5,361.4 83.5,381 98.2,396.3 169.4,358.6 130.4,372.3 153.2,353.3 187.5,366.2 106.5,383.5 84.8,372.2 103.7,351.8 99.5,400.2 61.8,385.6 226,349.6 95.5,402.6 107.8,352.6 108.3,383.9 60.6,377.7 63.2,399.1 115,370.1 98.7,373.9 263.1,339.1 217.7,315.3 149.1,362.2 64.4,373.2 92.6,379.5 72.3,375.3 134.9,365.4 137.1,347.3 152.3,329.5 103.9,361.8 177.1,344.2 164.8,317.8 120.1,374.7 74.4,355.4 276.1,305.2 61.2,365.3 65.1,366.1 131.3,372.7 126.5,372.9 110.8,378.7 134.6,368.4 136.5,363.5 107.5,365.8 105.4,379.3 160.5,340.9 112.6,355.3 94.9,379.3 130.7,361.5 94.5,366.7 142.7,367.1 121.6,353.1 134.2,358.1 144.2,359.4 302.6,312.8 113.3,368.3 125.3,371.7 106.1,363.5 109.1,352 136.9,352.8 124.5,369.1 104,377.7 119.1,365.6 61.7,371.1 61.9,376.2 125.3,379.3 158.2,338.7 72,386.4 77.5,359.4 128.4,371.7 63.8,366.9 201.8,339.7 166.9,350.1 164.7,356.2 133.9,355.2 64.6,364.4 64.6,397.2 147.5,344.4 100.7,379.5 102.2,388.2 104.3,358.5 61.5,387.5 111.5,360.9 133,323.7 214.8,320.6 64.2,367.2 112,385.9 64.2,385.6 69.6,374.8 121.4,355.9 134,364.5 93,367.7 194.2,356.5 118.9,354.5 153.1,363.1 63.7,377.3 77.8,383.7 94.8,374.8 142.3,349.8 120.3,380.2 150.4,357.2 104.5,366.4 181.4,346.9 109.6,376.2 61.5,351.4 103.7,381.2 111.7,380.9 89.5,376.4 61.9,411 61.5,388.6 129.1,362.7 142,350.6 65.2,375.7 222,333.1 112.7,388.4 119.4,378.9 90.6,365.2 63.8,379.9 84.3,361.3 131.9,341.8 137,365.7 186.4,326.8 150.4,365.9 111.6,368.3 168.8,369.4 71.3,372.9 69.7,391.8 213.7,335.2 125.2,345.2 83.4,370.5 221.8,337.4 79.4,392.4 129.9,346.7 86.8,378.2 98.7,381.5 190.9,334.8 87.5,383.3 185.3,334.1 104.3,378.1 107,382.7 80.7,376.7 65,396.3 62.7,358.3 64.8,373.9 71.6,366.4 76.3,385.5 156.7,339 120.2,370.8 147.9,358.3 110.6,362.3 110.5,378.2 64.1,378.8 141.3,332.4 119.8,372.4 105.4,370.5 97.7,358.3 65.2,396.6 103.1,380 121.4,371.5 147.9,358.7 90.4,389.8 189.9,325.7 85,365.9 72.5,382.2 83.8,360.8 205.4,339.4 72.4,384.4 102.8,379.8 116,371.7 64.3,392.1 259.8,331.4 96,370 183.7,319.8 265.3,337.3 146.1,360.7 136.7,369.1 109.9,357.9 148.8,353.7 109.1,349.5 113,352.8 127.3,353.4 194.5,333.7 166,345.9 159.7,377.8 119.2,374.7 166.4,338.5 141.7,363.5 97.8,379.8 131.9,351.5 232.1,325.9 85.2,387.6 98.7,390.1 70.7,404.5 120.3,379.8 62.6,401.5 83.8,377.9 98.9,359.8 132.7,369.8 71.7,378.7 131.8,371.8 107.4,363.5 83.2,382.4 335,293.2 63,388.9 146.5,353.2 105.8,378.2 141.7,372.2 104.8,367.3 98.7,365.1 93,395.9 62,372.4 122.7,371.6 86.3,384.1 241.7,316.7 106.3,371.6 60.4,376.8 246.8,331.1 103.2,374.7 85.6,400.3 128.6,367.7 102.9,392.6 105.8,380.1 104.8,360.6 87.7,379.8 159.4,355.6 189.8,352.6 92.4,371.1 112.1,375 113.7,384.7 122.8,359.7 96.2,375.3 150.2,338.1 98.5,367.7 186.8,335.9 62,380.5 199.1,328.9 97.3,366.1 93.6,361.3 61,368.1 130.7,382.1 75.1,381.5 167.4,336.6 113.1,354.8 135.1,351.1 85.3,378.3 81,386.3 105.2,363.3 120.9,371.1 197.3,357.5 97.7,377.9 136.9,352.3 61.9,390.7 174.2,356.6 99.3,361.9 133.2,379.3 183.7,349.7 237.9,332.3 91.4,356.1 121.6,356.8 125.7,341.7 147.2,374.9 86.9,386.2 90.7,392.1 94.5,391.4 63.3,376.8 116,384.1 130.2,371.8 277.9,327.4 237.7,330.5 109.4,381.9 155.2,358.7 86,369.7 101.7,391.2 128.5,369.1 142,346.3 73.8,397.3 173.7,370.8 63.5,396.6 59.9,380.8 174.7,343.6 147.8,361.8 64.4,371.1 170.3,355.7 172.9,348.3 155.1,348.5 148.5,355 94.2,386.3 63.5,375.4 188.2,343.6 93.4,360.7 132.7,366.1 157.6,386.6 96.2,383.1 61.8,386.7 137.9,367.1 104.1,370.5 69.1,381.4 210.7,339.7 173.6,340.1 61.1,378.5 97.3,363.3 194.9,347.5 222.7,349.7 127.2,367.1 130.8,371.1 159.2,337.8 90.3,372.1 89.5,377.4 168.6,364.5 110.2,371.6 84,358.2 61.5,391.5 224.5,336.2 114.7,364.2 63.6,380.1 131.9,353.2 130.3,387.9 117.4,360.8 65.5,387.1 68,394.7 126.1,350.7 156.2,346 64.1,367.3 150.7,354.7 130.2,347 120.9,383.1 70.3,358.1 90.4,374.1 104.2,370.3 129,371.7 87.9,373 96.2,373 67.8,384.5 237.7,317.1 131.8,368.3 65.1,361 142.5,363.3 117.2,398.2 84.6,376 252.7,340.8 174.8,359.1 124.5,381.9 141.7,361 121.8,368.9 138.1,353.4 142.2,343.3 87.9,373.4 99.7,370.3 141.9,354.8 110.5,365.6 114.6,371.4 107.9,378.2 232.2,313.5 124.8,360.5 139.5,368 74.1,383.8 116.2,354.8 208.4,329.2 119.7,367.4 80.4,370.1 120.9,367 124.9,388.6 128.5,370.5 148.6,343.6 170.5,344 137.5,357.6 131.1,371.7 115.5,362.3 85,377.7 150.9,367.6 140.4,346.2 147,348.8 152.1,346 96,375.5 122.7,373.8 148.3,368.3 123,357.5 110.8,372.6 140.6,346.7 104.3,363.1 128.7,350.6 102.3,385.2 111.4,348.5 156.7,338.6 97.6,374.2 135.4,375.3 141.3,365.5 171.6,344.7 267,307 142.6,358.9 315.7,300.6 102.1,395.6 86.7,408.7 208.9,362.1 166.9,353.4 130,352.9 76.5,399.5 131.7,365.3 90.1,400.1 133,332.1 138.4,351.6 143.1,358 108.9,367.4 116.7,362 137.4,354.3 94.2,386.1 101.5,377.3 138.1,391.4 90.5,384 78.4,374.2 144.7,365 155.5,369.5 218.2,343.8 149,344.7 263.8,327.3 64,368.4 140.6,361.2 147.2,357.3 195.7,362.4 110.5,385.4 62.6,398.9 177.8,313.6 156.2,339.3 162.6,378.6 105.9,378.2 196.1,348.7 65.2,371.4 73.6,376 149.4,347.9 173.6,365.9 99.3,381.5 85.6,345.6 97,389 110.6,365.8 62.6,367.1 61.2,365.9 60.9,372.8 62.4,382.4 149.9,342.3 77,373.6 183.3,339.5 206.9,345.1 198.2,349.1 113,370.8 112.6,367.4 154.2,365.7 144.5,362.3 129.7,369.3 84.5,368.5 121.9,359.9 158.9,365.7 60.6,394.4 99.5,357.6 181.3,356.4 62,372.5 95.7,393.1 62.9,382 98.1,374.4 95.2,360.5 64.2,385.5 99.4,368.2 79.4,354.9 106.4,383.9 104.1,351.8 166.3,359.4 118.1,388.7 118.6,372 99.3,383.2 187.6,348.6 144.6,374.5 292.3,305.2 156.3,362.1 162,358.9 152.2,357.3 104.8,349.7 150.2,322.6 172.8,337.5 136.6,380.8 61.4,394.8 93.1,356.7 63.8,361.9 103.1,367.7 84.9,372.4 190.9,359.2 78.4,370.6 101.5,377.2 189.4,368 87.3,366.5 87.6,378.5 62.1,382.3 226.6,343.6 96.2,376.2 168.3,346.7 68.4,378.6 142.6,340.4 62.8,376.5 124.8,385.6 85.9,383.5 108.2,364.7 113.7,361.6 62.4,385.5 141.5,361.2 189.9,344.2 112.9,371.4 89.9,392 139.7,369.5 71.7,351.1 271.7,315.9 132.1,361.7 173.5,355.4 84,390.2 88.8,384.1 64.6,398.1 137.9,360.3 211.5,358.5 112,368.5 62.8,374.4 65,364.7 119.1,367.2 108.9,370.6 154.5,365.4 200.5,348.3 147.3,365.7 219.5,342.5 108,361.1 197.9,342.7 87,389 223.4,329.6 178.3,359.2 277.7,304.8 214.8,354.5 118,351.8 74.7,361.2 86.1,380.7 201.4,347.1 201.6,325.6 136.5,381.6 82.7,385 157.8,355.8 107.5,388.1 118.4,345.6 130,369.9 177.8,344.8 229.2,311.5 76.8,395.9 132.4,384.9 113.3,368 115.1,361.8 156.2,341 183.9,369.6 62.5,378.1 86.9,388.3 100.5,363 128.4,368.3 153.1,387 128.5,383.3 214.9,327.6 64.8,375.4 67.4,361.1 106.8,372.7 79.5,396.3 246.6,341.7 73.5,386.1 181,346.8 112.5,355.3 109.4,388.7 185.3,373.5 102.9,367.9 98.8,369.5 91.3,379.6 66.3,383.5 60.7,365.5 118.2,346.9 93.9,399.5 144.8,337.4 113.2,351.9 118.4,359 62.8,376 100.1,367.3 232.9,342.3 92.3,362.7 150.6,362.2 87.4,354.4 193.1,348.5 89,357.1 81.5,379.9 102.4,362.4 115.2,370.1 89.8,383.7 158.7,340.4 81,375.5 91.9,380.9 104.3,371.1 234.7,308.7 84.9,381.6 214.6,338.4 106.3,373.1 115.8,348.9 137.6,333.8 110.1,363.2 152.2,343.2 187.2,340.7 122.2,375.6 146.3,342.6 89.1,393.7 104.3,372.3 158,368.8 110.2,385.4 67.9,390.7 120.7,366.6 154.9,358.6 60.1,371.4 91.4,379.9 143.8,358.9 125.9,363.8 79.3,381.1 62.6,388 132.5,371.9 152.4,366.8 192.5,338.6 110.4,369.3 116.8,378.1 98.9,397.1 132.1,352.4 168.9,358.9 61.1,391.6 144.6,347.4 130.4,358 131.5,385.3 97.7,361.9 109.8,363.1 117.5,352.2 182.3,332.3 61.8,373.1 124.9,364.6 158.7,351.3 145.1,357.8 68.8,397 62.2,398.3 152.2,339.2 206,351.4 61.7,382.4 86.3,389.1 140.8,360.9 103.1,353.9 101.9,383.9 124.8,344.4 134.2,366.7 153.4,338.3 223.9,312.6 98.9,367.5 164,355.5 96.9,365.2 65.1,359.4 92.6,385.8 134.2,375.8 119.4,386.1 192.5,346.1 167.3,361.3 63.7,383.5 114,388.9 108.4,400 126.6,364.8 74.2,353.5 105.5,359.1 206.5,339.7 82.7,354 110.3,364 193,328.4 97,398.7 240.8,325.1 197.5,352.4 236.5,347.7 64,379.2 121.2,353.2 99.4,350.1 156.7,351.4 94,377.1 62.5,375.6 155.7,343.2 89.2,375.7 112.7,377.6 243.5,321.3 105.5,351.1 179.3,348.9 153.4,347.8 79.1,371.3 167.9,348.8 147.2,352.6 141.1,369.6 119,361.3 115.9,382.3 173.6,345.8 62.2,351.2 60.6,377.7 106,383.8 94.6,375.3 153,364.1 132.6,373.5 158.9,350.2 232.4,337.1 101.9,380 111.7,394.2 127.1,355 178.5,352.8 201.2,379.3 137.9,347.7 65.3,371.2 87.7,370.4 144.3,389.1 113,400.3 126.3,380.1 63.6,401.6 113.9,377.8 307.9,319.8 95.8,355.1 107.8,391 147.1,354.4 101.9,362.2 100.9,378.7 69.3,379.3 75.9,375.1 92.3,383.6 155.9,351.2 177.2,332.6 60.6,382.2 73.6,398.4 93.6,351.2 99.1,371.2 133.6,368.1 157.5,348.4 104.4,346.1 97.6,352.6 167.7,364.1 93.9,372.3 146.7,346.3 92.1,372 241.1,333.4 63.3,389.6 127,382.6 108.3,383.3 131.4,371.6 187.1,337.4 117.7,391.4 63.4,362 113.2,368.9 195.5,348.5 65.5,389.7 187.6,348.9 106.9,400.7 229.5,326.6 184.2,371.7 178,354.1 132.1,356.4 63,361.1 119.4,387.4 62.1,393 114,383.7 140.3,369.6 88.5,365.7 74.5,359.2 144.5,349.3 62.1,367.9 206.2,328.9 180.7,343.7 101.1,358.7 92.6,387.1 114.1,370.1 65.2,391.6 156.1,368 110,364.8 92.8,360.5 153.9,342.5 62.9,377.3 94.9,387.4 73.6,395 60.9,372.4 156,343.3 132.7,373.2 172.9,353.6 77.3,340.2 132.8,351.5 142.4,373.2 169.8,349.1 104.4,358.3 199.1,356.5 119.2,362.1 60.7,357.4 60.2,381.4 91.9,364.3 71.1,399.9 80,380.1 138.4,374 130.8,328.7 272.8,309.8 146.3,354.3 119.3,349.5 210.5,344.2 146.3,356.1 64.8,383.6 77.9,378.5 146.4,358.7 183.5,355.1 196.6,338.2 111,359.1 137.5,364 209.8,320.2 146.8,347.4 61.3,384.3 81.3,365.6 92.8,386.7 131.7,365.3 218.3,354.1 149,342.5 119,354.1 135.3,372.3 90.1,382.8 285.4,317.7 101.8,376.8 174.8,361.4 62.4,372.6 64,362.5 80.6,370.7 92.5,380.4 197.9,323.1 118,376.9 86.1,388.8 65.5,382.3 104.5,359 80.1,375.4 105.9,343.6 174.1,374.2 62.8,378 235.7,334 102.5,355 86,371.1 65.7,374.6 209.8,339.2 144.2,358.1 80.8,373.1 237.4,340.2 140.6,371.2 78.2,367.8 187.7,346.8 77.4,384.9 62.2,385.7 103.7,373.4 63.9,403.6 165.8,365.9 61.9,380.4 102.7,385.1 260.1,337.6 73.7,414.1 138.5,364.6 137.8,340.6 124.7,372.2 150.3,358.9 90.7,367.7 182.1,361 159.7,352.9 101.8,394 104,386.6 114.3,375.3 135.3,366.4 108.6,382.3 103.2,346.3 162.6,349.7 193.6,338.9 87.5,388.8 115.6,356.6 120.4,352 195.2,355.5 109.6,353.9 143.2,374.2 121.5,369.2 178,359.4 61.6,369.1 129.9,379 194.2,344.7 112,358.5 61.3,373.6 163.6,379.3 242.8,314.7 250.6,344.3 86.5,378.4 64.6,381.4 170.1,348.4 152,370.5 93.6,374.7 144.4,334.1 89.1,382.1 129.1,353.1 90.2,361.6 61.6,396.9 126.5,381 94.6,351.9 62.5,389.5 115.4,350.5 103.8,376.7 74.5,379.4 220.5,311.5 223.3,351.1 135.5,364.9 246,343.1 117.3,374.4 64.3,369.9 241.8,314.9 61.5,401.6 139.1,351.4 123.5,368.8 144.7,342.1 97.1,383.6 91.1,388.6 108.6,379.6 180.7,376.4 157.6,350.8 117.1,353.3 105.4,376.2 150,360.5 314.3,276.3 110.5,383.8 132.5,388.8 139.9,343.6 127.1,359.3 91.9,356.5 174.7,331.9 96.6,353.6 110.9,364.9 88.6,364.5 64.3,366.1 82.8,375.3 153.2,354.1 65.6,357.3 162.4,341 109.6,355.9 201.8,339.7 92.5,380.5 123.9,360.1 60.3,375.8 105.3,382.1 61.9,389.3 63.2,384.7 106.1,363.9 139.2,382.2 130.9,374.2 172.8,343.2 115.7,336.3 108.2,368.4 141.8,359.7 140,349.6 81.2,356.7 85,378.8 236.1,305.3 65.5,378.2 67.6,381.1 96.1,377.5 146.6,367.6 133.1,359.6 191.5,330.8 62.4,367.7 63.8,388.7 114.1,385.3 146.7,336.9 121.8,349.3 115.6,349.2 78.3,364.5 96.6,376.1 117.7,371.3 61.2,393.4 64.7,391.3 146.3,351.9 61.6,375.4 103,381.6 142.8,381.5 147.1,347.8 117.5,357.7 92.6,392.9 124,379.7 112.2,364.9 139.8,357.7 143.6,363.2 155.2,359.4 151.6,345.3 149.8,351.5 79.4,386.2 60.4,372.1 104,355.3 140.4,365 125.9,335.9 111.1,380 130.5,345.4 96.8,368.6 65.3,374 105.7,371 229.7,314.3 128.8,394.7 65.8,385.8 78.6,363.3 84.6,374.4 77.1,393.6 103.5,376.9 236.9,309.5 145.9,352.9 98.1,363.8 124.4,347.3 146.4,350.4 162.7,339.9 138.2,365 144.8,361.8 113.2,359.6 141,357.3 161.3,335.5 151.6,350.3 77.4,381.9 93.2,377 170.1,356.3 126.9,365.8 62.4,359.8 93.2,372.6 113.2,387.2 136.1,352.8 196.5,324.3 89.9,373.6 98.4,382.5 79.4,391.4 139.3,369.2 213.7,340.4 197,324.3 94.2,378.1 60.3,391.5 62.9,381.2 61.6,378 152,344 126.1,342.3 102.6,379.3 94.4,377.7 150.6,348.2 160.8,361.9 118.5,376.7 103.2,391.1 72.8,376.4 97.2,381.2 204.2,333.8 63.4,381.1 125.6,366.8 100.3,372 113.1,354.8 174.8,330.7 244.2,349.7 75.9,395.6 105.1,388.9 159.8,351.2 160.9,344.5 158.8,358.1 85.1,377.9 120.9,366 135.5,364.8 101,364.8 98.9,378 89.2,359.1 63.9,397.2 64.8,372.7 102.8,371.2 198.6,351.4 136.6,341.6 76.1,360.9 181.2,348.7 158.8,353 135.6,346.5 231.9,319.6 111,359.4 91.5,363.9 217.3,306.2 124.9,362.2 359.5,292.6 66,380.9 62.9,402.7 122.9,388.9 150.6,363.1 84.1,373.1 84.1,362.3 90.1,375.4 88,389.3 164.2,387.8 124.2,376.7 136.6,383.3 201.7,343.7 104.3,374.6 185,338.4 123.8,351.2 137.7,354.5 130.8,367.2 94.3,373.5 134.5,367.6 125.3,357.8 65,394 147.6,351.8 108.1,382.8 85.7,369.5 224.6,322.7 96.4,369.7 136.8,356.9 91.6,369.2 143.8,384.9 209.3,353.3 116.8,357.2 215.1,318.1 61.6,389.5 116,384.5 79.8,363.1 62.2,394.5 90,384.4 63.9,382.1 119.9,346.6 109.2,363.2 187.3,337.8 65.3,365.4 104.3,372.8 69.8,366 121.3,386.4 99.2,359.3 78.9,381.4 64.7,393.5 99.7,348.6 279.4,300.8 90.5,382 84.4,389.5 162,360.5 60,379.7 122.3,359.7 125.6,372.8 94.8,366.3 178.8,347.5 186.4,335.1 59.9,377.6 126.2,363.1 84,366.4 133.8,355.7 126.8,348.6 181.7,347.8 264,319.6 64,379.4 96,393.8 183,339.8 111.8,371.8 223.2,333.2 137.7,388.3 137.5,352.7 222.8,329.8 128.9,378.6 121.7,366.1 122.7,364.7 65.4,383 164.8,356.9 61.2,397.6 102,386.4 108,402.4 61.9,383.7 209,337.7 65.7,381.9 215.7,356.9 101.3,358.6 97.1,386.1 180.4,318.8 65.2,379.7 100.7,369.3 123.6,365.8 124.7,360.1 158.6,329.1 134.3,379.4 130.9,385.7 90.4,371.3 87.5,387 64.8,379.3 126.3,378.7 194,344 172.4,348.7 103.7,376.7 60.5,396.2 89.7,391.7 159.4,377.1 195.3,356.8 141.2,365.3 131.1,356.9 141.7,334 90.6,379.2 103.5,389.3 80,383 60.6,394.5 99,362.4 83.7,372.3 60.8,363.8 64.4,382 192.6,344.3 135.5,355.3 169.2,342.7 219.5,303.7 105.6,341.9 61.8,382.7 130,354.4 65.7,376.9 80.6,400.3 196.7,340.6 147.9,355.2 162.2,357.5 124.6,383.3 138.4,341.8 159.3,332.6 125.3,340.1 143.2,343.3 195.6,330.4 80.9,381.4 150.1,386.1 89.4,382.9 107.5,399.1 131.3,360.8 94.5,368.8 180.9,346.9 83.5,399.5 90.7,362.9 93.1,379 191.1,328.8 116,360.2 60.6,395.9 88.8,378.7 121.1,365 72.6,381.4 239.2,325 62.5,376.2 98.3,393.8 126.1,364.9 105.5,365.1 112.6,385.6 111.5,388 153.2,352.5 179,336.7 152.3,363.6 105.8,380.7 77.1,383.6 156.4,344 135.1,362.8 89.9,380.6 129.9,387.7 72.6,355.1 120.4,346.5 126.3,373.7 153.3,360.4 114.4,350.2 207.5,329.8 144.1,374.9 63.7,386.9 61.5,387.3 95.6,364.7 213.7,336.9 130.4,361.3 60.9,371.3 157.8,370.3 118.4,386.2 119.9,374.8 65.6,385.6 104.8,359.8 69.7,376.8 127.9,356 170.1,355 152,336.4 120.2,401.7 94.8,374.2 276.7,310.7 107.6,380.2 74.1,364.8 147.7,364.3 61.9,374.8 76,384.3 92.5,369.1 171.2,339.8 97.2,371.9 61.1,383.4 93.6,367.3 74.5,396.7 70.9,370.4 153.8,354.3 128.2,367.9 93.2,361.7 146.8,344 168.1,369.4 84,379.3 194.5,349 98,367.6 92.9,375.1 234.4,343 98.9,390.4 113.9,381.6 173,347.3 115.1,382.4 126.5,380.7 99.6,381.8 119.8,390.9 65,388.7 158,329.9 125.7,370.4 116.8,369 63.4,380.1 104.2,360.9 126,346.8 155.1,345.3 190.2,339.7 187.4,345.4 179.8,332.1 64.1,372.3 62.8,377.4 75.1,386.7 118.9,362.3 117.6,394.7 63.6,385.8 81.6,389 80.9,388.5 85.2,382 135.2,375 165.6,368 181.2,363.8 96,390.6 217.3,336.6 198,335.4 131.9,360.5"/>
<polyline fill="none" stroke="none" marker-start="url(#mp)" marker-mid="url(#mp)" marker-end="url(#mp)" points="120,340.5 199,306.4 88.9,364.2 108.3,379.8 74.2,378.3 85.3,369.3 69.4,360.3 84.8,380 63.4,376.8 141.5,379.7 135,350.5 199.4,329.9 81.9,368.8 232.6,342 64.7,383.4 175.2,324.6 113.7,358.9 60.1,386.8 104.5,343.6 151.8,352.2 84.8,357.5 140.5,341.2 205.5,313.9 76.6,384.1 81.6,369.5 114.6,387.4 100.1,355.9 67.4,379.4 131.4,335.8 95,358 153.6,338.6 99,363.7 231,310.3 111.3,367.6 65,363.9 65,380.4 101,389.5 105.2,376.6 100.6,363 72.1,387.7 91.5,360.3 194.3,329.3 159.2,357.5 64.2,371.7 169.1,326.5 112.8,346 192.7,327.2 66.2,371 149.1,340.8 69,370.8 206.7,352.9 281.6,291.5 72.5,372.1 210.6,357.5 82,372.2 113.8,371.6 110.5,360.1 63.3,376.9 145.5,329.7 263.1,298.5 79.4,374 63,359.2 185.5,352.7 84.3,367.5 171.1,339.3 91.8,372.4 74.6,373.5 75.9,370.3 178.2,348.5 79.9,379 131.5,364.7 68,383.4 168.3,377.9 153.5,356.7 123.6,369 101.1,360.2 175.7,353 119.8,379.7 85.1,376.7 100.1,346.3 159.8,339.2 142.8,371.5 94.9,362.4 151.1,329.1 96.3,368.1 133,361.1 64.3,394.6 120.4,365.4 99,356.1 241.2,306.8 157.4,348.8 167.5,349.5 120.2,378.3 95.5,375.4 74.9,381.7 112.9,371.1 138.7,356.9 176.5,324.8 64.6,389.4 76.9,366.1 65.3,379.7 160.3,339.4 66.9,367.9 163.4,352.8 174.6,334.3 107.4,375.7 82.5,391.2 67.3,372.8 124.4,366.5 91.6,381.1 63.1,373.1 70.6,361 213,328.6 92.6,375.3 66,384.1 106.8,366.6 77.5,389 190.9,322.2 75.6,364.2 78.3,381 81.5,384.5 89,382 153.4,358.4 60.1,381.4 80.5,355 86.8,375.3 157.9,353.7 165.5,316.4 66.9,374.9 76,387.4 200.2,337.7 107.9,349.1 107.3,353.6 81.9,383.4 93.9,345 63.6,383.9 131,342.1 71.4,387.3 137.4,345.7 84.8,363.5 86.1,359.1 160.4,341.4 75.3,380 168.6,354.1 63.9,383.4 77.9,370.5 149.7,342 118.6,359.6 183.6,331.7 90.9,369.5 288.4,320.1 67.2,372.1 112.6,350.1 64.9,371.9 106,358.5 172,336.5 214,325.5 64,400.3 135.5,357.6 171.3,327.5 81.5,376.4 73,395.9 69.5,387.4 138.4,347.4 162.1,337.9 122.4,374.7 109.9,384.9 177.7,333.5 105.7,382.7 332.2,289.1 111.9,367 79.7,370.2 63,353.2 176.6,323.2 106.1,364.3 87.1,372.3 76.6,370.5 133.9,349.2 152.4,360.2 76.6,363.2 72.1,375.1 126.6,353.7 129.7,341.1 80.7,378 224.8,307.5 78.8,370.5 164.9,330 77.5,375.9 270.8,318.4 66.8,355.7 172.9,336.2 136.2,359.6 157.9,345.2 98.1,363.1 119.5,345.3 91.5,366.6 68.7,377.5 64.3,394.8 127.1,374.1 100.6,366.1 154,372.3 68.5,376.6 194.7,350.6 63,382.1 78.7,372.8 150.2,349.8 127.2,363.2 217.1,344.9 96,382.4 77.5,368.7 152.6,324.8 71.4,382.8 74.8,381.9 110.1,360.1 65.6,390.8 67.3,373.6 160.3,356.3 169,351.4 173.5,326.6 160.1,354.2 65.3,383.4 91.8,383.3 149,353.7 155.7,336.8 79.1,375.4 77.4,394.3 73.2,361.2 151.4,361.9 119.9,353.5 85.7,372.3 140.4,358.2 92.1,363.5 139.5,353.7 152.2,331.5 114.9,357.4 195.2,345.9 109.3,366.7 101.5,368.4 79.5,365.4 98.6,384.1 133.1,334.1 74.8,369.8 90.3,367.1 63.7,384.2 64.7,368.9 67.7,353.6 96.8,365.2 124.8,365.4 123.6,376.9 70.4,394.5 159.1,332.6 68.3,377.4 121,353 153.8,344.8 70.3,370.7 66.6,370.7 88.9,369.3 94.7,361.6 79.2,385.8 65.9,368.3 69.9,397.4 110.7,361.1 73.6,370.2 69.1,374.5 74.8,369.7 76.9,388.7 240.6,332.3 64.3,370.8 148.4,359 130.5,392 117,352 68.7,368.1 80.3,366.7 325.9,298.9 122.2,349.1 72.8,360.2 175.9,334.5 115.6,351.7 98.2,349.3 111.1,376.1 170.4,328.8 82.6,368.7 155.2,349.9 138.3,353.7 243.4,321.8 206.1,336 149.8,368.6 270,346 142.2,336.4 80.5,370.2 194.4,339.5 219.9,368 144.2,340.9 199.8,331.2 95.3,364.6 221.3,339.4 82.1,359.9 75.5,389.6 67.8,368.5 79.1,365.1 111.6,382.9 81,378.1 74.4,386.5 98.8,367.7 121.3,356.7 90.8,376.8 77.6,375 68.3,379.6 174.6,351.5 95.6,366.3 88.4,359.9 119,364.3 101.5,344.9 87.5,370.9 138.7,348.1 168.8,322.1 98.9,367.4 141.4,347.3 73.6,373.6 155,329.9 131.8,366.4 112.3,374.3 71.6,379.3 111.7,357.8 97.1,364.5 127.9,349.2 63.9,367 98,363.5 173.2,315.9 106.5,349.4 187.6,341.7 204.5,310.4 110.7,383.7 66.6,373.8 133.8,356.3 164.5,354.4 102.4,373.7 74.7,364.8 81.7,362.3 117.3,384 76.1,370 79.1,363.4 126.6,381.8 71.5,379.7 76.2,374.8 72,385.6 211.8,336.6 116,370.8 79.4,374.8 97.5,370.2 102.4,352.4 74.1,377.8 155.9,328.5 63.1,384.7 78.9,379.7 98.5,373.8 81.7,372.9 133.4,379.6 100,363.2 80.3,384.6 63.7,366.6 136,393.6 86.9,365.3 174.9,329.4 116.2,346.9 121.7,360.7 78.3,386 131.9,360.4 225.4,304.9 82.8,383 164,339.7 190.9,312.2 160,344.3 195.4,354.7 97.2,333.1 106.1,357.9 133.9,366.2 89.1,381 117.1,364 281.4,305.5 363.1,289 87.6,347.5 65.8,379.7 96.5,370.2 76.4,370.9 97,372.9 123.1,359.3 201.8,337.4 66.4,374.2 120.3,336 104.9,361.7 128.1,321.8 72.3,371.4 79.2,374.4 62,382.1 214.1,352 250.1,315.8 74.2,378.4 148.3,355.6 80.3,377.2 111.8,373.3 159.2,357.3 69,386.1 98.5,377.3 158.2,356.5 76,382.5 115.4,357.6 153.8,350.2 141.7,364.6 69,384.1 87.6,377.8 79,384 77.5,354.3 74.4,363.7 112,366.7 77.1,381.6 180.3,343.4 117.5,350.9 131.3,341.2 103.4,373.8 63.1,393 178.9,327.4 129.6,355.1 150.4,354.7 148.9,348.9 94.3,362.9 69.1,359.9 81.9,379.3 66.3,382.8 104.3,368 100.2,363.1 76.2,382.8 76.2,378.6 70.9,376.5 133.3,375.8 81.6,377 127.8,349.3 146.4,355.2 80.8,381.3 79.7,356.5 82.4,364.7 68.4,377.4 65.5,369.2 80.8,367.4 170.7,351.2 68.6,385.8 261,319.5 175.7,357.4 205,357 241.1,336.9 76.8,359.6 103.7,367.8 199.3,324.7 96.4,371.7 74,392.6 64.9,388.4 169.5,345.9 161.9,343.2 70.9,380.9 89.3,378.3 80.4,390.4 75.9,385.8 94.8,378 86.8,378.3 91.8,381.4 100,347.5 244.4,306.3 159.9,341.8 81.6,377.5 66.7,374.7 111.9,353.5 190.1,342.5 76.6,367.6 109.6,354.9 97.5,376.6 100.1,359 114,370.5 112.6,365.9 79.8,371 142,363 157.1,382.6 184.1,366.6 135.2,338 134,345.7 116.9,368.8 70.7,390.2 91.9,386.4 168,331.8 83.9,383.7 209.8,293.9 175.5,325.8 107,358.3 122.9,357.6 79.8,370.6 86.7,371.3 136.1,361.2 158.3,348.2 78.4,361 109.1,352.5 113.9,356.8 162.5,365 102,361.2 63.4,373 67.7,364.5 141.7,386.6 87.9,383.8 65.9,377.8 78.8,386.6 81.5,362.9 157,360.9 149.3,364.2 88.2,381.2 67.9,372.1 89.8,357.2 198,327.3 185.8,366.6 68.1,386.3 104,366.3 96.4,353.8 147,335.8 113.5,353.6 63.5,383.4 74.5,351.6 76.9,369.2 180.5,350.1 265.1,298.8 152.3,329.1 174,336.6 80.4,375.1 98,382 183.3,332.5 81.8,358.9 84.9,377 93.9,372.9 141,367.3 105.9,349.6 219.6,338.9 83.3,384.5 67.9,378.7 82.9,376.9 186.5,353.8 111.1,352.1 139.4,373.7 107.8,402.5 119.1,351.2 77.4,394.2 96.6,370.3 63,400.6 81.5,375 140.7,341.3 158.9,336.7 195,292.1 95.5,361 201.4,335.7 291.2,302.1 68.4,368.2 177,361 89.4,369.7 92.6,364.6 63.7,406.7 73.7,372.4 81.7,378.6 298.3,273.8 87.1,371 64.2,379.9 67.2,361.6 111.1,380.7 81.9,388 152.6,342.2 90.4,368.2 127.2,368.7 107.4,360.2 66.2,378.9 92.4,375.2 161.9,353.3 69.1,375.3 142.1,354.4 93.9,353.8 76.9,370.3 70.8,363.7 91.2,382.2 133.9,344.9 76.3,390 73.3,373.4 208.3,326.1 182,341.3 207,330.9 90.6,368.8 68.9,373.9 84.5,374.6 65,383.4 243.2,306.4 147.3,355.1 78.2,375.3 129.9,355.4 79.6,385.9 141.6,364.1 80.5,374.4 79,364.6 76.4,373.5 75.4,361.6 216.6,311 120.9,371.5 78.5,388.5 81.9,353 140.6,321 100.6,362.2 123.5,354.2 125.5,351.1 108.8,360.2 76.4,376.5 154,344.7 155.8,348.5 168.2,347.5 109.6,369.1 207.3,324.6 72,389.3 123.4,334.8 133.8,342.7 81.4,390.2 262.7,322.7 87.4,375.1 98.1,371.8 93.4,377.6 77.5,390.9 81.9,376.8 70.6,366.9 75.3,366.8 79.1,374.9 84.8,371 192.2,331.8 76,378.3 64,386.5 88.4,354.9 260.6,310.8 64.8,371.3 102.6,350.9 115.6,352.1 94.1,355.2 199.1,335.6 123.3,343.4 89.9,375.9 126.9,371.4 140,348.8 69.7,372.6 220.4,332.1 77.1,381.4 69.2,370.7 77.3,364.8 74.6,374 82.4,386.2 149.8,354.5 67.9,381.5 139.8,352.7 75.6,375.7 76.6,373.3 77.5,367.6 188,334.2 111.8,362.3 126.5,356.4 67.7,384 110.3,369.8 151.6,335.4 115.5,359 93.6,355.3 122.9,354.9 76.8,377.5 185.5,370.1 135.7,357.8 188.8,337.5 157.2,356.9 141.5,351.1 103.2,368.3 80.3,371.1 142.8,362.2 159.7,365.8 287.7,308.7 173.2,366.1 104.3,379.2 71.1,383.2 121.8,354.8 120.5,372.8 78.2,369.8 107.2,377.6 77.4,380.2 143.2,375.9 146.1,325.7 141,351.6 114.6,380.2 173,364.4 72.7,369.7 73.3,376.2 189.4,332.3 146.7,339 111.1,365.2 73.9,377.2 129.2,361.6 71,375.1 234.3,317.3 187.9,331.9 99.5,387.3 152.5,349.2 65,367 68.5,373.4 61.6,366.3 90.5,380.7 106.4,358.5 65.6,395.6 86.5,372.6 65.4,386.8 144.2,347.4 98.5,378.2 127.6,364.8 74.3,381 78.7,380.9 175.3,322.3 117.8,367.4 325.2,268.8 69.6,387.7 79.8,389.6 91.6,353.9 73.3,397.4 105.8,355.8 89.3,377.2 63,382.4 104.7,356.8 84.2,356.2 64,377.4 82.6,376.9 183.5,334.8 72.3,378.5 61.1,400.7 141.2,379.2 72.4,374.4 89.9,377.6 74.7,370.8 308.5,302 81.7,376.9 89,366.6 73.2,372.4 75.6,380.7 132.9,349 105.3,376.2 81.8,383.6 91.3,379.6 90.5,356.8 94.6,358.4 149.9,371 90.9,354.1 76,372.3 71.4,370.2 81.5,379.8 116.1,356 221.2,307.2 66.9,388 84.1,375.1 338.5,298.4 62,373.4 116.8,342.3 68.6,385.1 90.6,368.8 89.8,365.3 243.3,303.9 148.6,358.8 136.4,337.5 69.6,383.6 215.4,304.3 117.9,364.6 101.4,369.3 83.8,356.7 73.8,377.1 80.9,364.6 70.5,370.9 77.4,382.9 209.5,331.8 123,347.5 218.9,308.5 154.6,356.3 126.1,375.5 72.5,361.9 64,387.4 74.8,383.5 166.8,351.1 190.4,324.6 116.5,354.1 162.1,366.2 72,383.7 145.9,365.8 236.3,298.5 69.4,369.5 66.8,371.6 107.6,350.3 112.8,356.9 87.1,386.6 78.3,373.5 65.4,379.9 85.2,349 81.4,377 63.6,380.7 108.1,365.2 79.4,357.5 60.1,379.5 71.7,387.3 160,335.1 76.5,369 194.7,330.7 247.2,290.5 118.2,355.8 135.6,371.3 87.8,370.4 123.2,346.5 103.9,371.2 149.6,342.4 111.7,370 64,377 271.1,323.3 154.7,354.9 86.1,369.2 81.6,374.3 99.6,378.2 81.2,371.9 99.1,363.8 193.3,329 81.7,366.8 169.7,343.2 178.2,339.5 69.5,389 77.8,387.9 74.6,375.2 232.8,327.7 163.5,349.3 67.3,361.6 222.7,318 78,354.5 107.9,361.9 147.8,361 245.2,297.9 94.5,369.7 93.4,400 74.9,382.6 107.2,367.1 205.1,330.6 126,347.3 190.2,326.1 89,384.6 146.9,350.4 174.8,350.6 68.5,382.1 60.1,373.9 61.8,372.8 80.1,376.9 80.9,371.5 89.9,370.3 142.9,340.8 172.5,349.5 94,343.3 92.9,378 175.3,341.1 106.9,362.1 84.1,372.4 135.1,324.1 129.8,354.7 113.3,364.1 162.6,353.9 82.1,375.1 71.2,379.1 107.1,391.1 96.6,343.7 78.8,387 92.6,380.5 170.9,329.8 122.9,350.6 129.9,356.1 83.3,365.3 60.1,374.6 196.4,325.1 80.7,386.3 65.7,389.4 70.6,370 166.6,346.9 88,359.2 79.9,361.2 76.2,389.2 82.4,374.8 83.2,361 320.7,307.7 98.4,370.1 78.4,364.8 224.8,338.7 66.2,383.1 130,354.2 145.2,347 180.1,311.2 98.5,352.7 105.3,354.8 106.3,370.4 60.1,377.4 72.4,377.7 91.1,388.2 177.1,359.9 181.3,323.5 150.6,360.5 140.9,350.1 64.4,379.4 97.8,369.2 152.1,355.9 212.9,299.6 81.4,382.8 163.9,372.5 82.2,360.4 343.5,291.1 109.5,345.1 158.8,340.3 95.4,367 278.4,295 78.3,367.3 68.1,378.2 122.8,353.6 103.7,352.8 77.7,381.9 134.9,348.7 125.4,372.1 76.5,381.7 60.1,377.8 92.5,367.4 108.4,372.9 110,359.8 205.4,317 104.5,352.3 286.1,288.4 80.2,389.6 71.8,379 202.8,308.1 130.9,345.2 98.3,363.5 98.4,355.6 123.8,359.3 117.2,327.6 94.1,367.3 73.2,377.3 251.1,332.6 128.7,349.6 65.3,379.3 78.6,360 105.6,341.6 115.3,375.9 107.9,372.3 123,387.2 73.8,348.7 80.4,367.3"/>
<line x1="60.1" y1="386.0" x2="467.9" y2="270.8" stroke="#000000" stroke-width="1.4"/>
<line x1="60.1" y1="387.4" x2="467.9" y2="281.4" stroke="#0000ff" stroke-width="1.4"/>
<line x1="59.9" y1="385.8" x2="366.2" y2="292.5" stroke="#ff0000" stroke-width="1.4"/>
<line x1="60.1" y1="384.6" x2="414.2" y2="268.9" stroke="#a020f0" stroke-width="1.4"/>
</g>
<rect x="52.4" y="237.9" width="460.35" height="185.1" fill="none" stroke="#333" stroke-width="1.5"/>
<path d="M52.4,423.00h9M512.75,423.00h-9M52.4,418.37h4.6M512.75,418.37h-4.6M52.4,413.75h4.6M512.75,413.75h-4.6M52.4,409.12h4.6M512.75,409.12h-4.6M52.4,404.49h4.6M512.75,404.49h-4.6M52.4,399.86h4.6M512.75,399.86h-4.6M52.4,395.24h4.6M512.75,395.24h-4.6M52.4,390.61h4.6M512.75,390.61h-4.6M52.4,385.98h4.6M512.75,385.98h-4.6M52.4,381.35h4.6M512.75,381.35h-4.6M52.4,376.73h9M512.75,376.73h-9M52.4,372.10h4.6M512.75,372.10h-4.6M52.4,367.47h4.6M512.75,367.47h-4.6M52.4,362.84h4.6M512.75,362.84h-4.6M52.4,358.21h4.6M512.75,358.21h-4.6M52.4,353.59h4.6M512.75,353.59h-4.6M52.4,348.96h4.6M512.75,348.96h-4.6M52.4,344.33h4.6M512.75,344.33h-4.6M52.4,339.71h4.6M512.75,339.71h-4.6M52.4,335.08h4.6M512.75,335.08h-4.6M52.4,330.45h9M512.75,330.45h-9M52.4,325.82h4.6M512.75,325.82h-4.6M52.4,321.19h4.6M512.75,321.19h-4.6M52.4,316.57h4.6M512.75,316.57h-4.6M52.4,311.94h4.6M512.75,311.94h-4.6M52.4,307.31h4.6M512.75,307.31h-4.6M52.4,302.69h4.6M512.75,302.69h-4.6M52.4,298.06h4.6M512.75,298.06h-4.6M52.4,293.43h4.6M512.75,293.43h-4.6M52.4,288.80h4.6M512.75,288.80h-4.6M52.4,284.18h9M512.75,284.18h-9M52.4,279.55h4.6M512.75,279.55h-4.6M52.4,274.92h4.6M512.75,274.92h-4.6M52.4,270.29h4.6M512.75,270.29h-4.6M52.4,265.66h4.6M512.75,265.66h-4.6M52.4,261.04h4.6M512.75,261.04h-4.6M52.4,256.41h4.6M512.75,256.41h-4.6M52.4,251.78h4.6M512.75,251.78h-4.6M52.4,247.16h4.6M512.75,247.16h-4.6M52.4,242.53h4.6M512.75,242.53h-4.6M52.4,237.90h9M512.75,237.90h-9M52.40,423.0v-4.6M52.40,237.9v4.6M71.58,423.0v-4.6M71.58,237.9v4.6M90.76,423.0v-4.6M90.76,237.9v4.6M109.94,423.0v-4.6M109.94,237.9v4.6M129.12,423.0v-9M129.12,237.9v9M148.31,423.0v-4.6M148.31,237.9v4.6M167.49,423.0v-4.6M167.49,237.9v4.6M186.67,423.0v-4.6M186.67,237.9v4.6M205.85,423.0v-4.6M205.85,237.9v4.6M225.03,423.0v-9M225.03,237.9v9M244.21,423.0v-4.6M244.21,237.9v4.6M263.39,423.0v-4.6M263.39,237.9v4.6M282.57,423.0v-4.6M282.57,237.9v4.6M301.76,423.0v-4.6M301.76,237.9v4.6M320.94,423.0v-9M320.94,237.9v9M340.12,423.0v-4.6M340.12,237.9v4.6M359.30,423.0v-4.6M359.30,237.9v4.6M378.48,423.0v-4.6M378.48,237.9v4.6M397.66,423.0v-4.6M397.66,237.9v4.6M416.84,423.0v-9M416.84,237.9v9M436.03,423.0v-4.6M436.03,237.9v4.6M455.21,423.0v-4.6M455.21,237.9v4.6M474.39,423.0v-4.6M474.39,237.9v4.6M493.57,423.0v-4.6M493.57,237.9v4.6M512.75,423.0v-9M512.75,237.9v9" stroke="#111" stroke-width="1.1" fill="none"/>
<text x="46.4" y="423.3" font-size="16" text-anchor="end" class="t">−<tspan dx="2.4">1</tspan></text>
<text x="46.4" y="383.0" font-size="16" text-anchor="end" class="t">0</text>
<text x="46.4" y="336.8" font-size="16" text-anchor="end" class="t">1</text>
<text x="46.4" y="290.5" font-size="16" text-anchor="end" class="t">2</text>
<text x="46.4" y="248.5" font-size="16" text-anchor="end" class="t">3</text>
<text x="129.6" y="444.6" font-size="16" text-anchor="middle" letter-spacing="1" class="t">100</text>
<text x="225.5" y="444.6" font-size="16" text-anchor="middle" letter-spacing="1" class="t">150</text>
<text x="321.4" y="444.6" font-size="16" text-anchor="middle" letter-spacing="1" class="t">200</text>
<text x="417.3" y="444.6" font-size="16" text-anchor="middle" letter-spacing="1" class="t">250</text>
<text x="513.2" y="444.6" font-size="16" text-anchor="middle" letter-spacing="1" class="t">300</text>
<g transform="translate(14.0,365.1) rotate(-90)"><text x="0" y="0" font-size="16" font-style="italic" textLength="18" lengthAdjust="spacingAndGlyphs">δν</text><text x="24.5" y="0" font-size="15.5" font-weight="bold" textLength="44.5" lengthAdjust="spacing">(<tspan font-style="italic" font-weight="normal">μ</tspan>Hz)</text></g>
<g clip-path="url(#cp2)">
<polyline fill="none" stroke="none" marker-start="url(#mb)" marker-mid="url(#mb)" marker-end="url(#mb)" points="239.1,570.8 124,592.8 78,618.7 85.6,646.7 260.8,570.6 125.3,640.9 257,561.1 214.8,574.5 143.2,601.8 277.5,558.4 90.8,622.6 116.3,621.8 200.7,597 184.1,591.5 106.1,621.9 124,606.5 203.3,592.8 211,570.6 253.2,579.6 80.5,586.7 65.2,619.3 75.4,620.6 130.4,619 69,611.6 125.3,598.4 209.7,595.3 163.7,605.7 109.9,594.6 65.2,621 153.4,608.6 368.3,527.2 78,617.6 111.2,614.5 67.7,634.9 187.9,597.6 104.8,608.8 254.4,576.4 177.7,579.8 112.5,629.8 133,612.3 441.1,521.7 185.4,609.8 156,591.7 185.4,623.8 141.9,616.5 189.2,600.5 98.4,613.4 121.5,616.7 258.3,576.4 308.2,557.8 149.6,591.7 324.8,538.3 104.8,620.9 281.3,551.3 177.7,613.9 194.3,597.8 269.8,553.1 208.4,596.5 227.6,597.1 65.2,623.1 144.5,592.2 193.1,620.6 245.5,588.7 187.9,587.5 179,598.4 104.8,610.5 134.2,619.9 181.6,588 176.4,591.1 102.3,628 130.4,589 121.5,608.8 196.9,596.4 180.3,612.4 217.4,567.4 79.3,617.5 364.4,545.2 423.2,541 65.2,634.8 83.1,620.7 130.4,613.2 113.8,638.1 107.4,619.8 90.8,628 195.6,606.6 194.3,608.7 310.7,547.9 104.8,611.2 158.5,605.9 157.3,596.8 65.2,623.5 159.8,601.6 117.6,624.6 83.1,626.3 140.6,605 196.9,604.8 135.5,600.9 204.6,601.3 140.6,605.8 172.6,623.5 196.9,589.9 125.3,609.5 147,602.7 111.2,639.9 225,587.9 276.2,559.2 135.5,603.5 363.1,557.5 130.4,622 141.9,616.7 121.5,601.7 221.2,595.1 136.8,605.2 106.1,621.4 124,605.8 139.4,628.9 246.8,582.8 65.2,609.2 267.2,571.2 273.6,547.2 168.8,609 300.5,544.7 65.2,633.6 419.4,531.6 133,616 121.5,617.8 136.8,610.2 150.9,608.1 150.9,608.3 99.7,620.4 104.8,618.4 184.1,591.9 337.6,542 65.2,616.3 122.7,610.2 168.8,588.7 65.2,604.8 204.6,600.4 135.5,615.7 65.2,615.4 406.6,549.3 310.7,545.5 329.9,544.3 65.2,631.2 219.9,590.6 80.5,646.3 84.4,619.3 158.5,594 156,608.1 136.8,610.8 349.1,526.4 196.9,595.6 205.8,594.9 65.2,624.8 126.6,611.6 145.7,609 145.7,612.2 335,544.1 83.1,615.9 94.6,640.7 181.6,603 194.3,598.6 166.2,593.4 88.2,620.5 84.4,593.6 127.8,613.4 185.4,608.5 180.3,593.7 99.7,604.4 75.4,600.5 98.4,635.3 138.1,615.6 194.3,597.1 283.9,559.6 116.3,610.5 145.7,620.4 88.2,616.8 65.2,619.7 269.8,575.5 232.7,604.3 65.2,626.2 179,590.8 162.4,590.8 363.1,537.1 323.5,543.5 126.6,613.3 286.4,558.5 227.6,574.3 182.8,598.6 263.4,555.5 65.2,636.7 281.3,567.7 65.2,615.2 158.5,606.2 303,558.9 251.9,575.2 140.6,597 277.5,557.7 103.5,624.4 202,574.6 203.3,596.2 116.3,625.8 80.5,612.1 115.1,637.2 170,600.5 152.1,607.2 333.7,534.9 108.7,632.7 248,579.1 136.8,587 103.5,595.9 124,628.4 143.2,582.3 194.3,585 190.5,586.1 218.6,595.4 71.6,630.4 244.2,585 125.3,605.5 70.3,621.8 88.2,604.4 149.6,593.7 336.3,528.4 193.1,604.3 227.6,563.7 154.7,589.6 269.8,560.2 97.2,627.3 138.1,607.4 207.1,589.2 147,608.8 121.5,607.9 117.6,621.1 69,630 109.9,615.2 140.6,604.6 133,608.6 129.1,608.7 195.6,572.2 176.4,609.9 129.1,596.9 153.4,600.3 65.2,613.9 116.3,642.1 245.5,592.6 88.2,627.5 150.9,592.4 126.6,614.8 115.1,626.1 101,625.5 173.9,597.4 200.7,588.4 98.4,629.7 65.2,614.7 180.3,606.6 80.5,609.7 118.9,605.6 121.5,638.5 200.7,607.9 129.1,605.5 120.2,618.2 95.9,617.6 134.2,591.3 78,611.8 89.5,631.2 347.8,548.3 107.4,637.2 196.9,593.2 116.3,618.2 148.3,617.2 90.8,611.9 109.9,599.5 65.2,624.4 89.5,607.3 148.3,592.5 205.8,592.7 109.9,621.4 300.5,554.9 130.4,608.9 162.4,598.2 297.9,541.9 111.2,620 134.2,605.9 301.8,552.3 185.4,597 88.2,625.8 272.3,567.1 322.2,538.7 209.7,588.3 184.1,597.3 190.5,607.7 65.2,633.4 208.4,571.8 131.7,611.4 107.4,587.1 184.1,598.9 315.8,530.7 159.8,609 65.2,638.5 143.2,615.2 180.3,595 255.7,567.5 149.6,586.3 65.2,612.3 95.9,614.3 95.9,637.8 208.4,575.3 131.7,619.2 125.3,591 76.7,623.4 126.6,618.2 140.6,623.1 149.6,591.4 259.6,564.8 205.8,600.5 109.9,630.1 327.3,543.3 79.3,611.5 289,565.1 86.9,620.6 111.2,605.6 175.2,591.2 217.4,596.1 134.2,582.3 179,601.6 139.4,595.6 414.3,533.6 291.5,559 239.1,560 278.7,542.2 175.2,585.9 157.3,612.7 124,610.1 211,594 196.9,581.2 162.4,605.6 199.5,601.2 67.7,621.8 212.2,586 180.3,612.1 346.5,556.4 373.4,528.6 122.7,601.9 269.8,564.8 274.9,554.3 411.7,539.2 164.9,622.2 158.5,617.5 65.2,621.1 111.2,633.7 202,604.2 181.6,585.3 65.2,629 166.2,627.5 190.5,594.4 154.7,582.1 65.2,643.9 198.2,584.8 112.5,622.2 139.4,605.4 237.8,586.4 150.9,598.7 179,586.6 172.6,612.1 356.7,540.9 189.2,610.5 235.3,567.7 250.6,582.6 88.2,625.6 124,612.5 164.9,607.8 148.3,599.2 196.9,607.9 126.6,627.6 131.7,612.1 235.3,589.5 382.3,536.2 139.4,613.4 176.4,607.1 99.7,611.3 185.4,612.6 282.6,549.6 186.7,595.3 227.6,599.3 462.9,533 203.3,571.9 65.2,620.3 230.1,573.6 231.4,585.2 161.1,595.9 116.3,610.3 161.1,583.5 240.4,583.2 65.2,617.9 103.5,618.7 145.7,598.8 125.3,626.6 290.2,553.2 92,619.6 122.7,615.2 115.1,613.9 143.2,587.4 157.3,611.3 331.2,567.9 230.1,600.7 237.8,589.6 255.7,576.2 176.4,613.9 175.2,593.2 144.5,599.2 313.3,556.2 263.4,563.8 194.3,588.2 236.5,577.6 167.5,614.4 134.2,605.3 85.6,622 118.9,595.4 231.4,597.1 108.7,622 144.5,606.9 111.2,632.5 71.6,621.7 331.2,547.5 175.2,596.3 182.8,591.2 101,624.6 150.9,608.2 257,581.6 219.9,579.1 81.8,626.3 234,582 274.9,569.7 181.6,598.3 97.2,610.5 223.8,557.6 196.9,582.7 168.8,596.5 65.2,604.5 88.2,623 228.9,588.3 186.7,575 139.4,593.9 121.5,606.2 153.4,612.5 172.6,591 120.2,614.9 139.4,602.9 158.5,608.3 130.4,619.5 207.1,609.7 84.4,609.2 209.7,608.1 177.7,590.7 152.1,628 129.1,601.4 154.7,594.7 79.3,624.5 138.1,619.2 74.1,643 156,602 111.2,614.9 170,601.8 141.9,597.7 139.4,588.3 194.3,605.9 164.9,575.4 225,559.2 171.3,623.6 187.9,614.4 294.1,560.5 170,585.6 65.2,612 303,552.2 163.7,601.1 112.5,598.5 134.2,593.7 75.4,614.2 103.5,591 163.7,585.4 280,582.5 216.1,585 312,535.3 177.7,581.3 89.5,617.3 131.7,590 129.1,612.5 107.4,592.4 124,616.1 191.8,601.8 219.9,604.9 154.7,594.8 108.7,613.2 158.5,623.8 145.7,624.2 177.7,597.8 133,609.9 158.5,614.2 280,561.8 273.6,569.2 217.4,585.7 181.6,592.4 85.6,630.2 65.2,624 223.8,573.8 76.7,633.6 127.8,611.5 189.2,591.9 157.3,601.8 177.7,612.4 118.9,611.7 72.9,609.3 163.7,594.6 351.6,532.2 179,599.2 152.1,618.8 79.3,617 158.5,613.4 94.6,618.6 120.2,613.8 115.1,592.2 147,611.4 187.9,601.1 118.9,595.7 118.9,625.8 231.4,578.7 76.7,635.4 135.5,621.9 133,614 103.5,623.2 172.6,610 258.3,555.5 170,626.2 74.1,621.4 122.7,598.2 149.6,597.6 161.1,576.7 166.2,625.2 286.4,545.2 200.7,593.5 209.7,573.1 85.6,638.2 93.3,638.8 149.6,596.7 84.4,630.8 301.8,550.2 83.1,623.4 141.9,614.9 422,535.8 65.2,628.2 92,622.2 106.1,628.3 172.6,585.1 116.3,619.1 213.5,584.6 75.4,627.9 248,585.6 216.1,588.5 113.8,616.4 70.3,627.2 139.4,600.8 127.8,630.8 175.2,609.4 157.3,601.9 189.2,600 191.8,597 172.6,590.6 65.2,632.4 126.6,599.4 285.1,561.7 148.3,591.8 107.4,626.8 133,628.4 327.3,531.3 104.8,631.5 177.7,606.8 135.5,611.7 129.1,622.1 216.1,565.6 136.8,609.4 398.9,554.7 149.6,576.6 189.2,595.9 166.2,606.9 227.6,558.2 228.9,572.4 166.2,590.6 184.1,579 176.4,620.3 244.2,572.6 301.8,548.6 65.2,651 112.5,616 145.7,612.5 184.1,609.8 124,618.8 216.1,571.6 150.9,618 65.2,625.7 102.3,609.6 106.1,623.1 161.1,583.2 213.5,605.8 80.5,607.3 103.5,606.4 111.2,625.4 257,582.5 170,609.2 301.8,538.8 108.7,640.7 159.8,573.3 90.8,598.3 254.4,581.3 145.7,607.9 65.2,648.5 90.8,631 141.9,628.3 162.4,600.4 154.7,590.6 79.3,624.5 162.4,587.4 167.5,605.7 190.5,584.6 154.7,596 66.5,618.6 217.4,572.5 93.3,615.1 102.3,623.9 84.4,625.9 97.2,620.6 217.4,601 112.5,594.2 89.5,602.3 379.8,553.2 65.2,618.8 445,533.7 287.7,558.7 133,621.2 65.2,620 166.2,591.6 213.5,598.3 221.2,571.3 324.8,533.2 259.6,560 439.9,556.1 102.3,610.1 140.6,613.5 205.8,577.2 300.5,554.3 65.2,609.3 127.8,604.8 124,610.5 180.3,602.6 156,590.4 127.8,600.5 175.2,606.6 200.7,603.3 211,593.1 65.2,618.4 149.6,606.7 104.8,620.6 71.6,632.9 131.7,614 90.8,612 177.7,594.3 149.6,613.4 181.6,598.6 237.8,586.1 212.2,581.6 271.1,574.9 135.5,582.1 93.3,618.4 187.9,616.2 236.5,592.5 259.6,574.3 308.2,545.1 246.8,578.6 139.4,601.9 112.5,633.1 65.2,625.9 213.5,599.1 65.2,615.3 106.1,624.2 124,603.8 106.1,614.1 239.1,577.7 203.3,583.3 75.4,628.1 157.3,607.9 99.7,613.1 177.7,595.6 120.2,614.1 153.4,599.9 129.1,596 181.6,594.4 145.7,625 344,529.4 260.8,567.6 179,578.1 227.6,588 139.4,612.6 130.4,612.2 219.9,586.2 97.2,620.9 163.7,612.8 148.3,621.2 95.9,619 85.6,633.4 297.9,548.9 167.5,594 162.4,586.7 242.9,569.6 134.2,608.1 130.4,595.8 181.6,586.9 442.4,546.6 221.2,577.9 127.8,608.5 219.9,594.5 266,557.6 218.6,573.2 109.9,623 145.7,602.2 106.1,611.9 173.9,595.9 315.8,550.7 202,583.7 295.4,555.6 161.1,610.8 129.1,608.5 152.1,598.5 88.2,603.6 212.2,584.8 187.9,609 240.4,564.2 65.2,625 153.4,607.2 143.2,610.4 65.2,615.5 184.1,602.6 104.8,617.8 99.7,612.9 124,598.6 406.6,519.7 167.5,602.2 351.6,540.1 271.1,585.8 157.3,608.7 167.5,600.8 318.4,539.7 104.8,608.8 203.3,575.4 208.4,584 373.4,531.5 134.2,606.7 126.6,612.9 281.3,555.3 226.3,592.6 203.3,593.4 83.1,622.7 131.7,622.7 111.2,613.4 76.7,625.6 255.7,574.3 158.5,603.3 113.8,608.5 181.6,594.3 74.1,627.5 257,565.8 65.2,612.5 164.9,585 179,589.9 113.8,593.6 207.1,583.4 158.5,609.6 81.8,591.2 65.2,620.3 349.1,537.7 78,615.7 78,614.1 257,571.6 95.9,604.6 191.8,594.6 254.4,573.4 144.5,618.6 130.4,606.7 108.7,625.3 181.6,590.7 173.9,596.5 262.1,574.6 328.6,554.9 135.5,627.3 89.5,616.3 299.2,563.6 447.5,535.6 65.2,623.8 143.2,611.7 200.7,587.2 72.9,608.3 126.6,618.9 309.4,545.8 276.2,564.4 175.2,575.9 189.2,585.2 406.6,526.8 65.2,628.2 92,612.8 342.7,549.5 208.4,594.2 117.6,597.4 65.2,618.2 173.9,615.2 198.2,604.2 71.6,616.4 93.3,622 94.6,618.5 130.4,595.8 130.4,621.3 88.2,621.6 139.4,591.5 246.8,570.4 79.3,612.9 101,609.7 162.4,616.2 103.5,615.9 271.1,589.5 242.9,574.1 88.2,621.8 113.8,627.5 65.2,619.6 194.3,611.6 196.9,569.2 65.2,632.7 158.5,606.7 176.4,594.8 150.9,617.5 281.3,576.6 150.9,619 117.6,613.2 150.9,598.8 172.6,600.6 86.9,636.9 145.7,599.8 113.8,628.9 167.5,601.4 138.1,621.7 125.3,612.9 456.5,522.1 234,583 79.3,617.9 200.7,593.8 277.5,585.9 125.3,606 145.7,608.9 139.4,594.7 136.8,629.2 170,589.3 113.8,629.4 219.9,594.9 231.4,574.2 135.5,609.4 260.8,587.1 285.1,552.7 80.5,618.7 410.4,537.5 190.5,604.5 162.4,610.6 124,619.9 200.7,595.5 65.2,607.2 322.2,548.6 219.9,600.2 116.3,613.9 170,594.8 90.8,614 167.5,592.2 95.9,608.7 304.3,540.1 241.7,593.4 272.3,558 65.2,604.4 199.5,604.3 213.5,593.3 187.9,598.7 202,586.2 72.9,615.7 244.2,607 209.7,597.7 346.5,550.8 181.6,595 140.6,633.9 125.3,609.6 271.1,561.3 102.3,602.5 173.9,587.5 101,612.6 306.9,569.5 148.3,576.6 184.1,590.6 377.2,547.3 65.2,621.4 130.4,594.8 369.5,517.9 113.8,619.3 65.2,624.7 65.2,634.9 108.7,625.3 80.5,637.2 223.8,593.5 117.6,611.2 101,631.6 264.7,582 95.9,619.2 65.2,629.7 136.8,617.9 223.8,580.4 104.8,610.2 176.4,592.7 125.3,621 168.8,610.9 139.4,606.1 144.5,619.2 116.3,623.3 195.6,616.1 103.5,609.2 291.5,567.5 318.4,530.5 121.5,599.2 161.1,605.6 115.1,636 98.4,613.7 167.5,611.2 65.2,619.6 65.2,612.1 125.3,615 245.5,584.9 125.3,610.6 217.4,576 163.7,613.6 194.3,600.5 76.7,615.9 156,607.8 72.9,615.7 152.1,608.4 134.2,602.3 442.4,551.5 116.3,591.9 104.8,616.8 71.6,618.5 191.8,585.2 219.9,580.8 277.5,566.7 268.5,598 373.4,535.5 106.1,615.8 191.8,591.1 164.9,590.9 163.7,589.9 253.2,573.6 104.8,612.9 248,564.9 407.9,550.9 76.7,625.1 190.5,592.2 226.3,580.3 171.3,611 185.4,609.2 153.4,596.6 112.5,621.2 84.4,631.4 66.5,616.7 136.8,615.5 324.8,551 74.1,632.5 65.2,632.7 344,539 86.9,617.8 129.1,623.6 198.2,583.5 122.7,613.2 276.2,557.5 103.5,612 273.6,563.8 144.5,615.6 207.1,560.6 180.3,596.8 97.2,626.1 111.2,601.7 181.6,603.9 84.4,612.8 225,554.7 244.2,581.8 209.7,587.3 231.4,580.5 88.2,613.7 269.8,560.4 113.8,613.3 117.6,625.1 159.8,596.9 72.9,612.9 455.2,532.2 162.4,594.7 292.8,556.2 97.2,616.2 163.7,596.9 228.9,584.3 310.7,537.4 65.2,612.6 189.2,574 359.3,539.6 218.6,585.2 223.8,599.3 150.9,591.7 172.6,598.3 162.4,622 171.3,595.8 86.9,612.2 221.2,586.8 106.1,598.9 102.3,617.6 65.2,622.5 122.7,651.6 245.5,571.9 144.5,618.1 195.6,589.7 190.5,600.5 140.6,612.3 369.5,535.5 131.7,611.7 94.6,614.4 315.8,550.2 177.7,588.8 104.8,604.6 303,565.9 65.2,624.6 346.5,534.8 138.1,646 107.4,624.7 260.8,575.1 212.2,587.5 226.3,597.2 248,576.8 65.2,596.5 253.2,556.4 242.9,581.4 134.2,595.7 79.3,628.4 232.7,590.5 90.8,632.3 190.5,583.8 65.2,621.6 86.9,642.9 65.2,614.1 237.8,591.9 80.5,635.4 95.9,616.1 250.6,573.2 198.2,619.2 171.3,603.5 153.4,604.8 222.5,603.2 140.6,601.8 207.1,584.8 144.5,590.3 187.9,595.1 65.2,624 251.9,589.4 253.2,581.3 135.5,599.6 126.6,593.9 333.7,549.2 218.6,581.1 274.9,573.4 199.5,610.8 181.6,604.6 161.1,596.9 139.4,617.6 455.2,549.4 135.5,601.7 130.4,608.5 186.7,597.6 168.8,600.9 130.4,600.3 89.5,629 148.3,614.8 267.2,576.2 88.2,615.2 147,621.7 161.1,602.2 124,606.2 65.2,616 186.7,606.7 154.7,587.3 112.5,612.2 161.1,623.2 109.9,610.2 179,609.2 164.9,589.6 133,597.7 109.9,626.7 367,535.9 106.1,616.4 266,583.2 84.4,614.4 198.2,582.6 211,579.6 93.3,619.5 108.7,608.8 276.2,567.3 226.3,576.1 65.2,634.6 134.2,611.5 231.4,584.8 122.7,631 182.8,621.2 268.5,565.3 239.1,576.2 126.6,624.9 191.8,610.5 167.5,615.3 208.4,594.9 196.9,577.9 65.2,622.2 65.2,629.8 133,611.3 149.6,596 126.6,606.4 314.5,562.2 133,611.9 98.4,603.6 156,619.9 203.3,601.9 232.7,608 414.3,520.3 71.6,619 121.5,617.7 84.4,635.2 203.3,588.9 79.3,611.9 107.4,612.8 272.3,574.1 217.4,597.6 276.2,551.9 133,614.2 112.5,624.9 65.2,612.8 218.6,602.2 253.2,588.5 117.6,599.4 102.3,610.5 141.9,597.4 143.2,595.1 80.5,615.9 249.3,577 97.2,597.7 153.4,609.6 81.8,620 103.5,609.7 171.3,581.6 257,589.1 149.6,595.9 196.9,592.6 129.1,623.3 253.2,543 209.7,577.2 272.3,552.2 143.2,611.7 159.8,615.9 368.3,510.9 291.5,573.7 107.4,621.4 228.9,580.4 65.2,636.9 139.4,628.2 88.2,610.3 74.1,627.3 180.3,591 300.5,549.7 90.8,602.1 78,633.7 113.8,618.3 204.6,601.9 80.5,609.5 102.3,643.6 122.7,635.4 176.4,616.3 92,632.2 296.6,556.9 131.7,611.3 149.6,587.5 117.6,626.4 143.2,605.4 211,588.2 95.9,605.3 80.5,605.1 102.3,634.4 141.9,604.8 221.2,601.2 65.2,645.8 139.4,579.8 143.2,611.3 274.9,560 347.8,537.4 175.2,607.5 65.2,622.7 213.5,582.7 65.2,637.8 173.9,573.2 65.2,626.8 143.2,588.9 211,594.4 69,623.5 312,539.2 257,563.4 159.8,607.9 95.9,634.5 104.8,604.3 130.4,610.1 115.1,604.3 65.2,623.5 65.2,619 186.7,579.8 172.6,611 164.9,590.6 125.3,610.4 126.6,603.2 65.2,645.2 106.1,606.9 205.8,604.3 216.1,604.5 185.4,592.4 138.1,604.4 140.6,611.4 111.2,620.2 419.4,549.6 301.8,545.3 106.1,624 122.7,603.5 98.4,627.5 164.9,608 136.8,623 65.2,605.3 121.5,605.7 145.7,591.5 84.4,624.6 131.7,583.8 358,538.3 158.5,587.2 111.2,615.3 95.9,640.1 172.6,591.1 166.2,610.6 194.3,583.5 159.8,618.7 173.9,591.9 278.7,563.5 167.5,611.8 85.6,599.5 118.9,607.2 65.2,614 127.8,625.9 211,602.5 92,616.2 145.7,608.8 187.9,591.7 205.8,596.1 115.1,613.5 65.2,603.1 180.3,596.8 112.5,618.3 225,572 187.9,582.2 127.8,615.7 94.6,605.8 65.2,632.2 131.7,598.6 150.9,614.6 99.7,623.9 180.3,594.5 202,585.8 328.6,544.5 309.4,548.5 139.4,614.8 127.8,609.9 241.7,582.5 180.3,589.4 117.6,622.6 332.4,568.6 223.8,580.3 190.5,612.8 65.2,611.3 251.9,565.5 175.2,601.8 156,599.2 99.7,599.8 202,587 126.6,619.2 127.8,598.1 230.1,586.1 116.3,617 93.3,603.5 173.9,607 205.8,596 236.5,592.1 120.2,612.1 72.9,622 65.2,631.8 130.4,617.5 65.2,615.8 111.2,596.8 92,603.9 127.8,630.7 116.3,605.1 122.7,618 244.2,562.5 244.2,578.7 88.2,641 250.6,560.1 94.6,626.1 143.2,599.7 102.3,628.2 76.7,638 78,632.9 221.2,581 145.7,605.7 200.7,593.8 116.3,622.4 245.5,581.3 202,588.1 81.8,635.1 92,615.9 274.9,567.1 198.2,601.3 161.1,606.9 322.2,535 409.2,560.6 291.5,539.6 166.2,620.1 153.4,587.7 65.2,618.5 79.3,624.5 125.3,635.6 65.2,629.4 171.3,582 74.1,621.1 79.3,630.6 190.5,573.8 75.4,628.8 164.9,610.5 116.3,630 318.4,540.6 173.9,613.1 147,614.3 226.3,590.8 144.5,589.9 217.4,596.5 111.2,601.1 278.7,570.4 162.4,599.7 89.5,632.1 327.3,542.7 79.3,605 145.7,604.8 249.3,555 367,541.8 113.8,623.2 140.6,622.6 278.7,573.6 133,601.6 86.9,620.9 98.4,626.5 167.5,582.6 154.7,616.9 222.5,594.8 80.5,619.4 158.5,598.2 259.6,581.1 164.9,580.3 148.3,604.7 282.6,550.4 97.2,618.3 204.6,590.5 387.4,536.8 75.4,637.1 138.1,601.4 149.6,618.1 159.8,594.9 90.8,630.7 409.2,539.6 117.6,603.1 113.8,610.3 139.4,600.7 86.9,622 133,608.3 116.3,621.5 70.3,620.8 65.2,616.5 216.1,585.9 65.2,644.1 88.2,610.3 140.6,595.2 264.7,564.4 143.2,611.8 148.3,623.7 360.6,536.2 355.5,542.1 202,624.4 168.8,614.2 333.7,552.2 180.3,614 280,559.5 88.2,625.6 370.8,547.7 168.8,596.7 322.2,554.4 222.5,589.4 124,611.6 299.2,552 219.9,580.8 65.2,627 127.8,599.8 99.7,606.2 161.1,596.7 124,614.3 65.2,625.9 147,604.9 367,547.3 145.7,603.6 166.2,622.2 164.9,594.9 171.3,602.5 207.1,592.7 245.5,581.4 80.5,627 120.2,628.4 209.7,577.3 124,614.9 130.4,602.3 341.4,536.1 124,603.5 177.7,607.3 315.8,532.3 340.1,539 108.7,630.2 65.2,620 171.3,597.1 92,617.2 117.6,617.7 152.1,602.9 158.5,607.4 202,591.5 90.8,624.7 156,607.4 152.1,622.8 106.1,611.5 212.2,584.8 118.9,627.9 253.2,578.5 111.2,639.2 122.7,605.9 88.2,626.9 181.6,592.5 219.9,580.5 240.4,557.1 108.7,613.2 139.4,629.9 125.3,621.5 88.2,626.6 126.6,608 347.8,540.2 203.3,600 175.2,610.1 99.7,610.3 145.7,595 126.6,625.7 154.7,605 121.5,599.3 258.3,563 97.2,623.1 113.8,618.8 260.8,570.6 125.3,620.3 65.2,630.6 90.8,620.7 199.5,592 342.7,535.4 359.3,542 317.1,529.1 219.9,583.4 130.4,617.5 88.2,611.3 374.6,535.2 177.7,614.8 70.3,624.6 95.9,624.3 166.2,612.3 130.4,609.2 171.3,600.3 65.2,608.7 383.6,515.4 237.8,566.7 141.9,585.8 83.1,608.7 118.9,615.2 65.2,636.2 76.7,613.8 237.8,590.6 257,577.6 99.7,636.3 122.7,606.4 138.1,619.5 248,571.2 135.5,609.7 249.3,561.3 106.1,633.6 326.1,549 157.3,600.9 66.5,634.9 254.4,580.9 120.2,623.6 116.3,632.7 127.8,595.8 241.7,570.8 70.3,610.1 203.3,572 111.2,632 145.7,612.9 90.8,610.8 262.1,572.7 191.8,597.1 236.5,590.8 208.4,594.4 219.9,581 157.3,583.3 152.1,609.6 235.3,563.6 65.2,628.7 145.7,604 158.5,614.9 425.8,542.4 127.8,616.5 392.5,540.2 97.2,617.8 113.8,611.9 240.4,585.9 200.7,577.5 158.5,584.7 133,595.9 179,597.9 135.5,621.5 191.8,599.1 95.9,621.7 304.3,532.3 299.2,555.1 130.4,605.8 294.1,553.8 143.2,615 92,606.8 194.3,595.4 147,613.1 66.5,620.3 135.5,595 94.6,630.4 214.8,574.6 140.6,598.7 177.7,587.8 217.4,586.7 199.5,620 79.3,611.1 139.4,602 134.2,589.1 92,632.9 199.5,612.1 122.7,620.1 177.7,596.2 153.4,594.7 287.7,546.4 106.1,617.8 65.2,620.3 113.8,584.6 218.6,587.9 149.6,602 70.3,609 80.5,631.5 259.6,567.7 200.7,597.4 117.6,640.5 259.6,564.5 139.4,593.7 164.9,587.3 89.5,623.1 326.1,533 301.8,555.5 266,580 136.8,612 65.2,615 127.8,605 127.8,607 148.3,603.1 133,606.2 89.5,616.3 65.2,626.7 211,596.5 122.7,634.8 65.2,633 65.2,621.2 264.7,563.4 171.3,596.8 144.5,608.1 202,579.2 83.1,606.5 425.8,539.3 245.5,590.7 86.9,624.7 111.2,607.3 198.2,593.8 157.3,609.1 116.3,620.8 420.7,535.3 213.5,577 228.9,580.1 193.1,593.9 184.1,592.3 179,600.1 102.3,638.6 112.5,614.2 208.4,583.1 130.4,619.3 129.1,618.1 204.6,605.6 118.9,627.7 85.6,621.4 148.3,608.1 81.8,625.4 196.9,577.6 208.4,577.6 152.1,619.9 129.1,621.8 127.8,629 287.7,574.6 156,604.3 108.7,625.4 268.5,578.1 164.9,599.8 204.6,605.2 199.5,592 65.2,605.3 164.9,589.9 65.2,615.5 156,599.7 202,589.1 170,603.5 301.8,555.2 154.7,612.2 156,612.8 332.4,525 144.5,600.9 112.5,604.4 207.1,602.7 127.8,629.6 83.1,621.3 337.6,540.6 83.1,605.3 120.2,619.7 333.7,557.6 198.2,602 112.5,605.9 219.9,590.3 65.2,650.7 198.2,584.5 65.2,601.4 135.5,616.9 65.2,620.3 134.2,604.3 291.5,553.4 317.1,543.5 65.2,619.9 232.7,582.2 103.5,625.3 195.6,599.2 273.6,576.3 182.8,597.5 172.6,595.8 212.2,598.7 94.6,623 103.5,618.9 98.4,581 255.7,578.4 115.1,609.4 84.4,611.8 86.9,625.7 116.3,601.3 88.2,595.7 176.4,595.5 352.9,552.1 297.9,535.8 157.3,614.6 152.1,602.3 171.3,589 103.5,611.5"/>
<polyline fill="none" stroke="none" marker-start="url(#mr)" marker-mid="url(#mr)" marker-end="url(#mr)" points="156,612 124,603.3 75.4,609.4 98.4,607.7 180.3,577.9 153.4,628.4 130.4,609.2 93.3,605.2 108.7,634.9 71.6,616.7 99.7,627 194.3,586.8 172.6,580.9 251.9,583.7 205.8,584.9 80.5,592.1 127.8,622.5 209.7,584.6 89.5,602.3 149.6,602.5 65.2,622.5 65.2,630.7 177.7,576.4 106.1,605.9 121.5,590.9 98.4,614.7 99.7,621.6 147,573.4 103.5,624.1 113.8,627.4 90.8,636.6 97.2,595.8 131.7,599.2 67.7,604.8 90.8,615.9 107.4,622 145.7,636.1 122.7,608.1 218.6,578.8 184.1,595 207.1,558.4 65.2,624.9 106.1,621.6 124,604.1 65.2,637 81.8,612.1 111.2,586.8 166.2,573.4 180.3,569 108.7,586.4 139.4,601.3 106.1,596.3 67.7,628.8 104.8,622.9 191.8,599.5 78,617 72.9,603.9 138.1,560.9 65.2,589.3 200.7,558.1 89.5,613 141.9,595 65.2,609.5 147,596.5 65.2,621.6 109.9,600.6 168.8,588.4 133,606.9 65.2,612.1 90.8,602.2 90.8,622.4 81.8,627.2 99.7,611.3 157.3,584.3 246.8,563.5 180.3,596.6 106.1,595.6 156,602.3 153.4,584.7 74.1,600.1 84.4,624.9 124,597.8 116.3,625.5 109.9,587 143.2,589.3 122.7,625.6 107.4,612.8 214.8,588.4 94.6,595.9 65.2,608.3 70.3,623.7 125.3,611.5 107.4,611.3 75.4,613.4 107.4,628.2 127.8,583.8 69,596.2 158.5,610.1 106.1,607.8 129.1,609.7 147,587.9 81.8,630.3 118.9,598.2 167.5,571.7 211,580 72.9,617.9 190.5,583.4 86.9,636.9 117.6,607.5 74.1,628.1 173.9,586 144.5,582.8 189.2,598.5 156,556.9 198.2,563.7 135.5,610.3 199.5,577.6 170,577.9 231.4,557.1 121.5,608.2 117.6,606 122.7,620.6 207.1,565.6 108.7,596 167.5,583.7 101,617.2 65.2,589.5 95.9,594.2 194.3,595.5 131.7,597.3 103.5,620.3 115.1,609.1 143.2,606.7 103.5,613.9 102.3,614.4 141.9,600.9 107.4,617.2 166.2,549.5 154.7,600.8 102.3,622.5 90.8,610.2 88.2,609.9 95.9,612.9 109.9,597.6 65.2,618.3 102.3,605.7 106.1,628.3 148.3,614.8 134.2,621.4 126.6,596.7 97.2,584 184.1,582.3 156,597.5 103.5,592.4 117.6,610.3 125.3,610.7 166.2,571.7 227.6,590.7 157.3,575.1 89.5,636 127.8,601.8 152.1,569.7 92,631.1 98.4,623.9 118.9,601.9 130.4,587.3 65.2,628.1 131.7,598.3 156,593.5 175.2,600.1 112.5,611.7 72.9,607.3 115.1,602.4 125.3,594.4 125.3,576.1 124,623.2 179,579.5 149.6,608.2 65.2,614.5 79.3,584.6 147,604.8 89.5,611 153.4,590.7 157.3,595.7 74.1,630.8 65.2,618.8 205.8,581 170,593 65.2,590.6 166.2,594.5 78,591.2 65.2,627.3 133,614.2 134.2,607.1 93.3,600.7 161.1,578.8 138.1,618.9 152.1,597.7 109.9,595.6 172.6,590.2 164.9,590.3 90.8,609.4 71.6,602.5 143.2,600.4 65.2,613.9 106.1,635.3 113.8,597 122.7,597.2 126.6,611.4 145.7,584.2 153.4,597.8 93.3,611.6 185.4,549.4 122.7,603.6 227.6,576.5 121.5,587.5 98.4,636.1 207.1,561.5 95.9,640.2 93.3,591 143.2,610.6 177.7,612.3 216.1,604.2 121.5,619.5 198.2,596.3 71.6,610.1 136.8,598.9 212.2,588.2 106.1,603 88.2,604.5 138.1,591.2 121.5,608.9 208.4,592.5 115.1,596.9 124,596.2 194.3,587.9 102.3,579.1 156,586.7 65.2,647.5 116.3,625.6 162.4,582.8 195.6,590.9 195.6,571 179,587.4 118.9,615.3 97.2,608.9 88.2,601.8 195.6,575.6 116.3,601.4 143.2,602.1 122.7,602.1 109.9,600.4 84.4,608.8 167.5,611.1 135.5,593.5 97.2,613.2 168.8,599.6 106.1,612 125.3,612.2 117.6,618.6 217.4,571.9 98.4,589.8 66.5,617.8 65.2,634.5 122.7,612 134.2,600.3 134.2,574.7 84.4,611.3 147,585.3 92,603.2 83.1,611 127.8,581.2 104.8,617.3 112.5,580 113.8,617.5 101,610.2 250.6,565.4 104.8,620.7 95.9,581.9 81.8,622 98.4,634.6 89.5,618.9 118.9,576.5 170,584 219.9,581.3 176.4,589.2 65.2,611.5 65.2,604 168.8,592.3 97.2,618.8 92,627.6 207.1,582.8 78,620.4 111.2,606.8 107.4,595.1 122.7,605.4 182.8,586 118.9,602.2 72.9,620 332.4,554 94.6,602.8 140.6,598.2 131.7,630.3 65.2,618.6 116.3,594.9 167.5,595.9 120.2,638.1 145.7,612 124,602.7 133,612.7 154.7,600.7 81.8,602.3 127.8,591.1 170,575.1 211,607.3 133,605.4 79.3,615.4 136.8,616.6 85.6,589.8 162.4,584.8 89.5,625.5 129.1,613.8 133,614.6 124,615.7 65.2,622.7 158.5,596 121.5,587.4 103.5,584.8 66.5,587.4 147,593.9 65.2,628 159.8,573.6 144.5,588.6 102.3,584.4 135.5,607 152.1,594.4 190.5,564 65.2,601.6 242.9,587.1 113.8,597.8 117.6,624 117.6,625.1 121.5,594.9 76.7,614.2 89.5,620.7 167.5,577.4 172.6,578.1 126.6,598.5 144.5,594.5 150.9,612.5 145.7,615.8 118.9,608.2 161.1,596.7 175.2,595 65.2,620.6 254.4,559 112.5,621.6 104.8,604.4 152.1,584 156,588.9 267.2,593.3 133,608.1 88.2,601.7 97.2,628.2 108.7,578 152.1,595.7 93.3,603.9 99.7,595.4 79.3,644.2 65.2,619.4 156,601.8 147,588.8 88.2,613 113.8,593.3 99.7,631.7 167.5,576.1 163.7,568.5 230.1,567.4 120.2,604.8 184.1,570.9 93.3,620.9 140.6,580.5 93.3,620.3 106.1,635.9 65.2,626 79.3,620.1 281.3,545 93.3,630.2 207.1,612.5 203.3,588.2 131.7,583.1 75.4,601.8 248,595.3 230.1,567.3 65.2,606.9 101,601.3 107.4,614.5 65.2,609.4 90.8,611.3 124,621.8 102.3,609.4 108.7,605.9 102.3,596.9 285.1,555.7 150.9,581.5 149.6,581.9 121.5,631.7 198.2,581.5 99.7,623.3 262.1,553.7 131.7,592.5 222.5,566.9 131.7,581.4 161.1,581.1 304.3,539.1 65.2,616.4 81.8,620.9 76.7,609.9 109.9,602.6 109.9,593.6 129.1,612.9 227.6,569.2 133,585.1 205.8,569.4 242.9,548.5 156,583.9 102.3,604.9 124,624.3 190.5,611.7 139.4,572.6 141.9,594.1 148.3,596.1 103.5,613.2 156,558.4 153.4,594 107.4,646.5 143.2,566.5 124,582.8 65.2,616 112.5,594 149.6,586.8 156,594.6 175.2,592.6 173.9,569.9 90.8,604.2 166.2,593.4 190.5,578.3 65.2,631.9 139.4,608.8 193.1,595 131.7,598.2 109.9,600.7 74.1,597.8 173.9,588.7 103.5,604.8 200.7,580.2 65.2,647.6 131.7,621.6 101,626.4 112.5,571.4 134.2,599 65.2,591.2 130.4,597.1 102.3,625.6 65.2,607 65.2,615.3 147,610 152.1,592.6 125.3,578.2 97.2,641.7 109.9,607.4 65.2,644.8 148.3,566.1 162.4,608.2 65.2,610.7 104.8,594.3 93.3,629.5 117.6,610.1 195.6,554.8 135.5,606.5 93.3,631.8 65.2,620.1 175.2,584.2 144.5,582.6 313.3,551.7 97.2,599.8 93.3,602.6 104.8,572.8 121.5,603.4 125.3,594.9 65.2,603.9 94.6,621 172.6,619.4 109.9,593.9 106.1,614.2 65.2,594.1 140.6,595.6 65.2,609.4 79.3,617.5 152.1,600.8 150.9,592.4 85.6,615.3 134.2,613.6 168.8,582.2 83.1,596.1 102.3,602.1 205.8,577 76.7,624 173.9,583.8 65.2,624.8 65.2,599.5 111.2,603.5 180.3,597.2 120.2,613.1 171.3,592.6 143.2,612.2 135.5,570.1 103.5,611.7 143.2,587.9 113.8,614.7 143.2,601 125.3,618.7 131.7,607.8 129.1,585.6 85.6,624 148.3,606.1 143.2,605.4 166.2,579.5 161.1,592.5 102.3,612.9 112.5,617.7 65.2,640.7 65.2,636.9 85.6,612.8 65.2,617.1 113.8,589.5 167.5,584.2 78,617 180.3,614.3 80.5,591.2 118.9,585.7 118.9,592.5 97.2,642.1 168.8,599.8 134.2,600.5 108.7,594 138.1,608.9 130.4,597.2 153.4,608.1 70.3,601.2 180.3,578.9 112.5,600.9 144.5,636.1 144.5,601.8 70.3,607.2 113.8,612.6 207.1,582.3 200.7,596.1 127.8,591 95.9,597.8 212.2,595.9 84.4,622.1 221.2,557.4 124,590.6 167.5,599.8 107.4,617 126.6,603.6 157.3,576.8 84.4,616.6 104.8,621.2 124,585.7 83.1,595.8 181.6,583 86.9,618.5 65.2,627.1 133,625.9 145.7,624.2 153.4,599.9 130.4,605 177.7,589.2 113.8,624.8 76.7,615 112.5,635.5 158.5,593.6 164.9,607.1 65.2,608.4 217.4,565.7 111.2,597.2 213.5,556.9 85.6,608.2 103.5,598.9 115.1,607 92,604 260.8,579.6 102.3,608.9 113.8,596.4 83.1,606.4 107.4,595.4 99.7,601.1 95.9,592.2 231.4,555.3 65.2,610.7 194.3,595.4 170,580 75.4,626.5 130.4,592.2 168.8,602.1 158.5,623.9 107.4,621.9 221.2,617 154.7,583.2 113.8,618.3 269.8,565.6 94.6,608.8 139.4,595.4 104.8,593.3 99.7,608.7 65.2,601.8 109.9,608.2 99.7,617.3 162.4,576 172.6,618.9 134.2,584.7 173.9,588.5 78,607 103.5,618.9 268.5,568.1 113.8,617.8 216.1,585.7 108.7,636.9 65.2,624.1 98.4,596.2 126.6,605.9 130.4,610.9 167.5,595.1 74.1,617.2 130.4,612.3 168.8,584.2 111.2,615.1 136.8,604.2 65.2,631.1 237.8,576.3 266,560.8 109.9,593.9 94.6,620.8 175.2,588 89.5,621.8 92,620.4 90.8,616.8 150.9,591.8 65.2,621 181.6,589.9 246.8,566.5 111.2,605.2 141.9,593.4 133,604.2 101,610 75.4,608 172.6,593.5 115.1,608.1 70.3,625.6 150.9,611.8 112.5,599.9 122.7,604.3 138.1,586.3 130.4,590.4 198.2,581.3 144.5,591.8 92,624.9 94.6,623.3 118.9,596.5 65.2,606.5 107.4,613.8 120.2,599.1 185.4,587.6 125.3,605.2 65.2,616.1 75.4,626.4 212.2,585.5 140.6,589.1 88.2,617.6 104.8,595.9 102.3,609.3 156,604.7 106.1,615.7 147,618.2 108.7,619.6 135.5,601 171.3,597 81.8,597.3 65.2,638.2 140.6,607.9 79.3,613 196.9,573.3 163.7,597.6 161.1,583.3 113.8,605.7 147,596.8 186.7,592.7 286.4,556.5 92,607.5 235.3,577.8 93.3,608.4 153.4,606.1 130.4,578 65.2,632.1 147,580.3 95.9,608.1 89.5,601.2 93.3,611.1 153.4,580.7 199.5,594.5 65.2,616.1 214.8,541.5 121.5,613.5 180.3,574.2 118.9,597 130.4,607.6 213.5,600.5 92,616.1 292.8,517.2 156,600.6 140.6,615.1 152.1,593 167.5,603 125.3,602.7 134.2,607.8 130.4,594.3 115.1,572.3 122.7,615 131.7,633.3 65.2,613.3 117.6,619.3 156,617.8 124,617.2 118.9,615.2 109.9,622.3 217.4,592.4 89.5,595.7 126.6,618.1 139.4,614.5 138.1,603.6 78,596.3 125.3,604.9 223.8,601.1 157.3,575.7 198.2,589.8 106.1,596.4 97.2,611.3 141.9,602.5 78,588.2 89.5,595.6 209.7,573.2 191.8,590.4 191.8,613 76.7,631.5 156,597.6 203.3,585.8 150.9,583.9 98.4,602.8 86.9,598.3 184.1,604.6 191.8,572.6 108.7,625 113.8,617.4 65.2,625.2 173.9,592.7 93.3,617.8 65.2,606.9 104.8,617.2 99.7,571.6 115.1,621.2 154.7,579.9 108.7,608.4 162.4,594 106.1,620.4 106.1,611.9 106.1,598.2 113.8,597.2 130.4,589.8 72.9,611.1 117.6,610.1 135.5,614.1 85.6,600.1 156,601.7 173.9,558.1 111.2,610.5 98.4,609.6 157.3,595.3 187.9,563.7 166.2,611.6 94.6,618.1 65.2,640 102.3,614.2 156,593.5 104.8,607.3 176.4,597 207.1,580.8 130.4,619.3 113.8,620 112.5,598.3 200.7,597.9 127.8,618.7 144.5,604.1 93.3,613.7 85.6,616.2 121.5,593.8 109.9,622 107.4,610.1 156,570 112.5,611.2 223.8,573.1 241.7,574.7 130.4,595 163.7,625.9 88.2,598.8 161.1,594.6 180.3,569.8 78,616.1 157.3,591.7 65.2,610 78,628.1 84.4,614.6 85.6,600.9 127.8,608.6 171.3,586.1 65.2,630.7 72.9,607.5 89.5,603.3 83.1,627.4 120.2,599.8 150.9,605.9 127.8,584.4 65.2,620.1 129.1,615.1 74.1,595.9 145.7,586.9 139.4,607.1 97.2,622 92,598 127.8,602.4 81.8,630.7 75.4,611.4 269.8,526 143.2,607.5 109.9,614.3 131.7,624.5 98.4,599.6 86.9,607.9 122.7,598.3 79.3,604 90.8,585.7 141.9,565.1 154.7,596.6 179,587.7 212.2,578.2 198.2,574.8 164.9,592.6 207.1,580.8 187.9,588.5 97.2,627.8 65.2,593.9 164.9,620.8 331.2,521.1 65.2,616.9 139.4,594.6 267.2,560 65.2,610 65.2,621.7 115.1,619 85.6,610.4 79.3,595.8 90.8,625.3 131.7,623.4 196.9,603.2 181.6,577.8 65.2,616.6 65.2,612.5 147,607.4 122.7,617.4 66.5,615.3 203.3,577.2 116.3,614.7 65.2,615.6 79.3,635.6 134.2,593.3 149.6,602.8 88.2,607.4 101,595.7 65.2,623.8 104.8,622.7 65.2,601.9 95.9,578.3 157.3,599.2 90.8,610 74.1,632.9 161.1,603 143.2,571.9 120.2,587.5 171.3,595.9 208.4,546.4 72.9,619.2 149.6,610.5 65.2,623.7 65.2,616.1 331.2,540.7 200.7,571.8 176.4,598.3 117.6,591.3 130.4,616.1 148.3,593.3 97.2,614.3 101,636.2 65.2,612.9 109.9,626.1 93.3,612.4 204.6,588.7 65.2,608.5 104.8,605.3 94.6,618.4 159.8,594.1 65.2,601.1 65.2,632.6 143.2,598.3 112.5,602.7 199.5,585.3 118.9,608.7 148.3,597.3 235.3,546 200.7,595.4 214.8,580.4 121.5,591.1 94.6,606 65.2,616.5 166.2,606.3 170,587.5 92,603.6 133,608.7 130.4,589.3 163.7,600.4 117.6,605.2 167.5,573.4 113.8,596.3 71.6,591.8 74.1,592 65.2,618.2 139.4,585.9 149.6,591.4 65.2,625.3 74.1,601.2 154.7,618 113.8,626.2 177.7,589.6 113.8,610.1 130.4,587.9 113.8,599.3 84.4,630.4 72.9,613.9 125.3,610.5 122.7,609.1 148.3,600 116.3,589.8 65.2,625.3 108.7,601 95.9,595.5 65.2,627.3 167.5,596.9 115.1,612.7 130.4,609.4 76.7,621.9 92,622.9 90.8,638.4 65.2,617.2 98.4,651 177.7,610.8 135.5,598.9 103.5,600.4 99.7,608.5 144.5,589.8 202,595.4 85.6,642.1 138.1,596.6 136.8,611.2 136.8,592.3 337.6,519.3 126.6,619.9 157.3,584.8 144.5,605.6 93.3,617.9 189.2,591.8 156,590.6 65.2,632.7 90.8,612.7 65.2,621.9 80.5,616.8 115.1,586.7 74.1,628.1 80.5,618.2 81.8,627.5 65.2,607.8 191.8,598.7 93.3,631.3 65.2,621.2 127.8,589.8 226.3,564.4 122.7,599 127.8,608.3 76.7,595.9 212.2,586 72.9,615 135.5,636.7 90.8,645.3 274.9,548.2 205.8,573.7 148.3,590.2 141.9,603.2 65.2,602.3 124,605.5 124,587.6 65.2,608.7 111.2,597.8 99.7,600.9 163.7,588.3 162.4,586.3 134.2,603 103.5,630.5 111.2,599.1 76.7,610 109.9,607.7 78,634.9 117.6,614.7 140.6,631.1 171.3,570.1 71.6,638.7 164.9,595.3 115.1,596.7 209.7,568.8 125.3,603.1 179,577.7 108.7,597.4 166.2,591.1 159.8,602.3 102.3,603.5 75.4,627 103.5,608.3 205.8,581.2 85.6,614.8 75.4,585.5 103.5,612.6 65.2,621.6 133,577.8 171.3,585.4 108.7,594.9 65.2,616.9 181.6,601.1 153.4,598.3 141.9,587.6 147,606.4 248,542.9 234,580.6 163.7,576.1 167.5,596.8 92,603.9 133,589.9 79.3,626.7 148.3,569.3 115.1,619.4 65.2,596 212.2,576.6 127.8,599.3 98.4,599.9 198.2,586.3 65.2,633.8 76.7,610.7 167.5,597.9 111.2,604.3 115.1,607.8 95.9,607.7 249.3,590.3 90.8,613.4 209.7,577.1 115.1,591.1 162.4,592.8 85.6,609.6 171.3,612.2 113.8,619.3 109.9,617.7 90.8,627.7 76.7,623.3 134.2,612.3 136.8,616.5 78,614.6 144.5,599 95.9,608.9 94.6,625 129.1,616.8 179,604.3 85.6,620.3 89.5,601.4 65.2,638.1 93.3,625.4 65.2,600.5 121.5,584 139.4,625.8 127.8,622.8 112.5,611.1 126.6,627.1 139.4,615.2 65.2,597.2 104.8,602.8 65.2,628.6 101,563.3 69,617.8 181.6,588.8 124,617.7 180.3,605.7 209.7,608.9 98.4,603.2 83.1,598.7 149.6,608.6 104.8,602.4 113.8,617.3 260.8,573.8 140.6,610.7 186.7,588.7 175.2,595.7 152.1,630.5 120.2,617.6 140.6,608.1 113.8,611.7 71.6,623 65.2,619.6 131.7,598.2 97.2,623.2 65.2,619.9 107.4,604.3 95.9,603.7 122.7,609.5 157.3,595.1 130.4,605.8 65.2,608.9 107.4,601.3 106.1,648.3 168.8,579.1 65.2,618.8 102.3,617 157.3,566.6 139.4,603.5 65.2,609.1 111.2,621.6 139.4,607 111.2,599.6 116.3,599.7 117.6,601.3 65.2,634.6 79.3,606.6 122.7,599.6 145.7,597.9 70.3,619.7 94.6,610.7 208.4,585.5 125.3,595.7 133,597.8 162.4,593.4 80.5,619 144.5,594.4 86.9,606.7 116.3,608.9 211,564 129.1,598 126.6,596.4 104.8,610.2 107.4,617.9 135.5,599.7 104.8,620.7 99.7,624.1 65.2,623.9 112.5,609.3 69,604.6 153.4,597.4 253.2,551.2 86.9,620.7 124,612.8 117.6,611.9 99.7,615.6 126.6,598.9 157.3,599.2 122.7,598.8 98.4,616 65.2,614.7 134.2,580 89.5,599.4 101,616.2 150.9,601.7 219.9,580.5 113.8,599.9 170,613.9 228.9,567.9 65.2,628.2 126.6,607.9 154.7,599.5 227.6,544.8 65.2,608 168.8,595.4 109.9,610.4 135.5,608 118.9,614.8 162.4,596.8 88.2,624.1 143.2,580.7 89.5,620.2 81.8,610.7 84.4,617.9 143.2,592.5 94.6,634.5 147,561.3 65.2,605.9 118.9,613.6 219.9,552.7 259.6,567.9 102.3,590.2 232.7,565.3 88.2,614.4 180.3,592.7 92,595.2 225,602.4 81.8,613.8 138.1,617.2 116.3,597.7 115.1,607.7 145.7,579.9 81.8,619.3 143.2,591.9 194.3,566.7 125.3,619.8 88.2,606.8 136.8,607.2 101,602.7 76.7,613.6 103.5,605.4 95.9,617.3 103.5,591.2 81.8,624.1 154.7,595.9 236.5,586.5 90.8,610.1 109.9,622.9 117.6,618.3 129.1,597.5 99.7,611.4 118.9,594.5 189.2,571.5 81.8,608.8 93.3,625.9 107.4,590.9 130.4,610.4 196.9,608.9 136.8,632.8 225,552.1 93.3,609.5 117.6,598.5 108.7,596.4 135.5,587.9 153.4,613.8 170,578 204.6,575.6 135.5,586.9 120.2,618.2 121.5,570.7 124,613.6 65.2,614.6 79.3,627.2 99.7,599.1 97.2,616.1 127.8,611.6 202,596.4 141.9,616.7 148.3,613.4 65.2,612.3 108.7,636.2 65.2,614.1 101,624.1 65.2,610.9 65.2,611.6 122.7,606.7 122.7,596.5 129.1,607.1 131.7,593.8 163.7,611.1 65.2,618.7 133,616.4 65.2,646.5 168.8,614.4 107.4,601.1 71.6,602.8 65.2,642.8 86.9,607.4 162.4,606 90.8,594.9 83.1,608 235.3,567.7 94.6,631.4 116.3,606.6 143.2,614.5 127.8,615.9 203.3,603.1 72.9,634.3 195.6,589.6 86.9,618.6 213.5,587.9 75.4,612.7 236.5,578.1 95.9,624.9 179,600.6 89.5,597.3 65.2,607.4 152.1,585.8 79.3,617.8 65.2,601.9 116.3,571.7 101,596.1 126.6,592.4 111.2,605.7 94.6,583.3 122.7,608.6 166.2,589.8 260.8,559.4 148.3,602 185.4,586 315.8,555 171.3,586.5 170,577.7 72.9,608.7 65.2,602.6 161.1,589.5 159.8,600.1 92,615.5 65.2,617.9 124,592.8 90.8,616.6 115.1,610.4 150.9,613.8 65.2,630.2 108.7,633.5 194.3,542.9 198.2,586.2 98.4,612.1 74.1,626.6 167.5,593.9 107.4,616.2 189.2,611.6 115.1,583.3 150.9,595.4 139.4,597.8 164.9,605.9 138.1,597.6 130.4,603.8 129.1,615.9 90.8,628.8 120.2,595.3 93.3,601.6 175.2,606.7 179,558.1 141.9,599.7 120.2,609.6 144.5,599.9 134.2,629.4 111.2,613.4 120.2,607.8 147,586.7 120.2,613.5 92,606.9 94.6,596.8 65.2,610.9 147,603.5 171.3,601.4 93.3,604 97.2,615.8 141.9,575 299.2,553.9 94.6,595.7 246.8,553 184.1,574.2 124,612.3 144.5,603 80.5,591.6 213.5,569.8 118.9,600.3 158.5,593.2 69,605.4 125.3,597.7 134.2,574.7 65.2,636.5 86.9,601.4 198.2,588.9 162.4,588.3 99.7,615.6 124,592.7 109.9,588.4 130.4,591.2 219.9,594.8 107.4,620 107.4,598.1 223.8,581.9 65.2,601.3 107.4,600.1 122.7,600.5 191.8,616.4 65.2,641.1 65.2,603.9 222.5,577.6 99.7,601.5 71.6,639.6 116.3,608.4 116.3,617.1 92,602.9 187.9,585.4 153.4,602.2 139.4,601.5 81.8,613.1 117.6,608.1 116.3,613.6 157.3,596.5 79.3,630.6 71.6,618 127.8,577.8 141.9,604.2 152.1,595.5 140.6,612.8 113.8,603.3 78,615.7 112.5,614 130.4,632.4 145.7,618.9 84.4,618.3 126.6,568.1 145.7,575 301.8,544.6 133,600.1 98.4,638.5 122.7,589.5 199.5,585.8 126.6,623.3 65.2,633 163.7,584.4 139.4,574.4 148.3,580.7 156,601.1 108.7,600.8 159.8,601.8 99.7,625.4 124,606.1 99.7,634.4 208.4,584.2 118.9,603.8 99.7,596.9 78,620.6 156,616.8 65.2,604.9 177.7,574.7 107.4,627.6 89.5,606.8 140.6,598.2 80.5,597 104.8,608.7 187.9,590.1 116.3,596.1 134.2,570.9 116.3,602 65.2,610.5 86.9,599.2 121.5,594.6 104.8,616.2 65.2,639.2 141.9,603.1 65.2,615.5 115.1,605.5 136.8,588.8 86.9,610.2 124,612.7 94.6,618.6 92,610 120.2,612.3 131.7,589.3 92,622.5 65.2,610.9 92,589.1 65.2,623.2 65.2,610.7 74.1,633 156,593.7 115.1,614.6 71.6,617.8 152.1,626.1 78,616.3 78,631.9 103.5,612.8 102.3,610.2 90.8,608.5 157.3,607.9 135.5,609.1 122.7,586.2 158.5,572.3 81.8,611 161.1,603.3 108.7,607 222.5,596.8 111.2,606.4 136.8,603.5 72.9,603.2 65.2,643.9 177.7,594.9 89.5,589.5 134.2,580.2 103.5,612.6 161.1,619.3 127.8,593.1 98.4,623.6 202,567.4 129.1,604.4 269.8,579 101,598 227.6,591.2 65.2,589.6 117.6,608 163.7,592.9 149.6,579.8 94.6,625.6 85.6,599.3 118.9,611.7 89.5,627.7 109.9,601.7 107.4,635.9 70.3,620.7 173.9,584.5 65.2,600.2 168.8,608.9 67.7,625.1 107.4,612.9 65.2,614.2 120.2,630.3 138.1,593.3 164.9,566.6 103.5,621.3 126.6,616.2 93.3,568.9 79.3,600.9 65.2,628.4 222.5,584.4 190.5,614.5 153.4,621.2 86.9,638.1 125.3,609.7 94.6,634.7 103.5,605.9 106.1,612.6 139.4,604.7 161.1,606.1 94.6,606.1 118.9,608.4 108.7,608.5 104.8,609.8 120.2,618.5 147,594.7 118.9,602.9 208.4,570.2 118.9,596 199.5,576.2 109.9,622.5 153.4,605.8 162.4,590.3 124,631.8 89.5,602.4 108.7,582.6 149.6,619.2 145.7,613 139.4,601 139.4,581.5 80.5,596.7 78,620.4 66.5,620.2 143.2,602.8 65.2,607.9 133,604.3 65.2,595.3 209.7,594.8 116.3,604.3 108.7,590.9 92,628.7 157.3,600.9 141.9,587 184.1,590.3 112.5,618.8 112.5,593.3 157.3,605.1 94.6,594.1 107.4,605.3 93.3,619.7 127.8,577.1 171.3,578 134.2,597 113.8,609.5 112.5,591.1 65.2,612.2 189.2,624.2 94.6,614.8 144.5,578.5 179,576.2 133,601 93.3,604.2 127.8,618.5 115.1,605.9 127.8,602.7 83.1,639.1 101,601 127.8,573.6 106.1,588.1 102.3,602.3 101,628.2 65.2,620.1 111.2,596.8 109.9,613.4 171.3,590.4 124,607.4 143.2,579.4 107.4,599.4 106.1,620.2 281.3,580.8 89.5,593.2 72.9,633.1 226.3,567.5 116.3,621.8 172.6,618.3 89.5,604.7 126.6,568.3 111.2,616.2 95.9,628.1 122.7,614.5 140.6,602.5 101,611.1 118.9,611.9 65.2,620.4 204.6,589.5 191.8,613.3 136.8,582.3 92,639.9 204.6,590.5 65.2,637.6 200.7,577.7 65.2,614.2 118.9,602.8 71.6,630.5 144.5,556.4 117.6,612.2 189.2,623.5 152.1,583.8 67.7,611.6 92,618.2 115.1,606.6 135.5,612.8 70.3,626.8 115.1,593.7 115.1,606.6 115.1,589.8 65.2,611 190.5,586.1 189.2,576.9 118.9,615.8 98.4,621.1 164.9,600.8 79.3,620.1 71.6,621.6 166.2,588.1 149.6,580.3 90.8,618.1 127.8,579.8 108.7,618 196.9,589.4 143.2,582.5 136.8,603.3 102.3,617.3 276.2,583.2 81.8,635.7 225,574.3 140.6,585.8 101,611.5 118.9,617.7 80.5,618.5 186.7,586.5 138.1,594.8 120.2,634.6 65.2,618.7 81.8,590.3 126.6,616.6 71.6,612 108.7,607.2 182.8,597.4 65.2,619.1 143.2,601.7 80.5,616.1 135.5,608.5 162.4,617.3 152.1,600.9 140.6,622.6 116.3,625.6 112.5,623.4 118.9,622.3 92,615.6 135.5,591.2 150.9,612.2 76.7,601.4 196.9,587.5 104.8,631.2 149.6,599.5 85.6,598.2 223.8,571.7 99.7,611.2 111.2,606.1 84.4,616.4 70.3,636.6 117.6,589.9 65.2,621.4 118.9,566.8 133,608 66.5,620.2 98.4,616.8 107.4,625 104.8,596.8 157.3,610.4 93.3,640.6 138.1,591.1 121.5,588.6 98.4,600.4 149.6,604.6 65.2,593 112.5,600.9 84.4,637.7 76.7,622.1 84.4,612.4 76.7,612 153.4,604.3 65.2,626.4 195.6,589.6 109.9,628 230.1,567.5 65.2,587 134.2,589 104.8,577.3 65.2,638.9 117.6,608.3 116.3,623.1 75.4,595.1 139.4,615.6 65.2,620.5 107.4,612.4 209.7,570 164.9,586.1 65.2,612.7 79.3,610.2 76.7,607.7 184.1,564.1 107.4,621.7 65.2,640.7 140.6,617.5 65.2,629.1 222.5,576 180.3,597.1 80.5,613.3 75.4,616.4 118.9,598.6 88.2,616.2 141.9,588.7 167.5,608.5 177.7,608.3 277.5,568.5 103.5,593.8 127.8,615.1 167.5,608.2 113.8,598.4 65.2,625.3 196.9,549.7 117.6,616.5 120.2,601.9 158.5,585.8 93.3,589.2 70.3,612.9 65.2,610.4 71.6,604.7 97.2,603.1 134.2,598.6 156,573.8 113.8,611.2 138.1,628 152.1,602.8 133,610.9 134.2,611.7 112.5,604.4 145.7,611.3 204.6,562.6 99.7,613.2 104.8,602.1 106.1,599.8 106.1,625.3 135.5,618.9 65.2,615.5 199.5,588.9 130.4,582.6 135.5,610.6 65.2,614 81.8,630.6 121.5,611.9 189.2,588.6 108.7,605.8 97.2,606.7 150.9,617.9 124,595.1 134.2,614.2 147,604.3 230.1,559.4 152.1,588.8 93.3,618.8 111.2,606.3 182.8,615.6 134.2,588.2 72.9,614.4 194.3,598.2 125.3,616.1 108.7,595.5 65.2,601.5 65.2,622.2 143.2,562.4 113.8,590.3 98.4,604.2 203.3,573.6 65.2,619 65.2,610.1 122.7,638.6 95.9,614.8 131.7,608 99.7,596.3 149.6,601.4 193.1,589.6 104.8,593.6 90.8,616.3 122.7,585.4 148.3,588.4 286.4,538.2 177.7,606 202,601.1 120.2,603.3 101,613 126.6,612.9 115.1,590.1 172.6,608.2 143.2,594.8 70.3,591.1 198.2,566.2 89.5,613.9 161.1,614.9 90.8,600.9 200.7,572.2 115.1,609 115.1,612 116.3,612 117.6,606.6 149.6,605.4 161.1,579.6 152.1,592.4 92,591.6 109.9,592.9 89.5,616.7 166.2,611 136.8,608.5 159.8,617.2 136.8,593.6 135.5,602.8 89.5,611.4 250.6,589.9 70.3,616.4 199.5,586.8 125.3,599.6 138.1,589.4 134.2,596.6 90.8,628.8 150.9,594.7 65.2,604.5 84.4,592.2 69,611.2 99.7,625.2 125.3,627.6 181.6,596.3 230.1,600.9 140.6,614.1 93.3,594.4 67.7,615.1 154.7,600.8 171.3,605.6 71.6,638.4 65.2,620.3 144.5,577.8 136.8,600.6 72.9,579 162.4,586.8 130.4,606.7 124,609.2 94.6,609.1 65.2,616.3 140.6,613 118.9,619.4 161.1,608.2 135.5,593.2 148.3,597.9 144.5,593.4 130.4,607.6 71.6,611.2 232.7,584.5 108.7,618.7 187.9,551.4 65.2,620 65.2,603 78,633.5 115.1,619.8 65.2,623.3 104.8,564.2 204.6,587.8 112.5,619.4 74.1,610.7 67.7,608.4 103.5,622 127.8,585.8 141.9,588.4 149.6,602.1 145.7,559.5 65.2,612.8 318.4,512.7 93.3,598.5 88.2,605.9 196.9,584.1 164.9,622.2 65.2,616.9 112.5,621 108.7,588.1 65.2,614.2 89.5,604.4 69,593.6 167.5,611.3 168.8,599.1 65.2,633.8 161.1,587.4 133,630.1 112.5,612.5 65.2,618.7 104.8,610.1 164.9,600.5 65.2,622.1 187.9,579.8 129.1,615.8 109.9,629.7 65.2,625.1 172.6,589 106.1,602.2 147,602.4 289,552 108.7,608.1 163.7,574.7 65.2,624.8 136.8,620.3 78,608.8 159.8,630.4 85.6,609.1 177.7,565.1 81.8,580.4 99.7,628.6 213.5,572.3 85.6,607.4 136.8,597.2 173.9,576.8 89.5,614.4 94.6,615.2 251.9,551.9 104.8,600.7 65.2,623 198.2,596.4 134.2,618.1 214.8,558.4 143.2,568.6 249.3,546.4 93.3,610.7 65.2,613 227.6,570.5 133,601 133,605.5 74.1,612.2 173.9,587.6 152.1,579.5 84.4,625.4 167.5,593 120.2,576.5 98.4,629.3 65.2,602.6 85.6,623.1 120.2,618.5 111.2,619.3 153.4,614.8 130.4,608.5 175.2,571.2 148.3,600 173.9,590.3 163.7,601.4 170,610.9 102.3,600.6 90.8,615 198.2,595.8 204.6,576.2 65.2,640 117.6,576.9 148.3,616.1 133,621 125.3,608.5 153.4,607.4 65.2,619.1 111.2,601.3 65.2,616.8 190.5,559.5 65.2,598.1 106.1,582.5 106.1,601.2 75.4,615.5 99.7,595.5 136.8,605.5 95.9,605.2 162.4,564.5 319.7,527.1 177.7,613.7 141.9,599.5 182.8,556.6 94.6,586.3 79.3,623.7 209.7,593.4 133,579.4 65.2,622.8 65.2,636.2 127.8,603.7 234,558 138.1,589.1 89.5,603.4 158.5,573.4 65.2,620.3 106.1,596.4 95.9,611.8 78,617.3 109.9,605.2 168.8,586.7 143.2,608.7 133,595.9 131.7,602.3 176.4,585.6 245.5,564.2 149.6,596.9 121.5,571.7 121.5,581.9 109.9,637.3 156,587.2 148.3,593.5 120.2,620.9 97.2,592.9 153.4,596.6 121.5,608.7 147,614.2 116.3,619.4 107.4,615.9 126.6,581.9 103.5,599.3 185.4,575.1 150.9,607.1 120.2,619.7 140.6,591.3 90.8,599.6 115.1,611.7 111.2,607.5 113.8,599 199.5,575.6 112.5,627.1 152.1,596.3 98.4,619.4 168.8,594.9 84.4,596.9 185.4,589.3 164.9,594.1 65.2,616 131.7,594.9 112.5,599.2 186.7,594.4 223.8,577.7 143.2,618.8 127.8,598.8 111.2,615.5 95.9,593.7 106.1,613.3 78,613.2 271.1,557.3 81.8,592.1 138.1,587 129.1,607.8 107.4,637.2 107.4,596.7 170,626.9 97.2,601.6 156,568.3 74.1,616.4 86.9,602.7 121.5,585.9 103.5,596.2 70.3,619.3 195.6,585.9 145.7,591.5 88.2,604.6 223.8,569.4 195.6,596.8 115.1,630.7 79.3,596.2 109.9,589.6 102.3,622.1 102.3,619.3 65.2,640.8 125.3,590.8 65.2,627.9 83.1,597.5 185.4,575.1 150.9,591.7 98.4,598.7 120.2,600.7 95.9,621.8 116.3,602.6 179,597.1 65.2,606.5 83.1,613.6 94.6,618.6 157.3,606.4 97.2,610.4 108.7,585.1 102.3,600.6 153.4,605.5 101,612 99.7,606 86.9,612.9 94.6,619.2 139.4,604 65.2,622.9 97.2,631.8 85.6,617.7 86.9,604.4 138.1,585.5 65.2,622.8 182.8,588.5 75.4,610.3 166.2,587.5 175.2,571.7 166.2,611.7 246.8,579.7 65.2,610.5 145.7,593.8 103.5,587.4 90.8,605.2 262.1,550.7 211,581 103.5,614.8 180.3,576.4 187.9,601.5 134.2,610.7 83.1,637.1 99.7,601.2 75.4,617.9 116.3,613 69,617 86.9,623.5 65.2,631.8 161.1,582.3 94.6,618.2 126.6,608.9 124,596.2 153.4,600.4 212.2,573.1 65.2,626.2 65.2,619.8 140.6,604.5 156,600.4 65.2,637.6 135.5,592.1 164.9,576.4 159.8,619.3 144.5,589.1 184.1,586.5 65.2,614.7 106.1,592.5 71.6,635.3 84.4,621.6 65.2,625.8 163.7,587.6 93.3,605.3 65.2,662.1 180.3,574.4 135.5,603.3 184.1,591.5 150.9,608.7 65.2,647.6 126.6,633.4 141.9,585.5 93.3,597.3 113.8,607.6 113.8,593.1 259.6,548.2 194.3,588 170,611.1 94.6,608.7 106.1,595.1 125.3,593.8 152.1,584.5 125.3,596.6 115.1,597.8 131.7,632.6 190.5,570.6 65.2,602.4 145.7,614.4 111.2,608.3 83.1,609 213.5,576.4 65.2,610.3 143.2,593.1 147,596.8 81.8,596.1 76.7,616.8 135.5,614.9 113.8,589.4 172.6,611.9 111.2,601.2 101,607.6 166.2,576 149.6,584.8 217.4,564.8 131.7,621.4 118.9,625.6 65.2,611.7 97.2,590.6 214.8,582.8 118.9,600 140.6,600 94.6,610.9 138.1,590.3 177.7,590 113.8,592 143.2,613 115.1,597.1 290.2,574.2 93.3,611.2 93.3,604.1 65.2,618.2 170,574.3 93.3,615.3 81.8,634.8 129.1,614.5 65.2,605.4 138.1,621.7 175.2,580.3 162.4,591.3 138.1,607 156,569.2 161.1,592.6 65.2,606.6 118.9,582.2 112.5,604.8 167.5,611.3 158.5,568.3 136.8,580.8 65.2,607.2 141.9,567.8 74.1,614.9 93.3,629.3 80.5,604.4 88.2,647.1 118.9,604.8 112.5,599.5 108.7,586.4 260.8,545.8 101,613.7 65.2,605.7 166.2,570.9 131.7,572.6 144.5,633.4 127.8,597.3 112.5,598 158.5,593.3 95.9,606.7 83.1,595.4 65.2,612.8 104.8,598.7 103.5,601.7 136.8,610.7 189.2,620.5 166.2,615.8 113.8,600.7 129.1,586.7 186.7,600.3 101,601.1 187.9,613.2 111.2,595.4 135.5,595.1 94.6,580.3 180.3,578.2 101,608.2 76.7,625 98.4,611.2 90.8,630 139.4,599.7 158.5,585.1 117.6,603.1 98.4,619.2 65.2,619.1 171.3,551.2 136.8,607.1 127.8,611.8 156,614.6 154.7,578.8 101,619.9 121.5,605.7 98.4,617.7 124,615.9 167.5,604.4 182.8,589.4 130.4,607.7 111.2,594.8 90.8,607.2 109.9,621.1 92,622.6 156,592.4 103.5,622.8 108.7,581.7 83.1,615.7 138.1,612.8 101,623.1 79.3,629 93.3,607.5 207.1,580.9 159.8,602.8 116.3,624.2 144.5,589 187.9,564.8 147,606 65.2,589.6 194.3,591.5 212.2,587.2 250.6,557.3 153.4,615.7 157.3,598.8 130.4,590.9 185.4,564.3 121.5,597.4 92,605.1 95.9,640.7 84.4,599.2 98.4,598.6 104.8,588.3 70.3,619.6 158.5,574.4 185.4,592.6 103.5,626.3 152.1,593.1 157.3,589.1 65.2,631.2 120.2,602.9 115.1,598.1 140.6,563.7 161.1,587.7 159.8,604.1 177.7,600.4 107.4,607.5 140.6,608.2 103.5,610.9 121.5,621.7 257,546 282.6,563.8 117.6,603.1 140.6,595.7 111.2,608.2 158.5,609.1 102.3,588.4 101,613.8 109.9,582.6 112.5,594.9 118.9,614 67.7,627.9 214.8,590.5 134.2,603 219.9,569.9 173.9,578.8 157.3,585.9 93.3,610.3 104.8,628.3 170,594.5 138.1,597.2 102.3,614.2 186.7,600.5 95.9,599.6 145.7,605.4 99.7,596.2 111.2,623.8 139.4,582 163.7,616.9 130.4,623.6 76.7,629.3 66.5,630.5 172.6,581.8 122.7,606.2 112.5,596.6 122.7,600.8 217.4,599.8 99.7,584 90.8,595.9 185.4,587.4 84.4,602.6 76.7,606.9 140.6,612.4 124,603.8 129.1,586.2 121.5,608.1 121.5,616.2 158.5,603.6 164.9,604.2 166.2,590.6 84.4,592.9 173.9,568.1 147,601.5 109.9,617.5 125.3,604.6 267.2,552.4 116.3,611.1 104.8,618.5 79.3,623.5 120.2,609 127.8,603.8 65.2,603.1 99.7,624.4 95.9,605.6 98.4,620 125.3,611.2 140.6,608.2 138.1,596.3 124,609 191.8,586.1 134.2,596.6 193.1,610.7 122.7,620.2 65.2,601.1 258.3,592.2 112.5,599.6 90.8,606.9 227.6,594.2 162.4,601.2 121.5,579.7 116.3,617 65.2,618.6 65.2,620.3 97.2,601.5 203.3,562.9 167.5,562.4 103.5,594.1 69,618.3 79.3,612.3 133,605.5 211,576.7 95.9,608.3 117.6,612.5 124,615.4 147,608.5 117.6,619.8 108.7,604.5 138.1,596 118.9,615 101,603.6 117.6,595.4 108.7,602.3 113.8,607.7 124,601.7 75.4,596.5 163.7,590.7 80.5,627.4 75.4,610.8 150.9,594.4 125.3,593 80.5,599 97.2,617.5 168.8,598.1 124,599.9 65.2,597.3 65.2,626.5 140.6,582 133,583.7 153.4,594.5 127.8,574.5 125.3,613.7 65.2,615.6 152.1,625 124,624.4 65.2,608.4 94.6,611.4 211,588.6 171.3,543.8 194.3,563.3 138.1,591.5 131.7,610.5 148.3,577 85.6,579.2 92,612.9 65.2,596.7 80.5,616.6 65.2,606.1 122.7,625.5 111.2,594.3 65.2,627.2 162.4,592.4 127.8,595.5 153.4,614.5 65.2,628.7 83.1,600.6 65.2,598.6 134.2,615.7 135.5,593.7 191.8,597.2 118.9,616 86.9,594.2 190.5,599.9 133,611.5 180.3,600.9 65.2,632.8 120.2,629.3 149.6,584.8 186.7,601 253.2,571.2 118.9,608.7 98.4,603.2 138.1,578.7 101,616 107.4,563 84.4,600.8 108.7,590.4 127.8,622.7 120.2,619.7 145.7,613.6 115.1,628.9 115.1,614.3 164.9,603.1 113.8,614.1 65.2,635.9 112.5,623.7 108.7,600.4 93.3,597.7 139.4,619.4 65.2,609.2 102.3,608.2 143.2,603.9 121.5,574.7 237.8,555.3 118.9,599.4 147,604.1 112.5,604 98.4,633.3 85.6,607.4 99.7,623.8 235.3,574.3 86.9,622.4 78,628 84.4,615.4 83.1,626.7 115.1,599 232.7,591.1 118.9,584.9 83.1,607.1 170,583.3 204.6,582 65.2,628.5 65.2,633.4 99.7,606.1 78,603 83.1,591.5 120.2,603.1 228.9,572.3 230.1,568.7 173.9,615.8 240.4,549.1 76.7,609.5 157.3,593.6 90.8,615.6 90.8,635.1 129.1,597.7 141.9,585.8 99.7,583.9 131.7,583.5 76.7,641.5 65.2,634.4 130.4,612.8 99.7,631.5 122.7,617.7 95.9,585.3 85.6,604.2 103.5,627.2 133,642 126.6,589 149.6,613.4 138.1,572.4 74.1,614.1 139.4,609.2 222.5,588.9 200.7,563.4 173.9,579 94.6,617.1 65.2,614 250.6,564.3 112.5,592.7 107.4,626.5 129.1,587 129.1,597.9 116.3,611.3 130.4,592.6 94.6,576.8 167.5,599.7 79.3,596.6 250.6,572.1 177.7,588.2 125.3,602.3 202,578.5 156,593.4 65.2,631.3 115.1,614.5 65.2,626.7 196.9,585 125.3,593.8 125.3,610 117.6,595.6 121.5,614.1 95.9,595.7 149.6,621.1 130.4,622.2 112.5,592.4 139.4,582.5 65.2,642.1 274.9,565.3 81.8,597.9 179,587.4 109.9,627.8 153.4,588.2 117.6,605.9 180.3,586.2 65.2,622.1 65.2,604.9 211,589.7 98.4,601.6 112.5,607 231.4,566.9 121.5,589.4 118.9,619.9 102.3,614.1 92,610 130.4,599.9 173.9,580.1 101,626.8 78,621.2 113.8,602.3 127.8,600.1 103.5,626.6 156,594.1 103.5,590.6 90.8,600.9 163.7,599.6 107.4,604.3 88.2,620.6 117.6,586.8 208.4,560.2 118.9,603.4 126.6,614.4 102.3,597.6 72.9,609.2 164.9,616.8 194.3,599.5 179,580.6 161.1,589.6 150.9,619.1 167.5,620 125.3,608 144.5,598.8 102.3,618.5 122.7,590 65.2,623.4 117.6,615.4 95.9,607.7 99.7,601.9 81.8,649.9 80.5,622.7 143.2,632.2 95.9,575.5 141.9,618.9 78,627.3 65.2,601.9 65.2,623.3 180.3,581.5 94.6,615.9 97.2,638.1 161.1,591.2 90.8,588.8 199.5,590.9 227.6,602.1 65.2,630.1 127.8,609.8 72.9,594.2 159.8,543.9 112.5,633.2 121.5,594 158.5,604.7 65.2,614.8 126.6,574.5 90.8,606.7 107.4,599.5 90.8,615.5 98.4,598.6 175.2,593 231.4,562.3 76.7,633 72.9,600.7 98.4,595.6 93.3,596.5 144.5,620.7 99.7,606.7 141.9,611.5 157.3,609.7 124,583.7 117.6,613.2 70.3,624 231.4,591.1 99.7,634 65.2,613 65.2,613.9 90.8,601.6 90.8,602.4 135.5,603.8 118.9,608.7 86.9,609.3 191.8,563.3 264.7,554.8 65.2,626.6 120.2,610.7 90.8,612.7 65.2,633.6 120.2,618.3 83.1,621.8 120.2,597 88.2,620.3 85.6,603.9 113.8,606.5 179,602.8 70.3,603.8 168.8,579.9 90.8,609.6 150.9,586.8 94.6,605.1 241.7,566.8 156,605.2 157.3,601.4 65.2,643.4 227.6,570.2 65.2,605.8 65.2,619.5 92,627.1 106.1,615.6 144.5,610.7 139.4,602.5 148.3,615.3 141.9,625.3 216.1,592.8 115.1,617.2 150.9,587.5 134.2,587.3 101,611.5 65.2,610.2 223.8,569.2 129.1,595.3 88.2,610.8 65.2,619.4 102.3,609.1 116.3,605.8 65.2,638.1 216.1,560.8 161.1,601 65.2,614.6 120.2,604.2 121.5,580.4 129.1,592 107.4,615.6 149.6,588.3 95.9,594.9 89.5,612.8 111.2,610.2 65.2,588.7 149.6,595.1 115.1,628.5 78,597.2 94.6,619.1 65.2,599.2 180.3,595.3 200.7,577.6 122.7,604.9 92,602.5 71.6,609 65.2,593.2 92,617.3 139.4,600.5 129.1,584.6 99.7,592.7 74.1,612.6 99.7,604.3 133,605.8 125.3,582.2 76.7,613.9 65.2,623.8 153.4,564.9 111.2,580.4 103.5,584.8 103.5,590.1 129.1,576.6 122.7,621 65.2,599.7 97.2,588.9 118.9,620.1 65.2,612.6 106.1,619.5 103.5,603 193.1,599 108.7,622.6 122.7,615.4 232.7,564.7 258.3,562.2 107.4,635.5 263.4,561.9 72.9,615 112.5,594.5 127.8,616.5 133,584.6 196.9,573.4 213.5,566.9 156,607.4 88.2,607.5 134.2,570.4 271.1,576.6 98.4,585.3 65.2,618.6 161.1,603 181.6,575.6 71.6,605.5 154.7,598.7 127.8,612.5 65.2,599.9 214.8,586.7 231.4,581.1 126.6,602.5 113.8,596.9 112.5,600.4 115.1,593.7 112.5,577.2 75.4,621.3 196.9,565.5 65.2,608.5 127.8,612.5 118.9,590.2 109.9,604.3 65.2,634.6 98.4,612.2 99.7,612.2 121.5,579.1 94.6,616.1 124,615.2 117.6,588.8 138.1,593.4 75.4,593 191.8,575.7 331.2,537.8 90.8,629.4 65.2,602.1 98.4,622.4 108.7,613.5 109.9,602.6 145.7,616.6 124,626 84.4,619.8 98.4,623 124,597.2 88.2,590.5 107.4,597 149.6,590 99.7,586 180.3,585.9 225,580.3 263.4,548.2"/>
<polyline fill="none" stroke="none" marker-start="url(#mp)" marker-mid="url(#mp)" marker-end="url(#mp)" points="136.8,580.5 104.8,592.1 78,597.6 98.4,606.7 94.6,591.7 130.4,612.2 115.1,587.4 291.5,514.5 172.6,583.7 65.2,621.6 141.9,617.9 76.7,605.4 65.2,614.1 92,599.5 65.2,617.2 65.2,623.5 65.2,617.3 115.1,573.8 65.2,611.7 65.2,630.3 95.9,613.7 101,622.6 159.8,572.5 107.4,611.9 111.2,569.6 199.5,570.5 65.2,600.2 150.9,565.1 99.7,610.6 65.2,611.8 118.9,606.9 182.8,562 162.4,585.8 219.9,568.8 158.5,568.1 113.8,590.8 95.9,605.3 140.6,607.8 177.7,575.6 65.2,636.6 85.6,594.7 145.7,582 145.7,568.4 144.5,570.9 133,584.9 65.2,619.7 84.4,599.3 109.9,603.6 65.2,611.9 141.9,585.3 126.6,608 65.2,599.1 74.1,589 143.2,599.9 102.3,598 133,595.4 181.6,562.7 90.8,606.1 76.7,604.9 152.1,602.3 103.5,598 92,607.4 65.2,588.7 141.9,577.7 94.6,624.6 136.8,597.5 156,574.4 134.2,591.8 291.5,528.6 93.3,616.6 67.7,625.5 74.1,606.9 126.6,603.3 112.5,598.7 134.2,584.1 138.1,593.3 83.1,621.9 304.3,512 72.9,594.5 116.3,599.3 234,569 65.2,613.2 144.5,569.5 95.9,619.2 80.5,617.5 67.7,598.2 196.9,591.5 202,581.9 65.2,613.2 65.2,620 108.7,603.9 130.4,604.1 65.2,615.4 103.5,615.4 65.2,628.6 95.9,589.2 156,595.7 107.4,601.3 65.2,597.7 65.2,620.2 95.9,591.4 65.2,632.1 199.5,564 66.5,627.8 79.3,618.1 158.5,599.5 115.1,619 158.5,591.7 103.5,584.1 121.5,601.7 319.7,517.3 126.6,614.9 107.4,597.8 65.2,617.6 181.6,582.7 65.2,608.5 90.8,585.6 65.2,606.3 85.6,597 76.7,619.1 257,516.4 181.6,570.4 216.1,556.5 74.1,585.1 85.6,593.5 159.8,577.4 78,624.6 217.4,592.3 90.8,585.6 90.8,596.1 65.2,598.7 112.5,625.8 108.7,570.5 159.8,563 65.2,626 104.8,574.6 111.2,619.3 94.6,595.7 97.2,614.2 81.8,607.9 101,601.7 102.3,608.4 158.5,593.9 145.7,568.2 156,592.8 78,617.8 131.7,587 79.3,604.6 85.6,598.1 65.2,610.9 65.2,600.4 88.2,586.1 89.5,601.5 88.2,588 76.7,602.6 86.9,596.3 80.5,594.9 104.8,604.9 67.7,612.5 135.5,583.7 138.1,581.3 76.7,618.5 76.7,632.1 121.5,618.3 159.8,590.4 162.4,569.3 65.2,605.7 149.6,571 65.2,621.1 147,580 125.3,606.1 181.6,548.7 152.1,583 153.4,570.7 176.4,583.5 109.9,626.4 268.5,577.2 90.8,605.1 65.2,613.9 107.4,585.9 144.5,589.4 65.2,636.1 106.1,604.3 139.4,614.1 99.7,591.4 86.9,602.8 124,597.2 205.8,568.6 86.9,617.7 108.7,609.3 86.9,597.4 120.2,612.4 65.2,636.6 209.7,564.3 102.3,608.5 147,579.7 97.2,585.9 78,594.4 216.1,570.1 99.7,589 158.5,580.8 269.8,534.5 202,562.8 167.5,594.9 158.5,575.3 125.3,604.4 80.5,602.8 90.8,631.2 309.4,532.3 99.7,606.6 109.9,608.2 115.1,593.3 84.4,617.8 129.1,615.2 72.9,605.5 166.2,603.2 139.4,572.1 118.9,592.2 65.2,612.8 130.4,610.3 136.8,580.1 69,600.5 65.2,614.1 79.3,583 66.5,623 99.7,616.6 117.6,583.6 65.2,613.5 75.4,610.7 147,592.8 79.3,604 135.5,599.1 65.2,626.7 101,620.4 78,625.9 230.1,550.7 65.2,628.3 92,622.6 86.9,597.8 149.6,583.1 83.1,621.3 242.9,543.8 115.1,595.2 65.2,591.8 65.2,614.3 141.9,587.5 108.7,586.7 65.2,610.1 125.3,612.6 133,564 94.6,598.1 241.7,560.3 98.4,617.3 65.2,605 78,621.1 125.3,609.5 113.8,570.9 65.2,612.8 131.7,582 65.2,623.2 109.9,622.3 69,624.8 85.6,592 67.7,621.3 149.6,578 124,587 148.3,581.3 65.2,621.4 83.1,605.9 172.6,593.7 90.8,596.8 124,590.7 141.9,570.6 80.5,614.2 65.2,621.8 65.2,613.3 120.2,595.6 78,624.8 71.6,619.9 93.3,605.4 65.2,622.4 81.8,594.5 189.2,564.8 126.6,590.3 83.1,610.1 122.7,596 74.1,600.8 161.1,573.5 139.4,602 65.2,603.5 94.6,582.9 99.7,605.7 126.6,562.5 65.2,612 86.9,628.7 65.2,608.2 131.7,604 140.6,558.6 65.2,632.7 72.9,608.3 65.2,617.2 65.2,614.3 120.2,595.2 65.2,605.2 83.1,605.7 65.2,600.4 65.2,595.6 125.3,605.8 79.3,596.8 65.2,609.8 244.2,529.4 95.9,605.4 134.2,593.2 162.4,600.5 65.2,622 253.2,503.7 281.3,548.8 212.2,595.2 88.2,619.8 89.5,609.9 65.2,626.4 76.7,605.2 131.7,605.7 121.5,588 186.7,592.3 75.4,639.4 186.7,594.3 154.7,585.6 189.2,575.4 95.9,599.5 65.2,621.3 85.6,601.6 65.2,601.7 65.2,611.9 67.7,609.1 70.3,618.8 130.4,596 65.2,613.9 112.5,596.6 232.7,580.2 94.6,610.2 130.4,616.6 65.2,607 65.2,627.9 65.2,640.6 76.7,606.6 107.4,606.9 124,579.3 113.8,586.3 85.6,620.1 101,594.1 65.2,619.5 107.4,621.5 200.7,588.9 65.2,620.1 65.2,633.3 199.5,574.5 65.2,608.9 76.7,605.5 147,600.9 93.3,610.4 74.1,595.5 90.8,602.5 95.9,614.5 120.2,614.2 167.5,562.8 78,616.8 65.2,593.6 65.2,611.9 116.3,607.1 99.7,584.7 106.1,591.1 186.7,574.4 195.6,589 65.2,608.6 107.4,605.1 79.3,609.1 65.2,622 115.1,615.1 98.4,586.4 140.6,579.2 65.2,633.2 65.2,610.6 102.3,585.2 109.9,593.5 65.2,611.5 113.8,593.7 103.5,606.9 116.3,577.9 93.3,598.6 118.9,577.9 109.9,597.4 218.6,544.8 80.5,612.2 158.5,586.6 158.5,564.6 226.3,573.7 111.2,599.2 168.8,583.7 97.2,603 191.8,572.6 92,604.2 130.4,602.3 65.2,629.3 199.5,572.9 176.4,580.9 65.2,617.3 65.2,611.3 127.8,580.2 76.7,623.2 93.3,616.1 65.2,623.8 65.2,613.5 181.6,558.2 190.5,558.2 74.1,617.8 107.4,612.4 107.4,588.7 80.5,611.1 216.1,555.4 162.4,574.8 157.3,594.2 75.4,618.9 65.2,633.2 81.8,608.9 65.2,611.1 80.5,604.9 259.6,527.7 108.7,568.1 143.2,572 65.2,601.7 138.1,556.3 94.6,594.8 79.3,609.3 65.2,627.3 66.5,604.6 104.8,610.8 65.2,615.1 116.3,607.6 148.3,598 125.3,569.9 149.6,586.9 88.2,594.8 65.2,625.6 65.2,612.5 76.7,603.7 65.2,607 101,599.3 76.7,605.9 101,609.5 93.3,613 90.8,612 76.7,602.9 193.1,554.6 76.7,606.1 94.6,607.4 65.2,613 181.6,581.7 103.5,600.6 70.3,603.7 218.6,575.5 124,603.6 122.7,592.6 65.2,614 65.2,631.6 138.1,604.2 70.3,633.6 86.9,597.9 156,582.6 98.4,594.8 65.2,610.1 98.4,597 113.8,595.5 85.6,607.2 84.4,595.8 101,597 76.7,593.1 120.2,587.9 75.4,607.5 65.2,618.2 65.2,617.3 120.2,610.8 65.2,609.2 138.1,598 65.2,617.6 65.2,630.9 115.1,590.5 80.5,626.2 140.6,583.1 107.4,591.6 65.2,621.5 65.2,636.5 65.2,613.8 131.7,586.9 147,584.1 85.6,641.2 162.4,574.5 117.6,618.5 65.2,598.3 78,591.3 106.1,617.8 186.7,574.4 79.3,589.3 69,623 116.3,594.6 65.2,615.2 129.1,586.8 130.4,581.8 65.2,633.1 92,614 69,598.5 71.6,613.4 70.3,606.8 83.1,611.5 93.3,589.4 124,582.8 218.6,559.3 118.9,602.4 190.5,555.4 65.2,613.4 138.1,564.1 99.7,588.5 127.8,590.7 143.2,584.5 134.2,593.3 93.3,589.5 65.2,623.9 161.1,588.5 200.7,568.2 65.2,610.2 108.7,593.2 95.9,628.5 90.8,603.9 86.9,622.2 70.3,617.4 213.5,564.7 202,569.6 97.2,584.3 69,608.1 136.8,573.8 65.2,616.2 189.2,601.4 65.2,618.8 213.5,555.6 103.5,577.1 65.2,623.1 133,570.8 66.5,622.7 65.2,612.7 124,602.9 122.7,597.2 209.7,558.5 125.3,593.8 118.9,592.5 84.4,596.3 83.1,609.6 111.2,595.1 80.5,618.8 65.2,604.4 65.2,598.9 67.7,646.6 93.3,608.6 83.1,605.5 175.2,566.9 127.8,602 85.6,617.6 65.2,628.3 136.8,585 65.2,599.4 98.4,608.3 71.6,617.3 140.6,584 246.8,532.5 65.2,612.6 65.2,627.7 118.9,608.8 86.9,589.9 237.8,565.2 65.2,610.4 136.8,578.8 140.6,579.4 74.1,603.1 179,594 102.3,597.7 85.6,618.8 117.6,588.4 117.6,595.5 65.2,611.9 104.8,589.8 136.8,572.9 72.9,613.8 124,568.3 65.2,614.4 86.9,598.1 84.4,606.6 126.6,594.4 181.6,572.3 65.2,613.3 65.2,613.6 129.1,599.8 120.2,585.8 186.7,570.7 106.1,613 65.2,627.6 65.2,617.7 280,527.9 231.4,553.2 129.1,581.3 65.2,610.7 116.3,571.5 94.6,601.8 85.6,644.7 71.6,617.5 65.2,627.3 101,587.8 65.2,617 65.2,599.4 88.2,601.8 65.2,624 65.2,601.4 107.4,601.8 153.4,609 65.2,632 79.3,623 79.3,622.8 126.6,586.5 149.6,578.7 65.2,615.7 179,565.9 65.2,609.8 80.5,599.1 232.7,547.9 69,601.8 129.1,621.3 98.4,610.9 157.3,564 99.7,599.9 70.3,618.1 65.2,613.7 147,592 112.5,595.8 86.9,591.2 65.2,618.5 149.6,584.3 86.9,600.6 153.4,587.1 95.9,607 112.5,599.8 109.9,591.8 89.5,610.9 121.5,610.6 139.4,603.8 276.2,553.6 65.2,616.3 84.4,581.2 83.1,597 139.4,597.9 108.7,593.9 118.9,574.8 120.2,597.4 202,575.4 98.4,615.9 67.7,614.7 251.9,550.9 185.4,587.8 99.7,600.6 84.4,606.9 65.2,626.8 170,578.6 71.6,615.5 107.4,625.6 65.2,639.8 85.6,606.5 126.6,620.3 196.9,562 186.7,570.5 131.7,589 97.2,609.4 97.2,605.4 190.5,596.9 65.2,613.4 99.7,618.8 122.7,594.3 112.5,600.8 135.5,578.3 177.7,581.9 72.9,590.9 65.2,620.3 94.6,599.5 108.7,591.7 65.2,603.4 130.4,606.6 65.2,603 113.8,607.4 108.7,602.5 93.3,602.5 67.7,605.2 65.2,611.2 115.1,589 65.2,622.6 89.5,585.2 85.6,628.8 106.1,605 65.2,619.3 65.2,601.2 161.1,576.6 120.2,604.7 112.5,600.7 65.2,612.2 89.5,609.9 95.9,595.4 177.7,562.9 65.2,615.1 85.6,614.5 202,594.6 84.4,606.5 65.2,614.6 121.5,617.4 140.6,606.5 139.4,604.6 65.2,630.8 115.1,581.9 118.9,594.1 78,623.6 78,607.4 65.2,602.4 74.1,604.1 109.9,601.9 126.6,591.4 99.7,599.8 78,614.2 65.2,619.1 67.7,606.9 65.2,599.9 72.9,620 80.5,590.7 65.2,621.5 109.9,620 102.3,594 182.8,595.1 122.7,596 90.8,603.2 109.9,594.6 69,603.9 65.2,613.8 143.2,583.2 67.7,611.1 134.2,588 65.2,610.7 182.8,573.7 138.1,597.9 145.7,584.9 112.5,611.9 184.1,562 65.2,592.9 65.2,605.6 315.8,522.4 66.5,599 76.7,606.8 99.7,591 94.6,604.9 75.4,601.8 65.2,594.2 83.1,600.7 143.2,574 65.2,625.5 157.3,605.4 200.7,576.6 65.2,618.1 65.2,616 65.2,611.5 191.8,562.9 175.2,560.3 125.3,608.6 83.1,605.8 109.9,594.8 207.1,573.9 104.8,591.3 65.2,615.6 184.1,573.7 107.4,612.7 148.3,560.3 189.2,575.3 65.2,611.6 84.4,622.9 65.2,628.7 108.7,599.3 95.9,610.6 65.2,619.6 111.2,609.6 98.4,618.5 131.7,590.6 65.2,606.8 65.2,611 121.5,610.4 65.2,618.4 65.2,607.3 65.2,588.8 102.3,619.2 65.2,624.6 120.2,587.3 208.4,561 195.6,590.3 65.2,607.7 78,598.5 126.6,574.4 157.3,594.2 170,577.6 98.4,613.1 85.6,595.2 120.2,609.1 116.3,587.8 139.4,587.1 131.7,571.2 234,550.9 117.6,623 65.2,601.9 124,590 148.3,608 65.2,622.6 112.5,602.9 65.2,603.1 140.6,586.4 80.5,582.4 65.2,602.6 93.3,611.3 122.7,610.8 150.9,586.6 65.2,621.2 65.2,603.5 140.6,603.6 103.5,588.9 69,610.4 241.7,568.1 65.2,593.5 130.4,592.2 65.2,616.1 116.3,603.1 74.1,605.8 65.2,620.3 198.2,572.1 221.2,572.6 111.2,597.6 76.7,590.1 118.9,603.4 65.2,616 65.2,615.3 106.1,608 72.9,586.7 71.6,625 111.2,598.6 164.9,601.9 102.3,625.4 71.6,599 106.1,623.4 65.2,601.3 116.3,587.9 65.2,612.2 65.2,603.2 162.4,579.8 65.2,622.3 88.2,593.4 117.6,570.6 65.2,617.8 80.5,613.5 131.7,604.6 158.5,579.8 89.5,603.5 78,616.8 65.2,599.7 130.4,597.4 143.2,577.2 70.3,601.4 104.8,593.6 180.3,573.3 78,621.1 93.3,589.2 124,602.8 92,588.3 99.7,609.4 65.2,595.8 65.2,628.2 65.2,603.8 85.6,609.6 70.3,620.9 115.1,607.6 111.2,575.5 228.9,553.9 222.5,567.8 75.4,601.2 126.6,589 88.2,618.5 118.9,609.1 90.8,604.2 65.2,611.3 84.4,589.4 297.9,525.3 78,607.2 65.2,616.4 65.2,598.4 131.7,608.8 126.6,589.3 84.4,613.4 127.8,601.8 113.8,598.7 107.4,599.5 136.8,597.8 162.4,570.4 75.4,603.9 93.3,598.6 167.5,579.1 65.2,602.1 65.2,618.7 199.5,573.3 115.1,587.8 101,595.2 65.2,625.4 65.2,629.4 65.2,616.6 117.6,600.8 152.1,575 150.9,581.7 65.2,606.9 109.9,594.6 125.3,567.8 65.2,604.6 85.6,600.3 65.2,602.6 108.7,607.6 66.5,619.6 141.9,587.6 90.8,597.9 65.2,601.3 196.9,562.2 83.1,602.5 93.3,611.6 101,606.2 127.8,585.4 92,612 107.4,588.9 113.8,601.4 78,622.9 126.6,600.3 149.6,580.9 65.2,620.9 92,616.7 127.8,601 186.7,584.3 126.6,576.3 107.4,597.9"/>
<line x1="65.2" y1="620.6" x2="462.9" y2="513.3" stroke="#000000" stroke-width="1.4"/>
<line x1="65.2" y1="623.4" x2="462.9" y2="519.8" stroke="#0000ff" stroke-width="1.4"/>
<line x1="65.2" y1="620.5" x2="342.7" y2="544.3" stroke="#ff0000" stroke-width="1.4"/>
<line x1="65.2" y1="619.3" x2="327.3" y2="528.6" stroke="#a020f0" stroke-width="1.4"/>
</g>
<rect x="52.4" y="474.9" width="460.35" height="185.1" fill="none" stroke="#333" stroke-width="1.5"/>
<path d="M52.4,660.00h9M512.75,660.00h-9M52.4,655.37h4.6M512.75,655.37h-4.6M52.4,650.75h4.6M512.75,650.75h-4.6M52.4,646.12h4.6M512.75,646.12h-4.6M52.4,641.49h4.6M512.75,641.49h-4.6M52.4,636.86h4.6M512.75,636.86h-4.6M52.4,632.23h4.6M512.75,632.23h-4.6M52.4,627.61h4.6M512.75,627.61h-4.6M52.4,622.98h4.6M512.75,622.98h-4.6M52.4,618.35h4.6M512.75,618.35h-4.6M52.4,613.72h9M512.75,613.72h-9M52.4,609.10h4.6M512.75,609.10h-4.6M52.4,604.47h4.6M512.75,604.47h-4.6M52.4,599.84h4.6M512.75,599.84h-4.6M52.4,595.21h4.6M512.75,595.21h-4.6M52.4,590.59h4.6M512.75,590.59h-4.6M52.4,585.96h4.6M512.75,585.96h-4.6M52.4,581.33h4.6M512.75,581.33h-4.6M52.4,576.70h4.6M512.75,576.70h-4.6M52.4,572.08h4.6M512.75,572.08h-4.6M52.4,567.45h9M512.75,567.45h-9M52.4,562.82h4.6M512.75,562.82h-4.6M52.4,558.19h4.6M512.75,558.19h-4.6M52.4,553.57h4.6M512.75,553.57h-4.6M52.4,548.94h4.6M512.75,548.94h-4.6M52.4,544.31h4.6M512.75,544.31h-4.6M52.4,539.68h4.6M512.75,539.68h-4.6M52.4,535.06h4.6M512.75,535.06h-4.6M52.4,530.43h4.6M512.75,530.43h-4.6M52.4,525.80h4.6M512.75,525.80h-4.6M52.4,521.17h9M512.75,521.17h-9M52.4,516.55h4.6M512.75,516.55h-4.6M52.4,511.92h4.6M512.75,511.92h-4.6M52.4,507.29h4.6M512.75,507.29h-4.6M52.4,502.66h4.6M512.75,502.66h-4.6M52.4,498.04h4.6M512.75,498.04h-4.6M52.4,493.41h4.6M512.75,493.41h-4.6M52.4,488.78h4.6M512.75,488.78h-4.6M52.4,484.15h4.6M512.75,484.15h-4.6M52.4,479.53h4.6M512.75,479.53h-4.6M52.4,474.90h9M512.75,474.90h-9M52.40,660.0v-4.6M52.40,474.9v4.6M65.19,660.0v-9M65.19,474.9v9M77.97,660.0v-4.6M77.97,474.9v4.6M90.76,660.0v-4.6M90.76,474.9v4.6M103.55,660.0v-4.6M103.55,474.9v4.6M116.34,660.0v-4.6M116.34,474.9v4.6M129.12,660.0v-4.6M129.12,474.9v4.6M141.91,660.0v-4.6M141.91,474.9v4.6M154.70,660.0v-4.6M154.70,474.9v4.6M167.49,660.0v-4.6M167.49,474.9v4.6M180.28,660.0v-4.6M180.28,474.9v4.6M193.06,660.0v-9M193.06,474.9v9M205.85,660.0v-4.6M205.85,474.9v4.6M218.64,660.0v-4.6M218.64,474.9v4.6M231.43,660.0v-4.6M231.43,474.9v4.6M244.21,660.0v-4.6M244.21,474.9v4.6M257.00,660.0v-4.6M257.00,474.9v4.6M269.79,660.0v-4.6M269.79,474.9v4.6M282.57,660.0v-4.6M282.57,474.9v4.6M295.36,660.0v-4.6M295.36,474.9v4.6M308.15,660.0v-4.6M308.15,474.9v4.6M320.94,660.0v-9M320.94,474.9v9M333.73,660.0v-4.6M333.73,474.9v4.6M346.51,660.0v-4.6M346.51,474.9v4.6M359.30,660.0v-4.6M359.30,474.9v4.6M372.09,660.0v-4.6M372.09,474.9v4.6M384.88,660.0v-4.6M384.88,474.9v4.6M397.66,660.0v-4.6M397.66,474.9v4.6M410.45,660.0v-4.6M410.45,474.9v4.6M423.24,660.0v-4.6M423.24,474.9v4.6M436.03,660.0v-4.6M436.03,474.9v4.6M448.81,660.0v-9M448.81,474.9v9M461.60,660.0v-4.6M461.60,474.9v4.6M474.39,660.0v-4.6M474.39,474.9v4.6M487.18,660.0v-4.6M487.18,474.9v4.6M499.96,660.0v-4.6M499.96,474.9v4.6M512.75,660.0v-4.6M512.75,474.9v4.6" stroke="#111" stroke-width="1.1" fill="none"/>
<text x="46.4" y="660.3" font-size="16" text-anchor="end" class="t">−<tspan dx="2.4">1</tspan></text>
<text x="46.4" y="620.0" font-size="16" text-anchor="end" class="t">0</text>
<text x="46.4" y="573.7" font-size="16" text-anchor="end" class="t">1</text>
<text x="46.4" y="527.5" font-size="16" text-anchor="end" class="t">2</text>
<text x="46.4" y="485.5" font-size="16" text-anchor="end" class="t">3</text>
<text x="65.7" y="681.6" font-size="16" text-anchor="middle" letter-spacing="1" class="t">0</text>
<text x="193.6" y="681.6" font-size="16" text-anchor="middle" letter-spacing="1" class="t">100</text>
<text x="321.4" y="681.6" font-size="16" text-anchor="middle" letter-spacing="1" class="t">200</text>
<text x="449.3" y="681.6" font-size="16" text-anchor="middle" letter-spacing="1" class="t">300</text>
<g transform="translate(14.0,602.1) rotate(-90)"><text x="0" y="0" font-size="16" font-style="italic" textLength="18" lengthAdjust="spacingAndGlyphs">δν</text><text x="24.5" y="0" font-size="15.5" font-weight="bold" textLength="44.5" lengthAdjust="spacing">(<tspan font-style="italic" font-weight="normal">μ</tspan>Hz)</text></g>
<text x="247.7" y="226.3" font-size="15" class="t" textLength="38.8" lengthAdjust="spacingAndGlyphs">MMAI</text><text x="294.4" y="226.3" font-size="15" class="t" textLength="23" lengthAdjust="spacing">(G)</text>
<text x="245.1" y="463.3" font-size="15" class="t">F</text><text x="254.2" y="466" font-size="10.5" font-weight="bold" textLength="25.4" lengthAdjust="spacingAndGlyphs">10.7</text><text x="282.7" y="463.3" font-size="15.5" class="t" style="stroke-width:0.55px" textLength="37.5" lengthAdjust="spacingAndGlyphs">(sfu)</text>
<text x="268" y="699.5" font-size="15" class="t" textLength="28" lengthAdjust="spacing">TSN</text>
<line x1="380.3" y1="112.1" x2="400.7" y2="112.1" stroke="#0000ff" stroke-width="1.3"/>
<text x="415.5" y="117.7" font-size="12" letter-spacing="1.4" class="t" style="stroke-width:0.08px">Cycle 23</text>
<line x1="380.3" y1="129.3" x2="400.7" y2="129.3" stroke="#ff0000" stroke-width="1.3"/>
<text x="415.5" y="134.9" font-size="12" letter-spacing="1.4" class="t" style="stroke-width:0.08px">Cycle 24</text>
<line x1="380.3" y1="146.2" x2="400.7" y2="146.2" stroke="#a020f0" stroke-width="1.3"/>
<text x="415.5" y="151.8" font-size="12" letter-spacing="1.4" class="t" style="stroke-width:0.08px">Cycle 25</text>
<line x1="380.3" y1="163.2" x2="400.7" y2="163.2" stroke="#000000" stroke-width="1.3"/>
<text x="415.5" y="168.8" font-size="12" letter-spacing="1.4" class="t" style="stroke-width:0.08px">All Data</text>
</svg></body></html>
